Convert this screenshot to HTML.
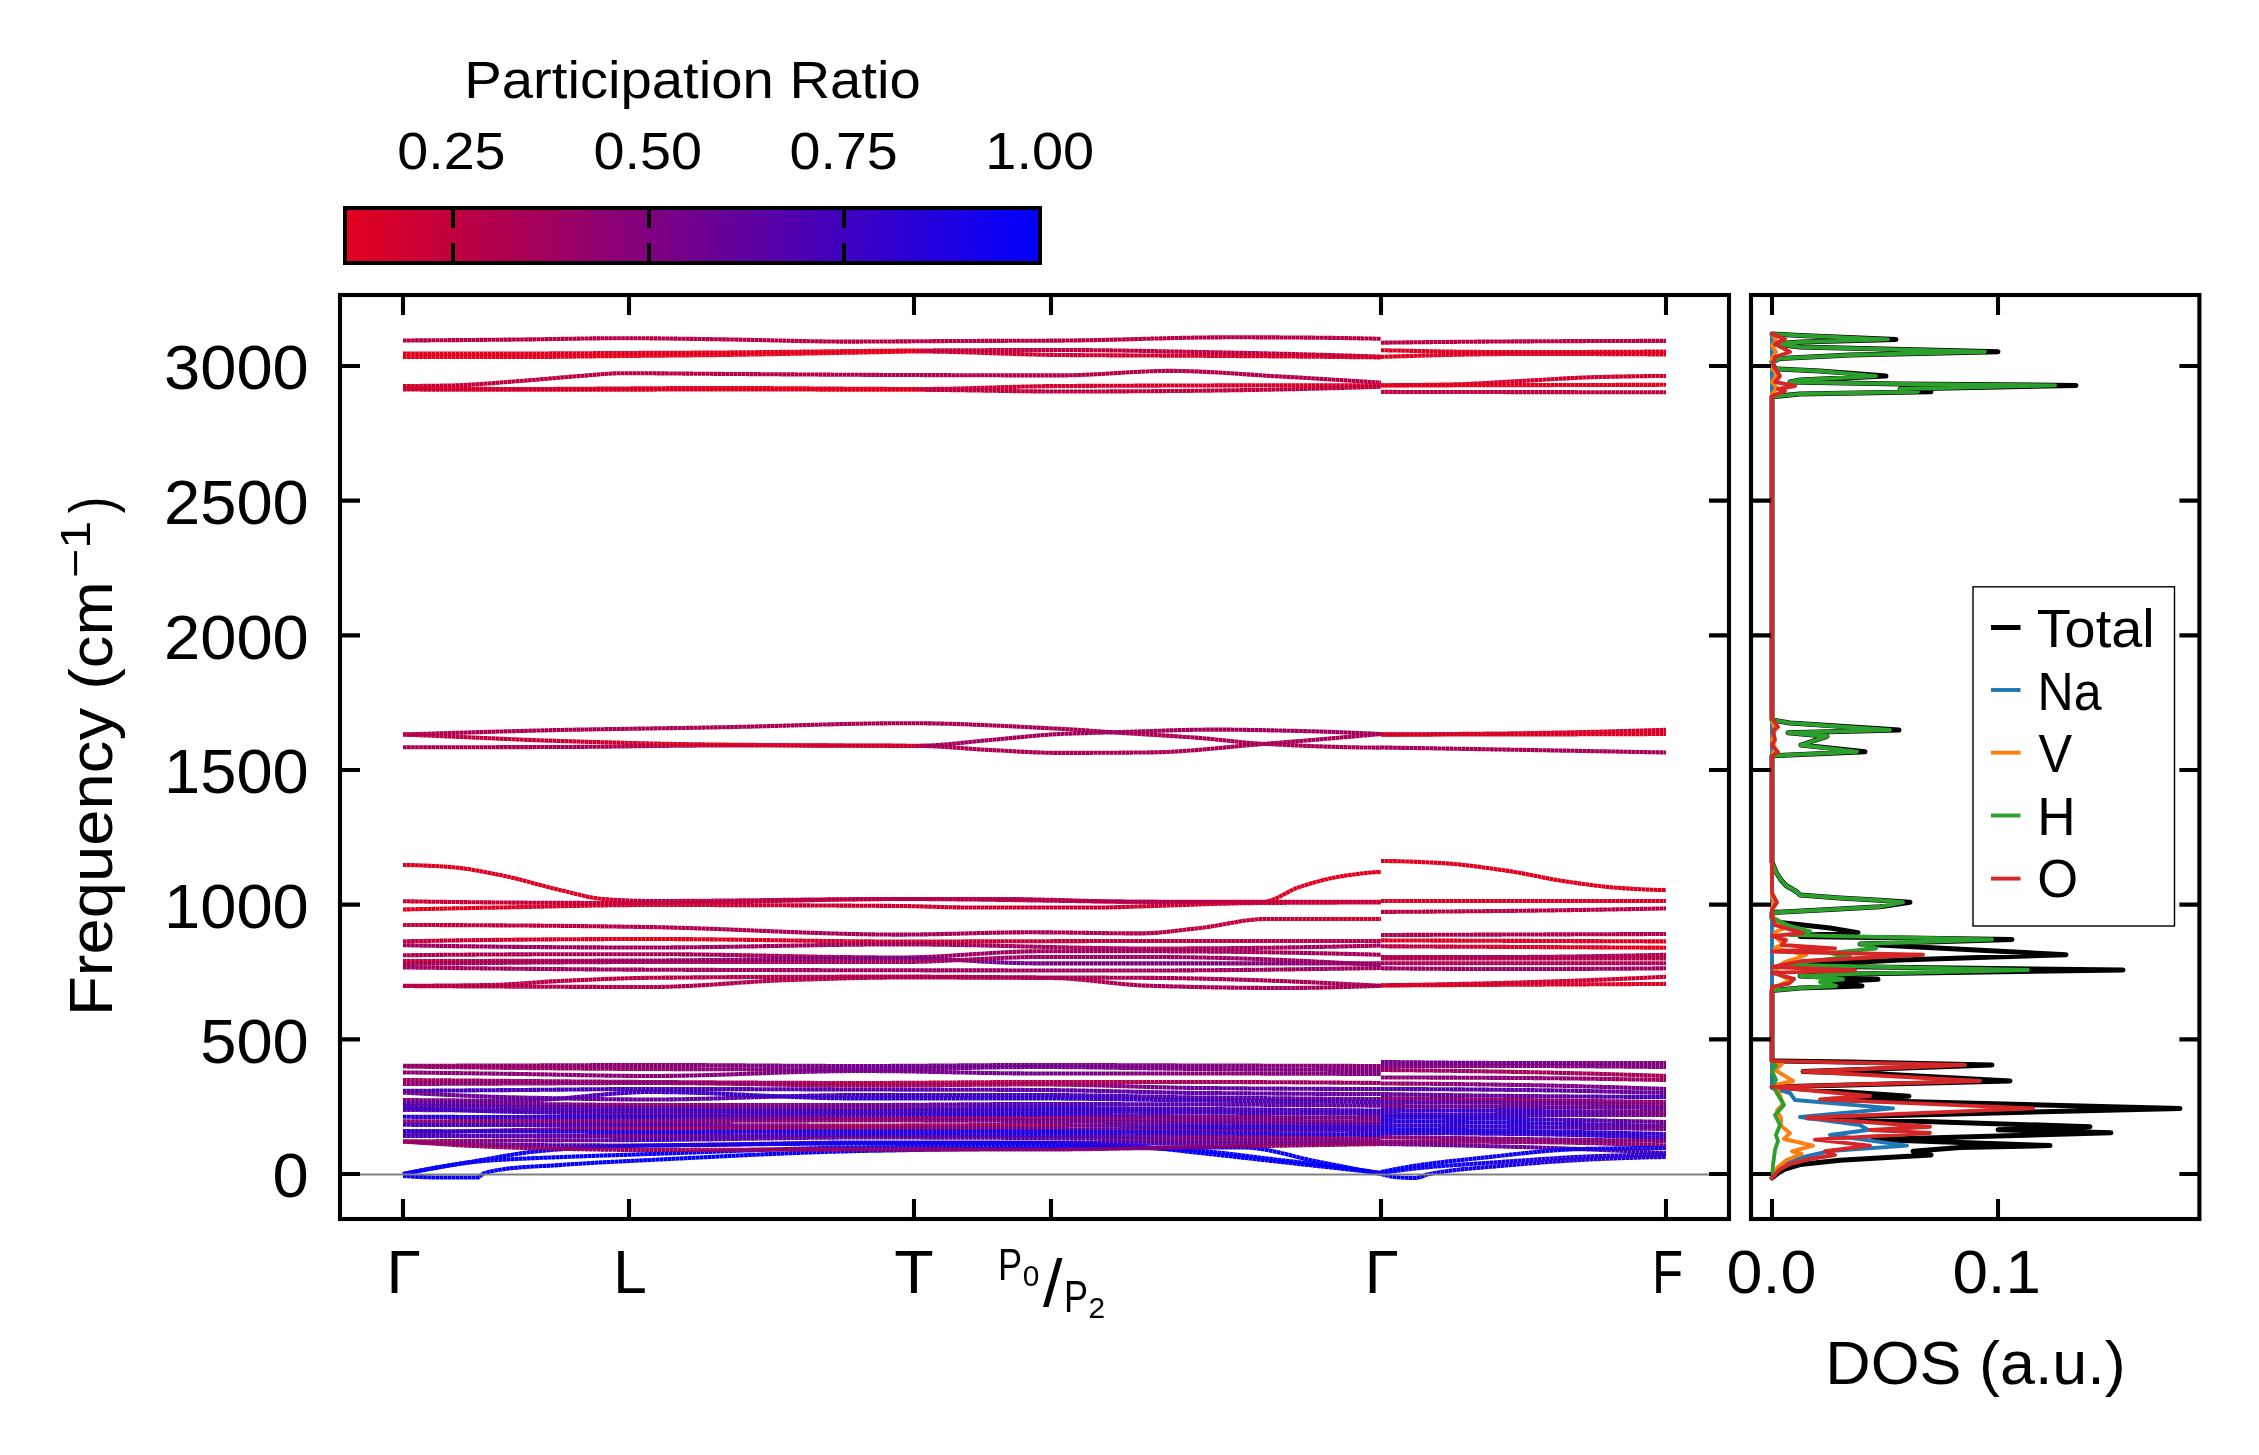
<!DOCTYPE html>
<html><head><meta charset="utf-8"><style>
html,body{margin:0;padding:0;background:#fff;width:2259px;height:1455px;overflow:hidden}
svg{display:block;will-change:transform}
text{font-family:"Liberation Sans",sans-serif}
</style></head><body>
<svg width="2259" height="1455" viewBox="0 0 2259 1455">
<defs><linearGradient id="cbg" x1="0" y1="0" x2="1" y2="0"><stop offset="0" stop-color="#e3001c"/><stop offset="1" stop-color="#0000ff"/></linearGradient><linearGradient id="g1" gradientUnits="userSpaceOnUse" x1="403" y1="0" x2="1381" y2="0"><stop offset="0.0000" stop-color="#de0021"/><stop offset="0.5184" stop-color="#de0021"/><stop offset="0.5389" stop-color="#bd0042"/><stop offset="1.0000" stop-color="#bd0042"/></linearGradient><linearGradient id="g2" gradientUnits="userSpaceOnUse" x1="403" y1="0" x2="1381" y2="0"><stop offset="0.0000" stop-color="#e6001a"/><stop offset="0.5184" stop-color="#e6001a"/><stop offset="0.5389" stop-color="#cc0033"/><stop offset="1.0000" stop-color="#d90026"/></linearGradient><linearGradient id="g3" gradientUnits="userSpaceOnUse" x1="403" y1="0" x2="1381" y2="0"><stop offset="0.0000" stop-color="#cc0033"/><stop offset="0.2014" stop-color="#ba0045"/><stop offset="1.0000" stop-color="#b2004c"/></linearGradient><linearGradient id="g4" gradientUnits="userSpaceOnUse" x1="403" y1="0" x2="1381" y2="0"><stop offset="0.0000" stop-color="#d90026"/><stop offset="0.5184" stop-color="#e6001a"/><stop offset="0.5389" stop-color="#cc0033"/><stop offset="1.0000" stop-color="#de0021"/></linearGradient><linearGradient id="g5" gradientUnits="userSpaceOnUse" x1="403" y1="0" x2="1381" y2="0"><stop offset="0.0000" stop-color="#cc0033"/><stop offset="0.5184" stop-color="#e6001a"/><stop offset="0.5389" stop-color="#bf0040"/><stop offset="1.0000" stop-color="#bf0040"/></linearGradient><linearGradient id="g6" gradientUnits="userSpaceOnUse" x1="403" y1="0" x2="1381" y2="0"><stop offset="0.0000" stop-color="#ab0054"/><stop offset="0.5082" stop-color="#b2004c"/><stop offset="1.0000" stop-color="#a3005c"/></linearGradient><linearGradient id="g7" gradientUnits="userSpaceOnUse" x1="403" y1="0" x2="1381" y2="0"><stop offset="0.0000" stop-color="#b80047"/><stop offset="0.2014" stop-color="#cc0033"/><stop offset="0.3241" stop-color="#db0024"/><stop offset="0.5184" stop-color="#d60029"/><stop offset="0.5389" stop-color="#a3005c"/><stop offset="1.0000" stop-color="#a3005c"/></linearGradient><linearGradient id="g8" gradientUnits="userSpaceOnUse" x1="403" y1="0" x2="1381" y2="0"><stop offset="0.0000" stop-color="#de0021"/><stop offset="0.2014" stop-color="#d90026"/><stop offset="0.2526" stop-color="#b2004c"/><stop offset="0.8661" stop-color="#b2004c"/><stop offset="0.8865" stop-color="#de0021"/><stop offset="1.0000" stop-color="#de0021"/></linearGradient><linearGradient id="g9" gradientUnits="userSpaceOnUse" x1="403" y1="0" x2="1381" y2="0"><stop offset="0.0000" stop-color="#cc0033"/><stop offset="0.2526" stop-color="#bf0040"/><stop offset="1.0000" stop-color="#ab0054"/></linearGradient><linearGradient id="g10" gradientUnits="userSpaceOnUse" x1="403" y1="0" x2="1381" y2="0"><stop offset="0.0000" stop-color="#e6001a"/><stop offset="0.2526" stop-color="#cc0033"/><stop offset="1.0000" stop-color="#cc0033"/></linearGradient><linearGradient id="g11" gradientUnits="userSpaceOnUse" x1="403" y1="0" x2="1381" y2="0"><stop offset="0.0000" stop-color="#c70038"/><stop offset="0.5082" stop-color="#a60059"/><stop offset="0.7536" stop-color="#b2004c"/><stop offset="1.0000" stop-color="#d90026"/></linearGradient><linearGradient id="g12" gradientUnits="userSpaceOnUse" x1="403" y1="0" x2="1381" y2="0"><stop offset="0.0000" stop-color="#bf0040"/><stop offset="0.2526" stop-color="#e6001a"/><stop offset="0.5082" stop-color="#cc0033"/><stop offset="1.0000" stop-color="#b2004c"/></linearGradient><linearGradient id="g13" gradientUnits="userSpaceOnUse" x1="403" y1="0" x2="1381" y2="0"><stop offset="0.0000" stop-color="#9e0061"/><stop offset="1.0000" stop-color="#a60059"/></linearGradient><linearGradient id="g14" gradientUnits="userSpaceOnUse" x1="403" y1="0" x2="1381" y2="0"><stop offset="0.0000" stop-color="#b2004c"/><stop offset="0.5082" stop-color="#9e0061"/><stop offset="1.0000" stop-color="#a60059"/></linearGradient><linearGradient id="g15" gradientUnits="userSpaceOnUse" x1="403" y1="0" x2="1381" y2="0"><stop offset="0.0000" stop-color="#cc0033"/><stop offset="0.2526" stop-color="#990066"/><stop offset="0.6104" stop-color="#73008c"/><stop offset="1.0000" stop-color="#8c0073"/></linearGradient><linearGradient id="g16" gradientUnits="userSpaceOnUse" x1="403" y1="0" x2="1381" y2="0"><stop offset="0.0000" stop-color="#a60059"/><stop offset="1.0000" stop-color="#990066"/></linearGradient><linearGradient id="g17" gradientUnits="userSpaceOnUse" x1="403" y1="0" x2="1381" y2="0"><stop offset="0.0000" stop-color="#bf0040"/><stop offset="1.0000" stop-color="#a60059"/></linearGradient><linearGradient id="g18" gradientUnits="userSpaceOnUse" x1="403" y1="0" x2="1381" y2="0"><stop offset="0.0000" stop-color="#b80047"/><stop offset="1.0000" stop-color="#a60059"/></linearGradient><linearGradient id="g19" gradientUnits="userSpaceOnUse" x1="1381" y1="0" x2="1666" y2="0"><stop offset="0.0000" stop-color="#b2004c"/><stop offset="0.4175" stop-color="#d90026"/><stop offset="1.0000" stop-color="#e6001a"/></linearGradient><linearGradient id="g20" gradientUnits="userSpaceOnUse" x1="1381" y1="0" x2="1666" y2="0"><stop offset="0.0000" stop-color="#b2004c"/><stop offset="0.4175" stop-color="#8c0073"/><stop offset="1.0000" stop-color="#b2004c"/></linearGradient><linearGradient id="g21" gradientUnits="userSpaceOnUse" x1="403" y1="0" x2="1381" y2="0"><stop offset="0.0000" stop-color="#0500fa"/><stop offset="1.0000" stop-color="#0500fa"/></linearGradient><linearGradient id="g22" gradientUnits="userSpaceOnUse" x1="403" y1="0" x2="1381" y2="0"><stop offset="0.0000" stop-color="#0500fa"/><stop offset="1.0000" stop-color="#0500fa"/></linearGradient><linearGradient id="g23" gradientUnits="userSpaceOnUse" x1="403" y1="0" x2="1381" y2="0"><stop offset="0.0000" stop-color="#0500fa"/><stop offset="1.0000" stop-color="#0500fa"/></linearGradient><linearGradient id="g24" gradientUnits="userSpaceOnUse" x1="403" y1="0" x2="1381" y2="0"><stop offset="0.0000" stop-color="#94006b"/><stop offset="0.1196" stop-color="#8f0070"/><stop offset="0.2526" stop-color="#8c0073"/><stop offset="0.4673" stop-color="#73008c"/><stop offset="0.6513" stop-color="#73008c"/><stop offset="0.8149" stop-color="#800080"/><stop offset="1.0000" stop-color="#8c0073"/></linearGradient><linearGradient id="g25" gradientUnits="userSpaceOnUse" x1="403" y1="0" x2="1381" y2="0"><stop offset="0.0000" stop-color="#990066"/><stop offset="0.1196" stop-color="#990066"/><stop offset="0.2526" stop-color="#94006b"/><stop offset="0.4673" stop-color="#73008c"/><stop offset="0.6513" stop-color="#73008c"/><stop offset="0.8149" stop-color="#800080"/><stop offset="1.0000" stop-color="#800080"/></linearGradient><linearGradient id="g26" gradientUnits="userSpaceOnUse" x1="403" y1="0" x2="1381" y2="0"><stop offset="0.0000" stop-color="#8c0073"/><stop offset="0.1196" stop-color="#8c0073"/><stop offset="0.2526" stop-color="#8c0073"/><stop offset="0.4673" stop-color="#73008c"/><stop offset="0.6513" stop-color="#73008c"/><stop offset="0.8149" stop-color="#8c0073"/><stop offset="1.0000" stop-color="#800080"/></linearGradient><linearGradient id="g27" gradientUnits="userSpaceOnUse" x1="403" y1="0" x2="1381" y2="0"><stop offset="0.0000" stop-color="#a60059"/><stop offset="0.1196" stop-color="#990066"/><stop offset="0.2526" stop-color="#94006b"/><stop offset="0.4673" stop-color="#b2004c"/><stop offset="0.6513" stop-color="#b80047"/><stop offset="0.8149" stop-color="#a60059"/><stop offset="1.0000" stop-color="#990066"/></linearGradient><linearGradient id="g28" gradientUnits="userSpaceOnUse" x1="403" y1="0" x2="1381" y2="0"><stop offset="0.0000" stop-color="#8c0073"/><stop offset="0.1196" stop-color="#8c0073"/><stop offset="0.2526" stop-color="#8c0073"/><stop offset="0.4673" stop-color="#a60059"/><stop offset="0.6513" stop-color="#a60059"/><stop offset="0.8149" stop-color="#660099"/><stop offset="1.0000" stop-color="#5900a6"/></linearGradient><linearGradient id="g29" gradientUnits="userSpaceOnUse" x1="403" y1="0" x2="1381" y2="0"><stop offset="0.0000" stop-color="#4700b8"/><stop offset="0.1196" stop-color="#4700b8"/><stop offset="0.2526" stop-color="#4700b8"/><stop offset="0.4673" stop-color="#5900a6"/><stop offset="0.6513" stop-color="#5900a6"/><stop offset="0.8149" stop-color="#5900a6"/><stop offset="1.0000" stop-color="#660099"/></linearGradient><linearGradient id="g30" gradientUnits="userSpaceOnUse" x1="403" y1="0" x2="1381" y2="0"><stop offset="0.0000" stop-color="#73008c"/><stop offset="0.1196" stop-color="#660099"/><stop offset="0.2526" stop-color="#660099"/><stop offset="0.4673" stop-color="#4000bf"/><stop offset="0.6513" stop-color="#4000bf"/><stop offset="0.8149" stop-color="#5900a6"/><stop offset="1.0000" stop-color="#660099"/></linearGradient><linearGradient id="g31" gradientUnits="userSpaceOnUse" x1="403" y1="0" x2="1381" y2="0"><stop offset="0.0000" stop-color="#800080"/><stop offset="0.1196" stop-color="#660099"/><stop offset="0.2526" stop-color="#4000bf"/><stop offset="0.4673" stop-color="#3800c7"/><stop offset="0.6513" stop-color="#3300cc"/><stop offset="0.8149" stop-color="#4700b8"/><stop offset="1.0000" stop-color="#4d00b2"/></linearGradient><linearGradient id="g32" gradientUnits="userSpaceOnUse" x1="403" y1="0" x2="1381" y2="0"><stop offset="0.0000" stop-color="#5900a6"/><stop offset="0.1196" stop-color="#73008c"/><stop offset="0.2526" stop-color="#8c0073"/><stop offset="0.4673" stop-color="#73008c"/><stop offset="0.6513" stop-color="#4d00b2"/><stop offset="0.8149" stop-color="#5900a6"/><stop offset="1.0000" stop-color="#660099"/></linearGradient><linearGradient id="g33" gradientUnits="userSpaceOnUse" x1="403" y1="0" x2="1381" y2="0"><stop offset="0.0000" stop-color="#4d00b2"/><stop offset="0.1196" stop-color="#5900a6"/><stop offset="0.2526" stop-color="#660099"/><stop offset="0.4673" stop-color="#73008c"/><stop offset="0.6513" stop-color="#3300cc"/><stop offset="0.8149" stop-color="#4d00b2"/><stop offset="1.0000" stop-color="#4000bf"/></linearGradient><linearGradient id="g34" gradientUnits="userSpaceOnUse" x1="403" y1="0" x2="1381" y2="0"><stop offset="0.0000" stop-color="#660099"/><stop offset="0.1196" stop-color="#4d00b2"/><stop offset="0.2526" stop-color="#4000bf"/><stop offset="0.4673" stop-color="#4000bf"/><stop offset="0.6513" stop-color="#3300cc"/><stop offset="0.8149" stop-color="#4000bf"/><stop offset="1.0000" stop-color="#4d00b2"/></linearGradient><linearGradient id="g35" gradientUnits="userSpaceOnUse" x1="403" y1="0" x2="1381" y2="0"><stop offset="0.0000" stop-color="#4000bf"/><stop offset="0.1196" stop-color="#4d00b2"/><stop offset="0.2526" stop-color="#5900a6"/><stop offset="0.4673" stop-color="#4000bf"/><stop offset="0.6513" stop-color="#2600d9"/><stop offset="0.8149" stop-color="#7a0085"/><stop offset="1.0000" stop-color="#73008c"/></linearGradient><linearGradient id="g36" gradientUnits="userSpaceOnUse" x1="403" y1="0" x2="1381" y2="0"><stop offset="0.0000" stop-color="#2600d9"/><stop offset="0.1196" stop-color="#2e00d1"/><stop offset="0.2526" stop-color="#3300cc"/><stop offset="0.4673" stop-color="#800080"/><stop offset="0.6513" stop-color="#8c0073"/><stop offset="0.8149" stop-color="#73008c"/><stop offset="1.0000" stop-color="#800080"/></linearGradient><linearGradient id="g37" gradientUnits="userSpaceOnUse" x1="403" y1="0" x2="1381" y2="0"><stop offset="0.0000" stop-color="#990066"/><stop offset="0.1196" stop-color="#8c0073"/><stop offset="0.2526" stop-color="#800080"/><stop offset="0.4673" stop-color="#8c0073"/><stop offset="0.6513" stop-color="#73008c"/><stop offset="0.8149" stop-color="#660099"/><stop offset="1.0000" stop-color="#4d00b2"/></linearGradient><linearGradient id="g38" gradientUnits="userSpaceOnUse" x1="403" y1="0" x2="1381" y2="0"><stop offset="0.0000" stop-color="#4000bf"/><stop offset="0.1196" stop-color="#4700b8"/><stop offset="0.2526" stop-color="#4d00b2"/><stop offset="0.4673" stop-color="#a60059"/><stop offset="0.6513" stop-color="#990066"/><stop offset="0.8149" stop-color="#2600d9"/><stop offset="1.0000" stop-color="#3300cc"/></linearGradient><linearGradient id="g39" gradientUnits="userSpaceOnUse" x1="403" y1="0" x2="1381" y2="0"><stop offset="0.0000" stop-color="#660099"/><stop offset="0.1196" stop-color="#800080"/><stop offset="0.2526" stop-color="#8c0073"/><stop offset="0.4673" stop-color="#990066"/><stop offset="0.6513" stop-color="#660099"/><stop offset="0.8149" stop-color="#5900a6"/><stop offset="1.0000" stop-color="#4000bf"/></linearGradient><linearGradient id="g40" gradientUnits="userSpaceOnUse" x1="403" y1="0" x2="1381" y2="0"><stop offset="0.0000" stop-color="#3300cc"/><stop offset="0.1196" stop-color="#2e00d1"/><stop offset="0.2526" stop-color="#2600d9"/><stop offset="0.4673" stop-color="#1f00e0"/><stop offset="0.6513" stop-color="#1900e6"/><stop offset="0.8149" stop-color="#2e00d1"/><stop offset="1.0000" stop-color="#2600d9"/></linearGradient><linearGradient id="g41" gradientUnits="userSpaceOnUse" x1="403" y1="0" x2="1381" y2="0"><stop offset="0.0000" stop-color="#4000bf"/><stop offset="0.1196" stop-color="#5900a6"/><stop offset="0.2526" stop-color="#73008c"/><stop offset="0.4673" stop-color="#2600d9"/><stop offset="0.6513" stop-color="#2600d9"/><stop offset="0.8149" stop-color="#800080"/><stop offset="1.0000" stop-color="#8c0073"/></linearGradient><linearGradient id="g42" gradientUnits="userSpaceOnUse" x1="403" y1="0" x2="1381" y2="0"><stop offset="0.0000" stop-color="#a60059"/><stop offset="0.1196" stop-color="#73008c"/><stop offset="0.2526" stop-color="#4d00b2"/><stop offset="0.4673" stop-color="#660099"/><stop offset="0.6513" stop-color="#5900a6"/><stop offset="0.8149" stop-color="#73008c"/><stop offset="1.0000" stop-color="#800080"/></linearGradient><linearGradient id="g43" gradientUnits="userSpaceOnUse" x1="403" y1="0" x2="1381" y2="0"><stop offset="0.0000" stop-color="#9e0061"/><stop offset="0.1196" stop-color="#660099"/><stop offset="0.2526" stop-color="#2600d9"/><stop offset="0.4673" stop-color="#1900e6"/><stop offset="0.6513" stop-color="#1f00e0"/><stop offset="0.8149" stop-color="#660099"/><stop offset="1.0000" stop-color="#8c0073"/></linearGradient><linearGradient id="g44" gradientUnits="userSpaceOnUse" x1="403" y1="0" x2="1381" y2="0"><stop offset="0.0000" stop-color="#990066"/><stop offset="0.1196" stop-color="#94006b"/><stop offset="0.2526" stop-color="#9e0061"/><stop offset="0.4673" stop-color="#a60059"/><stop offset="0.6513" stop-color="#8c0073"/><stop offset="0.8149" stop-color="#8c0073"/><stop offset="1.0000" stop-color="#990066"/></linearGradient><linearGradient id="g45" gradientUnits="userSpaceOnUse" x1="1381" y1="0" x2="1666" y2="0"><stop offset="0.0000" stop-color="#73008c"/><stop offset="0.4877" stop-color="#73008c"/><stop offset="1.0000" stop-color="#800080"/></linearGradient><linearGradient id="g46" gradientUnits="userSpaceOnUse" x1="1381" y1="0" x2="1666" y2="0"><stop offset="0.0000" stop-color="#800080"/><stop offset="0.4877" stop-color="#800080"/><stop offset="1.0000" stop-color="#800080"/></linearGradient><linearGradient id="g47" gradientUnits="userSpaceOnUse" x1="1381" y1="0" x2="1666" y2="0"><stop offset="0.0000" stop-color="#990066"/><stop offset="0.4877" stop-color="#a60059"/><stop offset="1.0000" stop-color="#a60059"/></linearGradient><linearGradient id="g48" gradientUnits="userSpaceOnUse" x1="1381" y1="0" x2="1666" y2="0"><stop offset="0.0000" stop-color="#8c0073"/><stop offset="0.4877" stop-color="#8c0073"/><stop offset="1.0000" stop-color="#a60059"/></linearGradient><linearGradient id="g49" gradientUnits="userSpaceOnUse" x1="1381" y1="0" x2="1666" y2="0"><stop offset="0.0000" stop-color="#990066"/><stop offset="0.4877" stop-color="#800080"/><stop offset="1.0000" stop-color="#73008c"/></linearGradient><linearGradient id="g50" gradientUnits="userSpaceOnUse" x1="1381" y1="0" x2="1666" y2="0"><stop offset="0.0000" stop-color="#4d00b2"/><stop offset="0.4877" stop-color="#5900a6"/><stop offset="1.0000" stop-color="#660099"/></linearGradient><linearGradient id="g51" gradientUnits="userSpaceOnUse" x1="1381" y1="0" x2="1666" y2="0"><stop offset="0.0000" stop-color="#660099"/><stop offset="0.4877" stop-color="#660099"/><stop offset="1.0000" stop-color="#4000bf"/></linearGradient><linearGradient id="g52" gradientUnits="userSpaceOnUse" x1="1381" y1="0" x2="1666" y2="0"><stop offset="0.0000" stop-color="#800080"/><stop offset="0.4877" stop-color="#8c0073"/><stop offset="1.0000" stop-color="#8c0073"/></linearGradient><linearGradient id="g53" gradientUnits="userSpaceOnUse" x1="1381" y1="0" x2="1666" y2="0"><stop offset="0.0000" stop-color="#5900a6"/><stop offset="0.4877" stop-color="#660099"/><stop offset="1.0000" stop-color="#8c0073"/></linearGradient><linearGradient id="g54" gradientUnits="userSpaceOnUse" x1="1381" y1="0" x2="1666" y2="0"><stop offset="0.0000" stop-color="#73008c"/><stop offset="0.4877" stop-color="#660099"/><stop offset="1.0000" stop-color="#660099"/></linearGradient><linearGradient id="g55" gradientUnits="userSpaceOnUse" x1="1381" y1="0" x2="1666" y2="0"><stop offset="0.0000" stop-color="#4000bf"/><stop offset="0.4877" stop-color="#3300cc"/><stop offset="1.0000" stop-color="#8c0073"/></linearGradient><linearGradient id="g56" gradientUnits="userSpaceOnUse" x1="1381" y1="0" x2="1666" y2="0"><stop offset="0.0000" stop-color="#4000bf"/><stop offset="0.4877" stop-color="#4000bf"/><stop offset="1.0000" stop-color="#800080"/></linearGradient><linearGradient id="g57" gradientUnits="userSpaceOnUse" x1="1381" y1="0" x2="1666" y2="0"><stop offset="0.0000" stop-color="#2600d9"/><stop offset="0.4877" stop-color="#3300cc"/><stop offset="1.0000" stop-color="#73008c"/></linearGradient><linearGradient id="g58" gradientUnits="userSpaceOnUse" x1="1381" y1="0" x2="1666" y2="0"><stop offset="0.0000" stop-color="#2600d9"/><stop offset="0.4877" stop-color="#2600d9"/><stop offset="1.0000" stop-color="#660099"/></linearGradient><linearGradient id="g59" gradientUnits="userSpaceOnUse" x1="1381" y1="0" x2="1666" y2="0"><stop offset="0.0000" stop-color="#3300cc"/><stop offset="0.4877" stop-color="#3300cc"/><stop offset="1.0000" stop-color="#800080"/></linearGradient><linearGradient id="g60" gradientUnits="userSpaceOnUse" x1="1381" y1="0" x2="1666" y2="0"><stop offset="0.0000" stop-color="#1900e6"/><stop offset="0.4877" stop-color="#2600d9"/><stop offset="1.0000" stop-color="#3300cc"/></linearGradient><linearGradient id="g61" gradientUnits="userSpaceOnUse" x1="1381" y1="0" x2="1666" y2="0"><stop offset="0.0000" stop-color="#2600d9"/><stop offset="0.4877" stop-color="#3300cc"/><stop offset="1.0000" stop-color="#3300cc"/></linearGradient><linearGradient id="g62" gradientUnits="userSpaceOnUse" x1="1381" y1="0" x2="1666" y2="0"><stop offset="0.0000" stop-color="#8c0073"/><stop offset="0.4877" stop-color="#800080"/><stop offset="1.0000" stop-color="#800080"/></linearGradient><linearGradient id="g63" gradientUnits="userSpaceOnUse" x1="1381" y1="0" x2="1666" y2="0"><stop offset="0.0000" stop-color="#8c0073"/><stop offset="0.4877" stop-color="#8c0073"/><stop offset="1.0000" stop-color="#8c0073"/></linearGradient><linearGradient id="g64" gradientUnits="userSpaceOnUse" x1="1381" y1="0" x2="1666" y2="0"><stop offset="0.0000" stop-color="#800080"/><stop offset="0.4877" stop-color="#660099"/><stop offset="1.0000" stop-color="#4d00b2"/></linearGradient><linearGradient id="g65" gradientUnits="userSpaceOnUse" x1="1381" y1="0" x2="1666" y2="0"><stop offset="0.0000" stop-color="#0500fa"/><stop offset="1.0000" stop-color="#1900e6"/></linearGradient><linearGradient id="g66" gradientUnits="userSpaceOnUse" x1="1381" y1="0" x2="1666" y2="0"><stop offset="0.0000" stop-color="#0500fa"/><stop offset="1.0000" stop-color="#3300cc"/></linearGradient><linearGradient id="g67" gradientUnits="userSpaceOnUse" x1="1381" y1="0" x2="1666" y2="0"><stop offset="0.0000" stop-color="#0500fa"/><stop offset="1.0000" stop-color="#3300cc"/></linearGradient></defs>
<rect width="2259" height="1455" fill="#fff"/>
<path d="M403 340.5 408.02 340.47 413.03 340.43 418.05 340.4 423.06 340.36 428.08 340.33 433.09 340.29 438.11 340.25 443.12 340.21 448.14 340.17 453.15 340.13 458.17 340.09 463.18 340.04 468.2 340 473.22 339.95 478.23 339.91 483.25 339.86 488.26 339.81 493.28 339.77 498.29 339.72 503.31 339.67 508.32 339.62 513.34 339.57 518.35 339.52 523.37 339.46 528.38 339.4 533.4 339.34 538.42 339.26 543.43 339.19 548.45 339.1 553.46 339.02 558.48 338.94 563.49 338.85 568.51 338.77 573.52 338.69 578.54 338.61 583.55 338.53 588.57 338.46 593.58 338.4 598.6 338.34 603.62 338.29 608.63 338.25 613.65 338.22 618.66 338.2 623.68 338.2 628.69 338.21 633.71 338.22 638.72 338.25 643.74 338.28 648.75 338.32 653.77 338.37 658.78 338.42 663.8 338.48 668.82 338.55 673.83 338.62 678.85 338.69 683.86 338.76 688.88 338.84 693.89 338.91 698.91 338.99 703.92 339.07 708.94 339.14 713.95 339.21 718.97 339.29 723.98 339.36 729 339.44 734.02 339.53 739.03 339.63 744.05 339.73 749.06 339.84 754.08 339.95 759.09 340.07 764.11 340.19 769.12 340.31 774.14 340.43 779.15 340.56 784.17 340.67 789.18 340.79 794.2 340.9 799.22 341.01 804.23 341.11 809.25 341.21 814.26 341.29 819.28 341.37 824.29 341.44 829.31 341.5 834.32 341.54 839.34 341.58 844.35 341.6 849.37 341.6 854.38 341.6 859.4 341.59 864.42 341.57 869.43 341.56 874.45 341.54 879.46 341.51 884.48 341.49 889.49 341.46 894.51 341.43 899.52 341.39 904.54 341.36 909.55 341.33 914.57 341.29 919.58 341.25 924.6 341.22 929.62 341.18 934.63 341.15 939.65 341.11 944.66 341.08 949.68 341.05 954.69 341.03 959.71 341 964.72 340.98 969.74 340.96 974.75 340.94 979.77 340.92 984.78 340.9 989.8 340.89 994.82 340.87 999.83 340.85 1004.85 340.84 1009.86 340.82 1014.88 340.81 1019.89 340.79 1024.91 340.77 1029.92 340.75 1034.94 340.73 1039.95 340.71 1044.97 340.68 1049.98 340.66 1055 340.63 1060.02 340.6 1065.03 340.56 1070.05 340.51 1075.06 340.45 1080.08 340.37 1085.09 340.29 1090.11 340.2 1095.12 340.1 1100.14 339.99 1105.15 339.87 1110.17 339.75 1115.18 339.62 1120.2 339.49 1125.22 339.36 1130.23 339.22 1135.25 339.09 1140.26 338.95 1145.28 338.81 1150.29 338.67 1155.31 338.54 1160.32 338.4 1165.34 338.27 1170.35 338.15 1175.37 338.03 1180.38 337.91 1185.4 337.81 1190.42 337.71 1195.43 337.62 1200.45 337.54 1205.46 337.47 1210.48 337.41 1215.49 337.36 1220.51 337.33 1225.52 337.31 1230.54 337.3 1235.55 337.3 1240.57 337.3 1245.58 337.31 1250.6 337.32 1255.62 337.33 1260.63 337.34 1265.65 337.36 1270.66 337.38 1275.68 337.4 1280.69 337.43 1285.71 337.45 1290.72 337.49 1295.74 337.52 1300.75 337.56 1305.77 337.6 1310.78 337.65 1315.8 337.7 1320.82 337.76 1325.83 337.82 1330.85 337.88 1335.86 337.95 1340.88 338.03 1345.89 338.1 1350.91 338.19 1355.92 338.28 1360.94 338.37 1365.95 338.47 1370.97 338.57 1375.98 338.68 1381 338.8" stroke="#b80047" stroke-width="4.1" fill="none" stroke-dasharray="3.74 0.3"/>
<path d="M403 353.5 408.02 353.5 413.03 353.5 418.05 353.5 423.06 353.5 428.08 353.5 433.09 353.5 438.11 353.5 443.12 353.5 448.14 353.5 453.15 353.5 458.17 353.5 463.18 353.5 468.2 353.5 473.22 353.5 478.23 353.5 483.25 353.5 488.26 353.5 493.28 353.5 498.29 353.5 503.31 353.5 508.32 353.5 513.34 353.5 518.35 353.5 523.37 353.5 528.38 353.49 533.4 353.48 538.42 353.47 543.43 353.45 548.45 353.44 553.46 353.41 558.48 353.39 563.49 353.36 568.51 353.33 573.52 353.3 578.54 353.27 583.55 353.24 588.57 353.21 593.58 353.17 598.6 353.14 603.62 353.11 608.63 353.08 613.65 353.05 618.66 353.02 623.68 353 628.69 352.97 633.71 352.95 638.72 352.92 643.74 352.9 648.75 352.88 653.77 352.85 658.78 352.83 663.8 352.81 668.82 352.78 673.83 352.76 678.85 352.74 683.86 352.71 688.88 352.69 693.89 352.66 698.91 352.63 703.92 352.6 708.94 352.57 713.95 352.54 718.97 352.51 723.98 352.47 729 352.43 734.02 352.39 739.03 352.35 744.05 352.3 749.06 352.25 754.08 352.2 759.09 352.15 764.11 352.09 769.12 352.04 774.14 351.98 779.15 351.92 784.17 351.86 789.18 351.8 794.2 351.74 799.22 351.68 804.23 351.62 809.25 351.56 814.26 351.5 819.28 351.44 824.29 351.38 829.31 351.32 834.32 351.26 839.34 351.21 844.35 351.16 849.37 351.1 854.38 351.05 859.4 351.01 864.42 350.96 869.43 350.91 874.45 350.86 879.46 350.82 884.48 350.77 889.49 350.72 894.51 350.68 899.52 350.64 904.54 350.6 909.55 350.56 914.57 350.53 919.58 350.5 924.6 350.48 929.62 350.45 934.63 350.42 939.65 350.4 944.66 350.37 949.68 350.34 954.69 350.32 959.71 350.29 964.72 350.27 969.74 350.25 974.75 350.22 979.77 350.2 984.78 350.18 989.8 350.16 994.82 350.14 999.83 350.12 1004.85 350.1 1009.86 350.09 1014.88 350.07 1019.89 350.06 1024.91 350.04 1029.92 350.03 1034.94 350.02 1039.95 350.01 1044.97 350.01 1049.98 350 1055 350 1060.02 350 1065.03 350 1070.05 350.02 1075.06 350.04 1080.08 350.07 1085.09 350.1 1090.11 350.15 1095.12 350.2 1100.14 350.25 1105.15 350.31 1110.17 350.38 1115.18 350.45 1120.2 350.52 1125.22 350.6 1130.23 350.69 1135.25 350.77 1140.26 350.86 1145.28 350.96 1150.29 351.05 1155.31 351.14 1160.32 351.24 1165.34 351.34 1170.35 351.44 1175.37 351.53 1180.38 351.63 1185.4 351.73 1190.42 351.82 1195.43 351.92 1200.45 352.01 1205.46 352.1 1210.48 352.19 1215.49 352.29 1220.51 352.39 1225.52 352.49 1230.54 352.59 1235.55 352.7 1240.57 352.81 1245.58 352.92 1250.6 353.03 1255.62 353.14 1260.63 353.26 1265.65 353.38 1270.66 353.5 1275.68 353.62 1280.69 353.74 1285.71 353.87 1290.72 354 1295.74 354.13 1300.75 354.26 1305.77 354.39 1310.78 354.53 1315.8 354.67 1320.82 354.8 1325.83 354.94 1330.85 355.09 1335.86 355.23 1340.88 355.38 1345.89 355.52 1350.91 355.67 1355.92 355.82 1360.94 355.98 1365.95 356.13 1370.97 356.29 1375.98 356.44 1381 356.6" stroke="url(#g1)" stroke-width="4.1" fill="none" stroke-dasharray="3.74 0.3"/>
<path d="M403 357 408.02 357 413.03 357 418.05 357 423.06 357 428.08 357 433.09 357 438.11 357 443.12 357 448.14 357 453.15 357 458.17 357 463.18 357 468.2 357 473.22 357 478.23 357 483.25 357 488.26 357 493.28 357 498.29 357 503.31 357 508.32 357 513.34 357 518.35 357 523.37 357 528.38 356.99 533.4 356.97 538.42 356.94 543.43 356.91 548.45 356.87 553.46 356.83 558.48 356.78 563.49 356.72 568.51 356.66 573.52 356.6 578.54 356.54 583.55 356.48 588.57 356.41 593.58 356.35 598.6 356.28 603.62 356.22 608.63 356.16 613.65 356.1 618.66 356.04 623.68 355.99 628.69 355.94 633.71 355.89 638.72 355.85 643.74 355.8 648.75 355.75 653.77 355.7 658.78 355.66 663.8 355.61 668.82 355.56 673.83 355.51 678.85 355.46 683.86 355.41 688.88 355.36 693.89 355.31 698.91 355.25 703.92 355.2 708.94 355.14 713.95 355.08 718.97 355.01 723.98 354.95 729 354.88 734.02 354.81 739.03 354.73 744.05 354.65 749.06 354.57 754.08 354.48 759.09 354.4 764.11 354.31 769.12 354.22 774.14 354.13 779.15 354.03 784.17 353.94 789.18 353.84 794.2 353.74 799.22 353.65 804.23 353.55 809.25 353.45 814.26 353.35 819.28 353.25 824.29 353.16 829.31 353.06 834.32 352.97 839.34 352.87 844.35 352.78 849.37 352.69 854.38 352.6 859.4 352.51 864.42 352.42 869.43 352.32 874.45 352.21 879.46 352.1 884.48 351.99 889.49 351.88 894.51 351.78 899.52 351.69 904.54 351.61 909.55 351.55 914.57 351.52 919.58 351.5 924.6 351.51 929.62 351.54 934.63 351.59 939.65 351.67 944.66 351.75 949.68 351.86 954.69 351.98 959.71 352.11 964.72 352.25 969.74 352.41 974.75 352.57 979.77 352.73 984.78 352.9 989.8 353.08 994.82 353.26 999.83 353.43 1004.85 353.61 1009.86 353.78 1014.88 353.95 1019.89 354.11 1024.91 354.27 1029.92 354.41 1034.94 354.55 1039.95 354.67 1044.97 354.78 1049.98 354.87 1055 354.94 1060.02 355 1065.03 355.05 1070.05 355.09 1075.06 355.13 1080.08 355.16 1085.09 355.2 1090.11 355.23 1095.12 355.26 1100.14 355.29 1105.15 355.32 1110.17 355.35 1115.18 355.37 1120.2 355.4 1125.22 355.42 1130.23 355.44 1135.25 355.47 1140.26 355.49 1145.28 355.51 1150.29 355.53 1155.31 355.56 1160.32 355.58 1165.34 355.6 1170.35 355.63 1175.37 355.65 1180.38 355.68 1185.4 355.71 1190.42 355.74 1195.43 355.77 1200.45 355.8 1205.46 355.84 1210.48 355.87 1215.49 355.91 1220.51 355.95 1225.52 355.98 1230.54 356.02 1235.55 356.06 1240.57 356.1 1245.58 356.14 1250.6 356.18 1255.62 356.22 1260.63 356.26 1265.65 356.3 1270.66 356.34 1275.68 356.39 1280.69 356.43 1285.71 356.47 1290.72 356.52 1295.74 356.56 1300.75 356.61 1305.77 356.65 1310.78 356.7 1315.8 356.75 1320.82 356.79 1325.83 356.84 1330.85 356.89 1335.86 356.94 1340.88 356.99 1345.89 357.04 1350.91 357.09 1355.92 357.14 1360.94 357.19 1365.95 357.24 1370.97 357.29 1375.98 357.35 1381 357.4" stroke="url(#g2)" stroke-width="4.1" fill="none" stroke-dasharray="3.74 0.3"/>
<path d="M403 386 408.02 385.99 413.03 385.97 418.05 385.94 423.06 385.89 428.08 385.83 433.09 385.77 438.11 385.7 443.12 385.62 448.14 385.53 453.15 385.43 458.17 385.28 463.18 385.08 468.2 384.83 473.22 384.54 478.23 384.21 483.25 383.86 488.26 383.49 493.28 383.1 498.29 382.7 503.31 382.3 508.32 381.9 513.34 381.5 518.35 381.12 523.37 380.75 528.38 380.36 533.4 379.94 538.42 379.52 543.43 379.08 548.45 378.64 553.46 378.19 558.48 377.75 563.49 377.32 568.51 376.9 573.52 376.49 578.54 376.11 583.55 375.73 588.57 375.31 593.58 374.88 598.6 374.45 603.62 374.05 608.63 373.7 613.65 373.42 618.66 373.25 623.68 373.2 628.69 373.2 633.71 373.22 638.72 373.23 643.74 373.26 648.75 373.29 653.77 373.32 658.78 373.36 663.8 373.4 668.82 373.44 673.83 373.49 678.85 373.54 683.86 373.59 688.88 373.63 693.89 373.68 698.91 373.73 703.92 373.77 708.94 373.82 713.95 373.86 718.97 373.89 723.98 373.93 729 373.96 734.02 373.99 739.03 374.03 744.05 374.06 749.06 374.1 754.08 374.13 759.09 374.17 764.11 374.2 769.12 374.24 774.14 374.28 779.15 374.31 784.17 374.35 789.18 374.38 794.2 374.41 799.22 374.45 804.23 374.48 809.25 374.52 814.26 374.55 819.28 374.58 824.29 374.61 829.31 374.65 834.32 374.68 839.34 374.71 844.35 374.74 849.37 374.76 854.38 374.79 859.4 374.82 864.42 374.85 869.43 374.87 874.45 374.89 879.46 374.92 884.48 374.94 889.49 374.96 894.51 374.98 899.52 375 904.54 375.02 909.55 375.03 914.57 375.05 919.58 375.07 924.6 375.09 929.62 375.11 934.63 375.12 939.65 375.14 944.66 375.16 949.68 375.17 954.69 375.19 959.71 375.21 964.72 375.22 969.74 375.24 974.75 375.26 979.77 375.27 984.78 375.28 989.8 375.3 994.82 375.31 999.83 375.32 1004.85 375.33 1009.86 375.34 1014.88 375.35 1019.89 375.36 1024.91 375.37 1029.92 375.38 1034.94 375.39 1039.95 375.39 1044.97 375.39 1049.98 375.4 1055 375.4 1060.02 375.4 1065.03 375.37 1070.05 375.29 1075.06 375.17 1080.08 375.01 1085.09 374.8 1090.11 374.57 1095.12 374.32 1100.14 374.04 1105.15 373.75 1110.17 373.45 1115.18 373.14 1120.2 372.83 1125.22 372.53 1130.23 372.24 1135.25 371.96 1140.26 371.71 1145.28 371.48 1150.29 371.28 1155.31 371.12 1160.32 371 1165.34 370.92 1170.35 370.9 1175.37 370.92 1180.38 370.99 1185.4 371.1 1190.42 371.24 1195.43 371.41 1200.45 371.61 1205.46 371.84 1210.48 372.1 1215.49 372.37 1220.51 372.66 1225.52 372.97 1230.54 373.29 1235.55 373.62 1240.57 373.96 1245.58 374.3 1250.6 374.64 1255.62 374.98 1260.63 375.31 1265.65 375.64 1270.66 375.95 1275.68 376.25 1280.69 376.54 1285.71 376.82 1290.72 377.1 1295.74 377.38 1300.75 377.67 1305.77 377.96 1310.78 378.25 1315.8 378.55 1320.82 378.85 1325.83 379.15 1330.85 379.45 1335.86 379.75 1340.88 380.06 1345.89 380.37 1350.91 380.68 1355.92 381 1360.94 381.31 1365.95 381.63 1370.97 381.95 1375.98 382.28 1381 382.6" stroke="url(#g3)" stroke-width="4.1" fill="none" stroke-dasharray="3.74 0.3"/>
<path d="M403 388 408.02 388.07 413.03 388.13 418.05 388.2 423.06 388.26 428.08 388.33 433.09 388.39 438.11 388.45 443.12 388.51 448.14 388.56 453.15 388.62 458.17 388.67 463.18 388.71 468.2 388.76 473.22 388.8 478.23 388.84 483.25 388.87 488.26 388.9 493.28 388.93 498.29 388.95 503.31 388.97 508.32 388.99 513.34 389 518.35 389 523.37 389 528.38 388.99 533.4 388.99 538.42 388.98 543.43 388.96 548.45 388.95 553.46 388.93 558.48 388.9 563.49 388.88 568.51 388.85 573.52 388.82 578.54 388.79 583.55 388.76 588.57 388.73 593.58 388.69 598.6 388.66 603.62 388.62 608.63 388.58 613.65 388.55 618.66 388.51 623.68 388.47 628.69 388.43 633.71 388.4 638.72 388.36 643.74 388.33 648.75 388.29 653.77 388.26 658.78 388.22 663.8 388.19 668.82 388.16 673.83 388.14 678.85 388.11 683.86 388.09 688.88 388.07 693.89 388.05 698.91 388.03 703.92 388.02 708.94 388.01 713.95 388 718.97 388 723.98 388 729 388.01 734.02 388.01 739.03 388.03 744.05 388.04 749.06 388.06 754.08 388.08 759.09 388.1 764.11 388.12 769.12 388.15 774.14 388.18 779.15 388.21 784.17 388.24 789.18 388.28 794.2 388.31 799.22 388.35 804.23 388.38 809.25 388.42 814.26 388.46 819.28 388.49 824.29 388.53 829.31 388.57 834.32 388.61 839.34 388.64 844.35 388.68 849.37 388.71 854.38 388.75 859.4 388.78 864.42 388.81 869.43 388.84 874.45 388.87 879.46 388.89 884.48 388.92 889.49 388.94 894.51 388.96 899.52 388.97 904.54 388.98 909.55 388.99 914.57 389 919.58 389 924.6 388.99 929.62 388.96 934.63 388.92 939.65 388.85 944.66 388.77 949.68 388.68 954.69 388.57 959.71 388.45 964.72 388.33 969.74 388.19 974.75 388.05 979.77 387.9 984.78 387.75 989.8 387.59 994.82 387.44 999.83 387.28 1004.85 387.13 1009.86 386.98 1014.88 386.84 1019.89 386.7 1024.91 386.57 1029.92 386.45 1034.94 386.34 1039.95 386.24 1044.97 386.16 1049.98 386.09 1055 386.03 1060.02 386 1065.03 385.98 1070.05 385.95 1075.06 385.93 1080.08 385.9 1085.09 385.88 1090.11 385.86 1095.12 385.83 1100.14 385.81 1105.15 385.79 1110.17 385.77 1115.18 385.75 1120.2 385.73 1125.22 385.71 1130.23 385.69 1135.25 385.67 1140.26 385.65 1145.28 385.63 1150.29 385.61 1155.31 385.6 1160.32 385.58 1165.34 385.56 1170.35 385.54 1175.37 385.53 1180.38 385.51 1185.4 385.5 1190.42 385.48 1195.43 385.47 1200.45 385.45 1205.46 385.44 1210.48 385.43 1215.49 385.41 1220.51 385.4 1225.52 385.39 1230.54 385.38 1235.55 385.36 1240.57 385.35 1245.58 385.34 1250.6 385.33 1255.62 385.32 1260.63 385.31 1265.65 385.3 1270.66 385.29 1275.68 385.29 1280.69 385.28 1285.71 385.27 1290.72 385.26 1295.74 385.26 1300.75 385.25 1305.77 385.24 1310.78 385.24 1315.8 385.23 1320.82 385.23 1325.83 385.22 1330.85 385.22 1335.86 385.22 1340.88 385.21 1345.89 385.21 1350.91 385.21 1355.92 385.2 1360.94 385.2 1365.95 385.2 1370.97 385.2 1375.98 385.2 1381 385.2" stroke="url(#g4)" stroke-width="4.1" fill="none" stroke-dasharray="3.74 0.3"/>
<path d="M403 389.5 408.02 389.52 413.03 389.54 418.05 389.56 423.06 389.58 428.08 389.6 433.09 389.62 438.11 389.63 443.12 389.65 448.14 389.67 453.15 389.68 458.17 389.7 463.18 389.71 468.2 389.73 473.22 389.74 478.23 389.75 483.25 389.76 488.26 389.77 493.28 389.78 498.29 389.79 503.31 389.79 508.32 389.8 513.34 389.8 518.35 389.8 523.37 389.8 528.38 389.8 533.4 389.8 538.42 389.79 543.43 389.79 548.45 389.78 553.46 389.78 558.48 389.77 563.49 389.76 568.51 389.76 573.52 389.75 578.54 389.74 583.55 389.73 588.57 389.72 593.58 389.71 598.6 389.7 603.62 389.69 608.63 389.68 613.65 389.66 618.66 389.65 623.68 389.64 628.69 389.63 633.71 389.62 638.72 389.61 643.74 389.6 648.75 389.59 653.77 389.58 658.78 389.57 663.8 389.56 668.82 389.55 673.83 389.54 678.85 389.53 683.86 389.53 688.88 389.52 693.89 389.51 698.91 389.51 703.92 389.51 708.94 389.5 713.95 389.5 718.97 389.5 723.98 389.5 729 389.5 734.02 389.5 739.03 389.5 744.05 389.5 749.06 389.51 754.08 389.51 759.09 389.51 764.11 389.52 769.12 389.52 774.14 389.52 779.15 389.53 784.17 389.53 789.18 389.54 794.2 389.54 799.22 389.55 804.23 389.56 809.25 389.56 814.26 389.57 819.28 389.58 824.29 389.59 829.31 389.6 834.32 389.6 839.34 389.61 844.35 389.62 849.37 389.63 854.38 389.64 859.4 389.65 864.42 389.66 869.43 389.67 874.45 389.68 879.46 389.7 884.48 389.71 889.49 389.72 894.51 389.73 899.52 389.75 904.54 389.76 909.55 389.77 914.57 389.78 919.58 389.8 924.6 389.82 929.62 389.85 934.63 389.88 939.65 389.93 944.66 389.99 949.68 390.05 954.69 390.12 959.71 390.19 964.72 390.27 969.74 390.35 974.75 390.43 979.77 390.52 984.78 390.61 989.8 390.7 994.82 390.78 999.83 390.87 1004.85 390.95 1009.86 391.03 1014.88 391.11 1019.89 391.18 1024.91 391.25 1029.92 391.31 1034.94 391.37 1039.95 391.41 1044.97 391.45 1049.98 391.48 1055 391.49 1060.02 391.5 1065.03 391.5 1070.05 391.5 1075.06 391.49 1080.08 391.49 1085.09 391.48 1090.11 391.47 1095.12 391.46 1100.14 391.44 1105.15 391.43 1110.17 391.41 1115.18 391.39 1120.2 391.37 1125.22 391.34 1130.23 391.32 1135.25 391.29 1140.26 391.26 1145.28 391.23 1150.29 391.19 1155.31 391.15 1160.32 391.12 1165.34 391.07 1170.35 391.03 1175.37 390.98 1180.38 390.94 1185.4 390.88 1190.42 390.83 1195.43 390.77 1200.45 390.72 1205.46 390.66 1210.48 390.59 1215.49 390.53 1220.51 390.46 1225.52 390.39 1230.54 390.31 1235.55 390.23 1240.57 390.16 1245.58 390.07 1250.6 389.99 1255.62 389.9 1260.63 389.81 1265.65 389.72 1270.66 389.62 1275.68 389.52 1280.69 389.42 1285.71 389.31 1290.72 389.2 1295.74 389.09 1300.75 388.98 1305.77 388.86 1310.78 388.74 1315.8 388.61 1320.82 388.49 1325.83 388.36 1330.85 388.22 1335.86 388.09 1340.88 387.95 1345.89 387.8 1350.91 387.65 1355.92 387.5 1360.94 387.35 1365.95 387.19 1370.97 387.03 1375.98 386.87 1381 386.7" stroke="url(#g5)" stroke-width="4.1" fill="none" stroke-dasharray="3.74 0.3"/>
<path d="M1381 342.7 1386 342.64 1391 342.57 1396 342.51 1401 342.45 1406 342.39 1411 342.33 1416 342.27 1421 342.21 1426 342.15 1431 342.09 1436 342.04 1441 341.99 1446 341.93 1451 341.88 1456 341.84 1461 341.79 1466 341.74 1471 341.7 1476 341.66 1481 341.62 1486 341.59 1491 341.55 1496 341.52 1501 341.49 1506 341.47 1511 341.44 1516 341.41 1521 341.39 1526 341.36 1531 341.33 1536 341.31 1541 341.28 1546 341.26 1551 341.23 1556 341.21 1561 341.18 1566 341.16 1571 341.14 1576 341.12 1581 341.09 1586 341.07 1591 341.06 1596 341.04 1601 341.02 1606 341 1611 340.99 1616 340.97 1621 340.96 1626 340.95 1631 340.94 1636 340.93 1641 340.92 1646 340.91 1651 340.91 1656 340.9 1661 340.9 1666 340.9" stroke="#ba0045" stroke-width="4.1" fill="none" stroke-dasharray="3.74 0.3"/>
<path d="M1381 350.2 1386 350.31 1391 350.43 1396 350.54 1401 350.65 1406 350.76 1411 350.87 1416 350.97 1421 351.07 1426 351.17 1431 351.27 1436 351.36 1441 351.45 1446 351.53 1451 351.61 1456 351.68 1461 351.74 1466 351.8 1471 351.85 1476 351.9 1481 351.93 1486 351.96 1491 351.98 1496 352 1501 352 1506 352 1511 352 1516 352 1521 352 1526 352 1531 352 1536 351.99 1541 351.99 1546 351.99 1551 351.99 1556 351.98 1561 351.98 1566 351.97 1571 351.96 1576 351.95 1581 351.94 1586 351.93 1591 351.92 1596 351.9 1601 351.89 1606 351.87 1611 351.85 1616 351.83 1621 351.81 1626 351.78 1631 351.75 1636 351.73 1641 351.69 1646 351.66 1651 351.62 1656 351.59 1661 351.54 1666 351.5" stroke="#de0021" stroke-width="4.1" fill="none" stroke-dasharray="3.74 0.3"/>
<path d="M1381 356.9 1386 356.74 1391 356.58 1396 356.42 1401 356.26 1406 356.1 1411 355.95 1416 355.8 1421 355.65 1426 355.51 1431 355.37 1436 355.24 1441 355.11 1446 354.99 1451 354.87 1456 354.76 1461 354.65 1466 354.55 1471 354.46 1476 354.38 1481 354.3 1486 354.23 1491 354.17 1496 354.12 1501 354.07 1506 354.04 1511 354.02 1516 354 1521 354 1526 354 1531 354 1536 354 1541 354 1546 354 1551 354 1556 354.01 1561 354.01 1566 354.02 1571 354.02 1576 354.03 1581 354.04 1586 354.05 1591 354.06 1596 354.07 1601 354.09 1606 354.1 1611 354.12 1616 354.14 1621 354.17 1626 354.19 1631 354.22 1636 354.25 1641 354.28 1646 354.32 1651 354.36 1656 354.4 1661 354.45 1666 354.5" stroke="#de0021" stroke-width="4.1" fill="none" stroke-dasharray="3.74 0.3"/>
<path d="M1381 385.2 1386 385.2 1391 385.18 1396 385.16 1401 385.13 1406 385.09 1411 385.04 1416 384.99 1421 384.93 1426 384.87 1431 384.8 1436 384.72 1441 384.65 1446 384.57 1451 384.48 1456 384.37 1461 384.21 1466 384.02 1471 383.79 1476 383.54 1481 383.27 1486 382.98 1491 382.68 1496 382.38 1501 382.07 1506 381.77 1511 381.48 1516 381.21 1521 380.95 1526 380.69 1531 380.41 1536 380.13 1541 379.84 1546 379.55 1551 379.25 1556 378.96 1561 378.67 1566 378.39 1571 378.13 1576 377.88 1581 377.65 1586 377.44 1591 377.26 1596 377.1 1601 376.98 1606 376.86 1611 376.75 1616 376.64 1621 376.54 1626 376.44 1631 376.35 1636 376.26 1641 376.19 1646 376.12 1651 376.07 1656 376.03 1661 376.01 1666 376" stroke="#d1002e" stroke-width="4.1" fill="none" stroke-dasharray="3.74 0.3"/>
<path d="M1381 385.5L1666 384.8" stroke="#e6001a" stroke-width="4.1" fill="none" stroke-dasharray="3.74 0.3"/>
<path d="M1381 391.9L1666 392.3" stroke="#bf0040" stroke-width="4.1" fill="none" stroke-dasharray="3.74 0.3"/>
<path d="M403 734.5 408.02 734.33 413.03 734.17 418.05 734 423.06 733.84 428.08 733.68 433.09 733.52 438.11 733.36 443.12 733.21 448.14 733.06 453.15 732.91 458.17 732.76 463.18 732.61 468.2 732.46 473.22 732.31 478.23 732.16 483.25 732.01 488.26 731.86 493.28 731.72 498.29 731.57 503.31 731.43 508.32 731.29 513.34 731.15 518.35 731.01 523.37 730.88 528.38 730.75 533.4 730.62 538.42 730.5 543.43 730.37 548.45 730.26 553.46 730.14 558.48 730.03 563.49 729.93 568.51 729.82 573.52 729.73 578.54 729.63 583.55 729.54 588.57 729.44 593.58 729.36 598.6 729.27 603.62 729.18 608.63 729.1 613.65 729.02 618.66 728.94 623.68 728.86 628.69 728.78 633.71 728.7 638.72 728.63 643.74 728.55 648.75 728.47 653.77 728.4 658.78 728.32 663.8 728.24 668.82 728.17 673.83 728.09 678.85 728.01 683.86 727.93 688.88 727.85 693.89 727.76 698.91 727.68 703.92 727.59 708.94 727.5 713.95 727.41 718.97 727.32 723.98 727.22 729 727.12 734.02 727.01 739.03 726.89 744.05 726.77 749.06 726.64 754.08 726.51 759.09 726.38 764.11 726.24 769.12 726.1 774.14 725.96 779.15 725.81 784.17 725.67 789.18 725.52 794.2 725.37 799.22 725.23 804.23 725.08 809.25 724.94 814.26 724.8 819.28 724.66 824.29 724.52 829.31 724.39 834.32 724.26 839.34 724.14 844.35 724.02 849.37 723.91 854.38 723.8 859.4 723.7 864.42 723.61 869.43 723.53 874.45 723.45 879.46 723.39 884.48 723.33 889.49 723.28 894.51 723.24 899.52 723.22 904.54 723.2 909.55 723.2 914.57 723.22 919.58 723.25 924.6 723.31 929.62 723.38 934.63 723.46 939.65 723.57 944.66 723.69 949.68 723.82 954.69 723.97 959.71 724.13 964.72 724.3 969.74 724.48 974.75 724.68 979.77 724.88 984.78 725.09 989.8 725.31 994.82 725.54 999.83 725.77 1004.85 726.01 1009.86 726.26 1014.88 726.51 1019.89 726.76 1024.91 727.01 1029.92 727.27 1034.94 727.53 1039.95 727.78 1044.97 728.04 1049.98 728.3 1055 728.55 1060.02 728.8 1065.03 729.06 1070.05 729.36 1075.06 729.67 1080.08 730 1085.09 730.34 1090.11 730.7 1095.12 731.06 1100.14 731.41 1105.15 731.77 1110.17 732.11 1115.18 732.44 1120.2 732.77 1125.22 733.09 1130.23 733.4 1135.25 733.71 1140.26 734.02 1145.28 734.33 1150.29 734.64 1155.31 734.95 1160.32 735.27 1165.34 735.58 1170.35 735.91 1175.37 736.24 1180.38 736.58 1185.4 736.93 1190.42 737.28 1195.43 737.65 1200.45 738.03 1205.46 738.45 1210.48 738.92 1215.49 739.42 1220.51 739.94 1225.52 740.48 1230.54 741.02 1235.55 741.55 1240.57 742.06 1245.58 742.55 1250.6 742.99 1255.62 743.38 1260.63 743.72 1265.65 743.98 1270.66 744.23 1275.68 744.47 1280.69 744.71 1285.71 744.95 1290.72 745.18 1295.74 745.4 1300.75 745.62 1305.77 745.83 1310.78 746.03 1315.8 746.23 1320.82 746.41 1325.83 746.59 1330.85 746.75 1335.86 746.9 1340.88 747.04 1345.89 747.17 1350.91 747.28 1355.92 747.37 1360.94 747.45 1365.95 747.52 1370.97 747.56 1375.98 747.59 1381 747.6" stroke="#ab0054" stroke-width="4.1" fill="none" stroke-dasharray="3.74 0.3"/>
<path d="M403 747.3 408.02 747.3 413.03 747.3 418.05 747.3 423.06 747.29 428.08 747.29 433.09 747.29 438.11 747.28 443.12 747.28 448.14 747.27 453.15 747.26 458.17 747.25 463.18 747.25 468.2 747.24 473.22 747.23 478.23 747.22 483.25 747.21 488.26 747.2 493.28 747.19 498.29 747.17 503.31 747.16 508.32 747.15 513.34 747.14 518.35 747.12 523.37 747.11 528.38 747.1 533.4 747.08 538.42 747.07 543.43 747.05 548.45 747.04 553.46 747.02 558.48 747 563.49 746.99 568.51 746.96 573.52 746.93 578.54 746.9 583.55 746.86 588.57 746.81 593.58 746.76 598.6 746.71 603.62 746.65 608.63 746.59 613.65 746.53 618.66 746.47 623.68 746.4 628.69 746.34 633.71 746.27 638.72 746.2 643.74 746.14 648.75 746.07 653.77 746.01 658.78 745.94 663.8 745.88 668.82 745.83 673.83 745.77 678.85 745.72 683.86 745.67 688.88 745.63 693.89 745.6 698.91 745.56 703.92 745.54 708.94 745.52 713.95 745.51 718.97 745.5 723.98 745.5 729 745.5 734.02 745.5 739.03 745.5 744.05 745.51 749.06 745.51 754.08 745.51 759.09 745.52 764.11 745.52 769.12 745.52 774.14 745.53 779.15 745.54 784.17 745.54 789.18 745.55 794.2 745.56 799.22 745.57 804.23 745.58 809.25 745.59 814.26 745.6 819.28 745.61 824.29 745.62 829.31 745.63 834.32 745.65 839.34 745.66 844.35 745.68 849.37 745.69 854.38 745.71 859.4 745.72 864.42 745.74 869.43 745.76 874.45 745.78 879.46 745.8 884.48 745.82 889.49 745.85 894.51 745.87 899.52 745.89 904.54 745.92 909.55 745.94 914.57 745.97 919.58 746 924.6 746.06 929.62 746.19 934.63 746.39 939.65 746.63 944.66 746.93 949.68 747.25 954.69 747.61 959.71 747.97 964.72 748.35 969.74 748.72 974.75 749.08 979.77 749.42 984.78 749.72 989.8 749.99 994.82 750.24 999.83 750.5 1004.85 750.78 1009.86 751.06 1014.88 751.33 1019.89 751.61 1024.91 751.87 1029.92 752.11 1034.94 752.33 1039.95 752.52 1044.97 752.68 1049.98 752.8 1055 752.87 1060.02 752.9 1065.03 752.9 1070.05 752.89 1075.06 752.88 1080.08 752.87 1085.09 752.86 1090.11 752.84 1095.12 752.81 1100.14 752.79 1105.15 752.76 1110.17 752.73 1115.18 752.7 1120.2 752.66 1125.22 752.62 1130.23 752.58 1135.25 752.54 1140.26 752.49 1145.28 752.45 1150.29 752.4 1155.31 752.32 1160.32 752.19 1165.34 752.01 1170.35 751.78 1175.37 751.52 1180.38 751.22 1185.4 750.88 1190.42 750.52 1195.43 750.12 1200.45 749.71 1205.46 749.27 1210.48 748.82 1215.49 748.36 1220.51 747.88 1225.52 747.4 1230.54 746.92 1235.55 746.44 1240.57 745.96 1245.58 745.49 1250.6 745.04 1255.62 744.6 1260.63 744.17 1265.65 743.77 1270.66 743.37 1275.68 742.97 1280.69 742.56 1285.71 742.16 1290.72 741.75 1295.74 741.34 1300.75 740.92 1305.77 740.51 1310.78 740.09 1315.8 739.67 1320.82 739.25 1325.83 738.82 1330.85 738.39 1335.86 737.96 1340.88 737.53 1345.89 737.1 1350.91 736.66 1355.92 736.22 1360.94 735.78 1365.95 735.34 1370.97 734.9 1375.98 734.45 1381 734" stroke="url(#g6)" stroke-width="4.1" fill="none" stroke-dasharray="3.74 0.3"/>
<path d="M403 734.5 408.02 734.72 413.03 734.93 418.05 735.15 423.06 735.36 428.08 735.57 433.09 735.79 438.11 736 443.12 736.21 448.14 736.42 453.15 736.63 458.17 736.85 463.18 737.06 468.2 737.28 473.22 737.51 478.23 737.73 483.25 737.95 488.26 738.18 493.28 738.4 498.29 738.62 503.31 738.84 508.32 739.06 513.34 739.28 518.35 739.49 523.37 739.69 528.38 739.89 533.4 740.09 538.42 740.28 543.43 740.46 548.45 740.63 553.46 740.8 558.48 740.95 563.49 741.1 568.51 741.25 573.52 741.4 578.54 741.55 583.55 741.69 588.57 741.84 593.58 741.98 598.6 742.12 603.62 742.26 608.63 742.4 613.65 742.54 618.66 742.67 623.68 742.8 628.69 742.93 633.71 743.06 638.72 743.18 643.74 743.3 648.75 743.42 653.77 743.53 658.78 743.64 663.8 743.74 668.82 743.85 673.83 743.94 678.85 744.04 683.86 744.12 688.88 744.21 693.89 744.28 698.91 744.36 703.92 744.42 708.94 744.49 713.95 744.54 718.97 744.59 723.98 744.64 729 744.68 734.02 744.73 739.03 744.77 744.05 744.81 749.06 744.85 754.08 744.9 759.09 744.94 764.11 744.98 769.12 745.02 774.14 745.06 779.15 745.1 784.17 745.13 789.18 745.17 794.2 745.21 799.22 745.24 804.23 745.28 809.25 745.31 814.26 745.34 819.28 745.37 824.29 745.4 829.31 745.43 834.32 745.46 839.34 745.48 844.35 745.51 849.37 745.53 854.38 745.55 859.4 745.57 864.42 745.59 869.43 745.61 874.45 745.63 879.46 745.64 884.48 745.66 889.49 745.67 894.51 745.68 899.52 745.68 904.54 745.69 909.55 745.7 914.57 745.7 919.58 745.7 924.6 745.65 929.62 745.5 934.63 745.26 939.65 744.94 944.66 744.55 949.68 744.1 954.69 743.61 959.71 743.09 964.72 742.55 969.74 742.01 974.75 741.47 979.77 740.95 984.78 740.46 989.8 740.02 994.82 739.58 999.83 739.13 1004.85 738.65 1009.86 738.16 1014.88 737.66 1019.89 737.17 1024.91 736.68 1029.92 736.2 1034.94 735.75 1039.95 735.32 1044.97 734.92 1049.98 734.57 1055 734.26 1060.02 734 1065.03 733.78 1070.05 733.58 1075.06 733.4 1080.08 733.24 1085.09 733.08 1090.11 732.94 1095.12 732.8 1100.14 732.66 1105.15 732.52 1110.17 732.38 1115.18 732.24 1120.2 732.08 1125.22 731.92 1130.23 731.75 1135.25 731.57 1140.26 731.4 1145.28 731.22 1150.29 731.04 1155.31 730.87 1160.32 730.7 1165.34 730.53 1170.35 730.38 1175.37 730.23 1180.38 730.09 1185.4 729.97 1190.42 729.86 1195.43 729.77 1200.45 729.7 1205.46 729.64 1210.48 729.61 1215.49 729.6 1220.51 729.61 1225.52 729.63 1230.54 729.67 1235.55 729.72 1240.57 729.78 1245.58 729.85 1250.6 729.93 1255.62 730.02 1260.63 730.12 1265.65 730.22 1270.66 730.33 1275.68 730.44 1280.69 730.55 1285.71 730.67 1290.72 730.79 1295.74 730.9 1300.75 731.02 1305.77 731.14 1310.78 731.27 1315.8 731.42 1320.82 731.57 1325.83 731.73 1330.85 731.9 1335.86 732.08 1340.88 732.27 1345.89 732.46 1350.91 732.67 1355.92 732.88 1360.94 733.09 1365.95 733.31 1370.97 733.54 1375.98 733.77 1381 734" stroke="url(#g7)" stroke-width="4.1" fill="none" stroke-dasharray="3.74 0.3"/>
<path d="M1381 734.4 1386 734.39 1391 734.38 1396 734.36 1401 734.34 1406 734.32 1411 734.3 1416 734.27 1421 734.24 1426 734.2 1431 734.17 1436 734.13 1441 734.09 1446 734.05 1451 734 1456 733.96 1461 733.91 1466 733.86 1471 733.81 1476 733.76 1481 733.71 1486 733.65 1491 733.6 1496 733.54 1501 733.49 1506 733.43 1511 733.37 1516 733.3 1521 733.23 1526 733.16 1531 733.08 1536 733 1541 732.91 1546 732.83 1551 732.73 1556 732.64 1561 732.54 1566 732.43 1571 732.33 1576 732.22 1581 732.11 1586 731.99 1591 731.87 1596 731.75 1601 731.63 1606 731.5 1611 731.37 1616 731.24 1621 731.11 1626 730.97 1631 730.83 1636 730.69 1641 730.55 1646 730.4 1651 730.25 1656 730.11 1661 729.95 1666 729.8" stroke="#d4002b" stroke-width="4.1" fill="none" stroke-dasharray="3.74 0.3"/>
<path d="M1381 734.6 1386 734.6 1391 734.6 1396 734.6 1401 734.6 1406 734.59 1411 734.59 1416 734.59 1421 734.59 1426 734.58 1431 734.58 1436 734.57 1441 734.57 1446 734.56 1451 734.56 1456 734.55 1461 734.55 1466 734.54 1471 734.54 1476 734.53 1481 734.52 1486 734.52 1491 734.51 1496 734.51 1501 734.5 1506 734.49 1511 734.48 1516 734.48 1521 734.47 1526 734.46 1531 734.45 1536 734.44 1541 734.43 1546 734.41 1551 734.4 1556 734.39 1561 734.38 1566 734.36 1571 734.35 1576 734.33 1581 734.32 1586 734.3 1591 734.29 1596 734.27 1601 734.25 1606 734.24 1611 734.22 1616 734.2 1621 734.18 1626 734.16 1631 734.14 1636 734.12 1641 734.1 1646 734.08 1651 734.06 1656 734.04 1661 734.02 1666 734" stroke="#d90026" stroke-width="4.1" fill="none" stroke-dasharray="3.74 0.3"/>
<path d="M1381 747.5 1386 747.58 1391 747.66 1396 747.75 1401 747.83 1406 747.91 1411 747.99 1416 748.07 1421 748.16 1426 748.24 1431 748.32 1436 748.41 1441 748.49 1446 748.58 1451 748.66 1456 748.75 1461 748.83 1466 748.91 1471 749 1476 749.09 1481 749.17 1486 749.26 1491 749.34 1496 749.43 1501 749.52 1506 749.6 1511 749.69 1516 749.78 1521 749.87 1526 749.95 1531 750.04 1536 750.13 1541 750.22 1546 750.31 1551 750.4 1556 750.49 1561 750.58 1566 750.66 1571 750.75 1576 750.84 1581 750.93 1586 751.02 1591 751.12 1596 751.21 1601 751.3 1606 751.39 1611 751.48 1616 751.57 1621 751.66 1626 751.76 1631 751.85 1636 751.94 1641 752.03 1646 752.13 1651 752.22 1656 752.31 1661 752.41 1666 752.5" stroke="#a80057" stroke-width="4.1" fill="none" stroke-dasharray="3.74 0.3"/>
<path d="M403 865 408.02 865.03 413.03 865.12 418.05 865.26 423.06 865.45 428.08 865.68 433.09 865.95 438.11 866.24 443.12 866.55 448.14 866.88 453.15 867.24 458.17 867.74 463.18 868.36 468.2 869.08 473.22 869.9 478.23 870.78 483.25 871.72 488.26 872.69 493.28 873.68 498.29 874.67 503.31 875.67 508.32 876.76 513.34 877.94 518.35 879.18 523.37 880.48 528.38 881.82 533.4 883.17 538.42 884.53 543.43 885.87 548.45 887.19 553.46 888.45 558.48 889.65 563.49 890.82 568.51 892.06 573.52 893.34 578.54 894.61 583.55 895.82 588.57 896.91 593.58 897.85 598.6 898.57 603.62 899.04 608.63 899.39 613.65 899.72 618.66 900.02 623.68 900.28 628.69 900.52 633.71 900.71 638.72 900.86 643.74 900.95 648.75 901 653.77 901 658.78 900.99 663.8 900.98 668.82 900.97 673.83 900.95 678.85 900.93 683.86 900.9 688.88 900.87 693.89 900.84 698.91 900.8 703.92 900.76 708.94 900.72 713.95 900.67 718.97 900.63 723.98 900.58 729 900.53 734.02 900.47 739.03 900.42 744.05 900.36 749.06 900.31 754.08 900.25 759.09 900.19 764.11 900.13 769.12 900.07 774.14 900.01 779.15 899.95 784.17 899.89 789.18 899.83 794.2 899.77 799.22 899.71 804.23 899.66 809.25 899.6 814.26 899.54 819.28 899.49 824.29 899.44 829.31 899.39 834.32 899.34 839.34 899.3 844.35 899.25 849.37 899.21 854.38 899.18 859.4 899.14 864.42 899.11 869.43 899.08 874.45 899.06 879.46 899.04 884.48 899.02 889.49 899.01 894.51 899 899.52 899 904.54 899 909.55 899.01 914.57 899.02 919.58 899.04 924.6 899.07 929.62 899.1 934.63 899.13 939.65 899.17 944.66 899.21 949.68 899.26 954.69 899.31 959.71 899.36 964.72 899.42 969.74 899.48 974.75 899.54 979.77 899.6 984.78 899.67 989.8 899.74 994.82 899.81 999.83 899.89 1004.85 899.96 1009.86 900.04 1014.88 900.12 1019.89 900.2 1024.91 900.28 1029.92 900.36 1034.94 900.44 1039.95 900.52 1044.97 900.6 1049.98 900.68 1055 900.76 1060.02 900.84 1065.03 900.91 1070.05 900.99 1075.06 901.07 1080.08 901.14 1085.09 901.21 1090.11 901.28 1095.12 901.35 1100.14 901.41 1105.15 901.47 1110.17 901.53 1115.18 901.58 1120.2 901.63 1125.22 901.68 1130.23 901.73 1135.25 901.77 1140.26 901.8 1145.28 901.84 1150.29 901.87 1155.31 901.9 1160.32 901.94 1165.34 901.97 1170.35 902.01 1175.37 902.04 1180.38 902.08 1185.4 902.11 1190.42 902.14 1195.43 902.17 1200.45 902.2 1205.46 902.23 1210.48 902.26 1215.49 902.28 1220.51 902.3 1225.52 902.32 1230.54 902.34 1235.55 902.36 1240.57 902.37 1245.58 902.38 1250.6 902.39 1255.62 902.4 1260.63 902.4 1265.65 901.94 1270.66 900.57 1275.68 898.52 1280.69 896.03 1285.71 893.35 1290.72 890.72 1295.74 888.38 1300.75 886.56 1305.77 885.01 1310.78 883.49 1315.8 882.03 1320.82 880.65 1325.83 879.37 1330.85 878.22 1335.86 877.21 1340.88 876.36 1345.89 875.59 1350.91 874.86 1355.92 874.17 1360.94 873.54 1365.95 872.99 1370.97 872.52 1375.98 872.15 1381 871.9" stroke="url(#g8)" stroke-width="4.1" fill="none" stroke-dasharray="3.74 0.3"/>
<path d="M403 901.2 408.02 901.29 413.03 901.38 418.05 901.47 423.06 901.55 428.08 901.63 433.09 901.71 438.11 901.79 443.12 901.86 448.14 901.93 453.15 901.99 458.17 902.06 463.18 902.12 468.2 902.18 473.22 902.23 478.23 902.29 483.25 902.34 488.26 902.38 493.28 902.43 498.29 902.48 503.31 902.52 508.32 902.56 513.34 902.59 518.35 902.63 523.37 902.66 528.38 902.69 533.4 902.72 538.42 902.75 543.43 902.78 548.45 902.8 553.46 902.82 558.48 902.84 563.49 902.86 568.51 902.88 573.52 902.9 578.54 902.91 583.55 902.93 588.57 902.94 593.58 902.95 598.6 902.96 603.62 902.97 608.63 902.97 613.65 902.98 618.66 902.99 623.68 902.99 628.69 902.99 633.71 903 638.72 903 643.74 903 648.75 903 653.77 903 658.78 902.99 663.8 902.96 668.82 902.94 673.83 902.9 678.85 902.85 683.86 902.8 688.88 902.74 693.89 902.67 698.91 902.6 703.92 902.52 708.94 902.44 713.95 902.35 718.97 902.25 723.98 902.16 729 902.05 734.02 901.95 739.03 901.84 744.05 901.73 749.06 901.61 754.08 901.5 759.09 901.38 764.11 901.26 769.12 901.14 774.14 901.02 779.15 900.9 784.17 900.78 789.18 900.66 794.2 900.54 799.22 900.43 804.23 900.31 809.25 900.2 814.26 900.09 819.28 899.98 824.29 899.88 829.31 899.78 834.32 899.68 839.34 899.59 844.35 899.51 849.37 899.43 854.38 899.35 859.4 899.28 864.42 899.22 869.43 899.16 874.45 899.12 879.46 899.08 884.48 899.04 889.49 899.02 894.51 899.01 899.52 899 904.54 899 909.55 899 914.57 899 919.58 899 924.6 899 929.62 899 934.63 899 939.65 899 944.66 899 949.68 899 954.69 899 959.71 899 964.72 899 969.74 899 974.75 899 979.77 899 984.78 899 989.8 899 994.82 899 999.83 899 1004.85 899.01 1009.86 899.04 1014.88 899.09 1019.89 899.15 1024.91 899.23 1029.92 899.33 1034.94 899.44 1039.95 899.55 1044.97 899.68 1049.98 899.82 1055 899.96 1060.02 900.1 1065.03 900.25 1070.05 900.4 1075.06 900.55 1080.08 900.7 1085.09 900.85 1090.11 900.99 1095.12 901.12 1100.14 901.25 1105.15 901.37 1110.17 901.47 1115.18 901.57 1120.2 901.65 1125.22 901.71 1130.23 901.76 1135.25 901.79 1140.26 901.8 1145.28 901.8 1150.29 901.8 1155.31 901.8 1160.32 901.8 1165.34 901.8 1170.35 901.8 1175.37 901.8 1180.38 901.8 1185.4 901.8 1190.42 901.8 1195.43 901.8 1200.45 901.8 1205.46 901.8 1210.48 901.8 1215.49 901.8 1220.51 901.8 1225.52 901.8 1230.54 901.8 1235.55 901.8 1240.57 901.8 1245.58 901.8 1250.6 901.8 1255.62 901.8 1260.63 901.8 1265.65 901.8 1270.66 901.8 1275.68 901.8 1280.69 901.8 1285.71 901.8 1290.72 901.8 1295.74 901.8 1300.75 901.8 1305.77 901.8 1310.78 901.8 1315.8 901.8 1320.82 901.8 1325.83 901.8 1330.85 901.8 1335.86 901.8 1340.88 901.8 1345.89 901.8 1350.91 901.8 1355.92 901.8 1360.94 901.8 1365.95 901.8 1370.97 901.8 1375.98 901.8 1381 901.8" stroke="url(#g9)" stroke-width="4.1" fill="none" stroke-dasharray="3.74 0.3"/>
<path d="M403 909.5 408.02 909.39 413.03 909.28 418.05 909.17 423.06 909.06 428.08 908.95 433.09 908.84 438.11 908.74 443.12 908.63 448.14 908.53 453.15 908.42 458.17 908.32 463.18 908.22 468.2 908.12 473.22 908.02 478.23 907.92 483.25 907.82 488.26 907.72 493.28 907.63 498.29 907.53 503.31 907.44 508.32 907.34 513.34 907.24 518.35 907.13 523.37 907.03 528.38 906.92 533.4 906.81 538.42 906.7 543.43 906.59 548.45 906.47 553.46 906.36 558.48 906.25 563.49 906.14 568.51 906.04 573.52 905.93 578.54 905.83 583.55 905.73 588.57 905.64 593.58 905.55 598.6 905.46 603.62 905.39 608.63 905.31 613.65 905.25 618.66 905.19 623.68 905.13 628.69 905.09 633.71 905.05 638.72 905.03 643.74 905.01 648.75 905 653.77 905 658.78 905 663.8 905 668.82 905.01 673.83 905.01 678.85 905.01 683.86 905.02 688.88 905.03 693.89 905.03 698.91 905.04 703.92 905.05 708.94 905.06 713.95 905.07 718.97 905.08 723.98 905.09 729 905.1 734.02 905.12 739.03 905.13 744.05 905.15 749.06 905.16 754.08 905.18 759.09 905.2 764.11 905.22 769.12 905.23 774.14 905.25 779.15 905.28 784.17 905.3 789.18 905.32 794.2 905.34 799.22 905.37 804.23 905.39 809.25 905.42 814.26 905.44 819.28 905.47 824.29 905.5 829.31 905.52 834.32 905.55 839.34 905.58 844.35 905.61 849.37 905.64 854.38 905.68 859.4 905.71 864.42 905.74 869.43 905.78 874.45 905.81 879.46 905.85 884.48 905.88 889.49 905.92 894.51 905.96 899.52 906 904.54 906.05 909.55 906.13 914.57 906.24 919.58 906.37 924.6 906.51 929.62 906.65 934.63 906.81 939.65 906.96 944.66 907.1 949.68 907.23 954.69 907.34 959.71 907.42 964.72 907.48 969.74 907.5 974.75 907.5 979.77 907.5 984.78 907.5 989.8 907.5 994.82 907.5 999.83 907.5 1004.85 907.5 1009.86 907.5 1014.88 907.5 1019.89 907.5 1024.91 907.5 1029.92 907.5 1034.94 907.5 1039.95 907.5 1044.97 907.5 1049.98 907.5 1055 907.5 1060.02 907.5 1065.03 907.5 1070.05 907.5 1075.06 907.5 1080.08 907.5 1085.09 907.5 1090.11 907.5 1095.12 907.5 1100.14 907.5 1105.15 907.47 1110.17 907.38 1115.18 907.24 1120.2 907.08 1125.22 906.9 1130.23 906.72 1135.25 906.55 1140.26 906.39 1145.28 906.25 1150.29 906.1 1155.31 905.94 1160.32 905.77 1165.34 905.61 1170.35 905.43 1175.37 905.26 1180.38 905.08 1185.4 904.91 1190.42 904.73 1195.43 904.56 1200.45 904.39 1205.46 904.23 1210.48 904.07 1215.49 903.91 1220.51 903.77 1225.52 903.63 1230.54 903.5 1235.55 903.39 1240.57 903.28 1245.58 903.19 1250.6 903.11 1255.62 903.05 1260.63 903 1265.65 902.97 1270.66 902.93 1275.68 902.9 1280.69 902.86 1285.71 902.83 1290.72 902.8 1295.74 902.77 1300.75 902.74 1305.77 902.72 1310.78 902.69 1315.8 902.67 1320.82 902.64 1325.83 902.62 1330.85 902.6 1335.86 902.58 1340.88 902.57 1345.89 902.55 1350.91 902.54 1355.92 902.53 1360.94 902.52 1365.95 902.51 1370.97 902.5 1375.98 902.5 1381 902.5" stroke="url(#g10)" stroke-width="4.1" fill="none" stroke-dasharray="3.74 0.3"/>
<path d="M403 925 408.02 925 413.03 925.01 418.05 925.02 423.06 925.03 428.08 925.04 433.09 925.05 438.11 925.07 443.12 925.09 448.14 925.11 453.15 925.13 458.17 925.15 463.18 925.17 468.2 925.2 473.22 925.22 478.23 925.25 483.25 925.28 488.26 925.31 493.28 925.34 498.29 925.37 503.31 925.4 508.32 925.43 513.34 925.46 518.35 925.49 523.37 925.52 528.38 925.56 533.4 925.59 538.42 925.64 543.43 925.68 548.45 925.72 553.46 925.77 558.48 925.82 563.49 925.88 568.51 925.93 573.52 925.99 578.54 926.05 583.55 926.11 588.57 926.18 593.58 926.24 598.6 926.31 603.62 926.38 608.63 926.45 613.65 926.53 618.66 926.6 623.68 926.68 628.69 926.75 633.71 926.83 638.72 926.91 643.74 927 648.75 927.08 653.77 927.17 658.78 927.26 663.8 927.37 668.82 927.49 673.83 927.62 678.85 927.75 683.86 927.9 688.88 928.05 693.89 928.21 698.91 928.38 703.92 928.55 708.94 928.73 713.95 928.91 718.97 929.1 723.98 929.29 729 929.49 734.02 929.69 739.03 929.89 744.05 930.1 749.06 930.3 754.08 930.51 759.09 930.72 764.11 930.92 769.12 931.13 774.14 931.34 779.15 931.54 784.17 931.74 789.18 931.94 794.2 932.14 799.22 932.33 804.23 932.52 809.25 932.7 814.26 932.88 819.28 933.05 824.29 933.22 829.31 933.38 834.32 933.53 839.34 933.68 844.35 933.81 849.37 933.94 854.38 934.06 859.4 934.16 864.42 934.26 869.43 934.35 874.45 934.42 879.46 934.48 884.48 934.53 889.49 934.57 894.51 934.59 899.52 934.6 904.54 934.59 909.55 934.56 914.57 934.52 919.58 934.46 924.6 934.38 929.62 934.3 934.63 934.2 939.65 934.09 944.66 933.97 949.68 933.85 954.69 933.72 959.71 933.59 964.72 933.46 969.74 933.32 974.75 933.19 979.77 933.06 984.78 932.94 989.8 932.82 994.82 932.71 999.83 932.61 1004.85 932.53 1009.86 932.45 1014.88 932.39 1019.89 932.34 1024.91 932.31 1029.92 932.3 1034.94 932.31 1039.95 932.33 1044.97 932.36 1049.98 932.4 1055 932.44 1060.02 932.5 1065.03 932.56 1070.05 932.63 1075.06 932.7 1080.08 932.78 1085.09 932.85 1090.11 932.93 1095.12 933 1100.14 933.07 1105.15 933.14 1110.17 933.2 1115.18 933.26 1120.2 933.31 1125.22 933.35 1130.23 933.38 1135.25 933.39 1140.26 933.4 1145.28 933.33 1150.29 933.14 1155.31 932.84 1160.32 932.45 1165.34 931.99 1170.35 931.47 1175.37 930.91 1180.38 930.31 1185.4 929.71 1190.42 929.1 1195.43 928.51 1200.45 927.95 1205.46 927.33 1210.48 926.59 1215.49 925.76 1220.51 924.88 1225.52 923.97 1230.54 923.05 1235.55 922.16 1240.57 921.33 1245.58 920.58 1250.6 919.94 1255.62 919.45 1260.63 919.13 1265.65 919 1270.66 919 1275.68 919 1280.69 919 1285.71 919 1290.72 919 1295.74 919 1300.75 919 1305.77 919 1310.78 919 1315.8 919 1320.82 919 1325.83 919 1330.85 919 1335.86 919 1340.88 919 1345.89 919 1350.91 919 1355.92 919 1360.94 919 1365.95 919 1370.97 919 1375.98 919 1381 919" stroke="url(#g11)" stroke-width="4.1" fill="none" stroke-dasharray="3.74 0.3"/>
<path d="M403 941.3 408.02 941.21 413.03 941.11 418.05 941.02 423.06 940.94 428.08 940.85 433.09 940.77 438.11 940.69 443.12 940.61 448.14 940.53 453.15 940.45 458.17 940.38 463.18 940.31 468.2 940.24 473.22 940.17 478.23 940.1 483.25 940.04 488.26 939.98 493.28 939.92 498.29 939.86 503.31 939.8 508.32 939.75 513.34 939.69 518.35 939.64 523.37 939.6 528.38 939.55 533.4 939.5 538.42 939.46 543.43 939.42 548.45 939.38 553.46 939.34 558.48 939.31 563.49 939.28 568.51 939.25 573.52 939.22 578.54 939.19 583.55 939.16 588.57 939.14 593.58 939.12 598.6 939.1 603.62 939.08 608.63 939.06 613.65 939.05 618.66 939.04 623.68 939.03 628.69 939.02 633.71 939.01 638.72 939 643.74 939 648.75 939 653.77 939 658.78 939.01 663.8 939.02 668.82 939.04 673.83 939.06 678.85 939.09 683.86 939.13 688.88 939.16 693.89 939.2 698.91 939.25 703.92 939.3 708.94 939.35 713.95 939.41 718.97 939.47 723.98 939.53 729 939.59 734.02 939.66 739.03 939.73 744.05 939.8 749.06 939.87 754.08 939.94 759.09 940.01 764.11 940.09 769.12 940.16 774.14 940.24 779.15 940.31 784.17 940.39 789.18 940.46 794.2 940.54 799.22 940.61 804.23 940.68 809.25 940.75 814.26 940.82 819.28 940.89 824.29 940.95 829.31 941.01 834.32 941.07 839.34 941.13 844.35 941.18 849.37 941.23 854.38 941.28 859.4 941.32 864.42 941.36 869.43 941.4 874.45 941.43 879.46 941.45 884.48 941.47 889.49 941.49 894.51 941.5 899.52 941.5 904.54 941.5 909.55 941.5 914.57 941.5 919.58 941.49 924.6 941.49 929.62 941.48 934.63 941.47 939.65 941.47 944.66 941.46 949.68 941.45 954.69 941.44 959.71 941.43 964.72 941.42 969.74 941.4 974.75 941.39 979.77 941.38 984.78 941.37 989.8 941.35 994.82 941.34 999.83 941.32 1004.85 941.31 1009.86 941.3 1014.88 941.28 1019.89 941.27 1024.91 941.25 1029.92 941.24 1034.94 941.22 1039.95 941.21 1044.97 941.19 1049.98 941.18 1055 941.16 1060.02 941.15 1065.03 941.13 1070.05 941.12 1075.06 941.11 1080.08 941.1 1085.09 941.08 1090.11 941.07 1095.12 941.06 1100.14 941.05 1105.15 941.04 1110.17 941.03 1115.18 941.03 1120.2 941.02 1125.22 941.01 1130.23 941.01 1135.25 941.01 1140.26 941 1145.28 941 1150.29 941 1155.31 941 1160.32 941 1165.34 941 1170.35 941 1175.37 941 1180.38 941 1185.4 941 1190.42 941 1195.43 941 1200.45 941 1205.46 941 1210.48 941 1215.49 941 1220.51 941 1225.52 941 1230.54 941 1235.55 941 1240.57 941 1245.58 941 1250.6 941 1255.62 941 1260.63 941 1265.65 941 1270.66 941 1275.68 941 1280.69 941 1285.71 941 1290.72 941 1295.74 941 1300.75 941 1305.77 941 1310.78 941 1315.8 941 1320.82 941 1325.83 941 1330.85 941 1335.86 941 1340.88 941 1345.89 941 1350.91 941 1355.92 941 1360.94 941 1365.95 941 1370.97 941 1375.98 941 1381 941" stroke="url(#g12)" stroke-width="4.1" fill="none" stroke-dasharray="3.74 0.3"/>
<path d="M403 945.2 408.02 945.3 413.03 945.4 418.05 945.49 423.06 945.58 428.08 945.67 433.09 945.76 438.11 945.85 443.12 945.93 448.14 946.01 453.15 946.09 458.17 946.16 463.18 946.24 468.2 946.31 473.22 946.37 478.23 946.44 483.25 946.51 488.26 946.57 493.28 946.63 498.29 946.69 503.31 946.74 508.32 946.79 513.34 946.85 518.35 946.9 523.37 946.94 528.38 946.99 533.4 947.03 538.42 947.07 543.43 947.11 548.45 947.15 553.46 947.18 558.48 947.22 563.49 947.25 568.51 947.28 573.52 947.3 578.54 947.33 583.55 947.35 588.57 947.37 593.58 947.39 598.6 947.41 603.62 947.43 608.63 947.44 613.65 947.46 618.66 947.47 623.68 947.48 628.69 947.49 633.71 947.49 638.72 947.5 643.74 947.5 648.75 947.5 653.77 947.5 658.78 947.49 663.8 947.47 668.82 947.45 673.83 947.42 678.85 947.39 683.86 947.34 688.88 947.3 693.89 947.25 698.91 947.19 703.92 947.13 708.94 947.06 713.95 947 718.97 946.92 723.98 946.85 729 946.77 734.02 946.68 739.03 946.6 744.05 946.51 749.06 946.43 754.08 946.34 759.09 946.24 764.11 946.15 769.12 946.06 774.14 945.97 779.15 945.87 784.17 945.78 789.18 945.69 794.2 945.6 799.22 945.51 804.23 945.42 809.25 945.33 814.26 945.24 819.28 945.16 824.29 945.08 829.31 945 834.32 944.93 839.34 944.86 844.35 944.79 849.37 944.73 854.38 944.67 859.4 944.62 864.42 944.57 869.43 944.53 874.45 944.49 879.46 944.46 884.48 944.43 889.49 944.42 894.51 944.4 899.52 944.4 904.54 944.4 909.55 944.42 914.57 944.44 919.58 944.47 924.6 944.51 929.62 944.56 934.63 944.61 939.65 944.68 944.66 944.75 949.68 944.82 954.69 944.9 959.71 944.99 964.72 945.08 969.74 945.18 974.75 945.28 979.77 945.39 984.78 945.49 989.8 945.61 994.82 945.72 999.83 945.84 1004.85 945.96 1009.86 946.08 1014.88 946.2 1019.89 946.32 1024.91 946.45 1029.92 946.57 1034.94 946.69 1039.95 946.82 1044.97 946.94 1049.98 947.06 1055 947.17 1060.02 947.29 1065.03 947.4 1070.05 947.51 1075.06 947.62 1080.08 947.72 1085.09 947.81 1090.11 947.91 1095.12 947.99 1100.14 948.08 1105.15 948.15 1110.17 948.22 1115.18 948.28 1120.2 948.34 1125.22 948.39 1130.23 948.43 1135.25 948.46 1140.26 948.48 1145.28 948.5 1150.29 948.5 1155.31 948.5 1160.32 948.49 1165.34 948.49 1170.35 948.48 1175.37 948.47 1180.38 948.45 1185.4 948.43 1190.42 948.41 1195.43 948.39 1200.45 948.37 1205.46 948.34 1210.48 948.31 1215.49 948.27 1220.51 948.24 1225.52 948.2 1230.54 948.16 1235.55 948.11 1240.57 948.06 1245.58 948.01 1250.6 947.96 1255.62 947.9 1260.63 947.84 1265.65 947.78 1270.66 947.72 1275.68 947.65 1280.69 947.58 1285.71 947.5 1290.72 947.42 1295.74 947.34 1300.75 947.26 1305.77 947.17 1310.78 947.08 1315.8 946.99 1320.82 946.9 1325.83 946.8 1330.85 946.7 1335.86 946.59 1340.88 946.48 1345.89 946.37 1350.91 946.26 1355.92 946.14 1360.94 946.02 1365.95 945.89 1370.97 945.77 1375.98 945.63 1381 945.5" stroke="url(#g13)" stroke-width="4.1" fill="none" stroke-dasharray="3.74 0.3"/>
<path d="M403 955.3 408.02 955.23 413.03 955.17 418.05 955.11 423.06 955.06 428.08 955 433.09 954.95 438.11 954.9 443.12 954.85 448.14 954.8 453.15 954.76 458.17 954.72 463.18 954.68 468.2 954.64 473.22 954.61 478.23 954.57 483.25 954.54 488.26 954.51 493.28 954.49 498.29 954.46 503.31 954.44 508.32 954.41 513.34 954.39 518.35 954.37 523.37 954.35 528.38 954.34 533.4 954.32 538.42 954.31 543.43 954.29 548.45 954.28 553.46 954.27 558.48 954.26 563.49 954.25 568.51 954.24 573.52 954.23 578.54 954.23 583.55 954.22 588.57 954.22 593.58 954.21 598.6 954.21 603.62 954.21 608.63 954.21 613.65 954.2 618.66 954.2 623.68 954.2 628.69 954.2 633.71 954.2 638.72 954.2 643.74 954.2 648.75 954.2 653.77 954.2 658.78 954.21 663.8 954.23 668.82 954.25 673.83 954.28 678.85 954.32 683.86 954.37 688.88 954.41 693.89 954.47 698.91 954.53 703.92 954.59 708.94 954.66 713.95 954.74 718.97 954.81 723.98 954.9 729 954.98 734.02 955.07 739.03 955.16 744.05 955.25 749.06 955.34 754.08 955.44 759.09 955.54 764.11 955.63 769.12 955.73 774.14 955.83 779.15 955.93 784.17 956.03 789.18 956.13 794.2 956.23 799.22 956.32 804.23 956.42 809.25 956.51 814.26 956.6 819.28 956.69 824.29 956.78 829.31 956.86 834.32 956.94 839.34 957.01 844.35 957.08 849.37 957.15 854.38 957.21 859.4 957.27 864.42 957.32 869.43 957.36 874.45 957.4 879.46 957.44 884.48 957.46 889.49 957.48 894.51 957.5 899.52 957.5 904.54 957.48 909.55 957.42 914.57 957.31 919.58 957.17 924.6 956.99 929.62 956.79 934.63 956.55 939.65 956.29 944.66 956.01 949.68 955.71 954.69 955.4 959.71 955.08 964.72 954.75 969.74 954.42 974.75 954.08 979.77 953.76 984.78 953.43 989.8 953.12 994.82 952.82 999.83 952.54 1004.85 952.28 1009.86 952.04 1014.88 951.83 1019.89 951.65 1024.91 951.5 1029.92 951.39 1034.94 951.32 1039.95 951.3 1044.97 951.3 1049.98 951.3 1055 951.3 1060.02 951.3 1065.03 951.3 1070.05 951.3 1075.06 951.3 1080.08 951.3 1085.09 951.3 1090.11 951.3 1095.12 951.3 1100.14 951.3 1105.15 951.3 1110.17 951.3 1115.18 951.3 1120.2 951.3 1125.22 951.3 1130.23 951.3 1135.25 951.3 1140.26 951.3 1145.28 951.3 1150.29 951.3 1155.31 951.3 1160.32 951.31 1165.34 951.32 1170.35 951.33 1175.37 951.35 1180.38 951.38 1185.4 951.4 1190.42 951.43 1195.43 951.47 1200.45 951.5 1205.46 951.54 1210.48 951.59 1215.49 951.64 1220.51 951.69 1225.52 951.74 1230.54 951.8 1235.55 951.86 1240.57 951.93 1245.58 951.99 1250.6 952.06 1255.62 952.14 1260.63 952.21 1265.65 952.29 1270.66 952.37 1275.68 952.45 1280.69 952.54 1285.71 952.63 1290.72 952.72 1295.74 952.81 1300.75 952.91 1305.77 953.01 1310.78 953.11 1315.8 953.21 1320.82 953.32 1325.83 953.42 1330.85 953.53 1335.86 953.64 1340.88 953.75 1345.89 953.86 1350.91 953.98 1355.92 954.1 1360.94 954.21 1365.95 954.33 1370.97 954.45 1375.98 954.58 1381 954.7" stroke="url(#g14)" stroke-width="4.1" fill="none" stroke-dasharray="3.74 0.3"/>
<path d="M403 961 408.02 961 413.03 961 418.05 961 423.06 961 428.08 960.99 433.09 960.99 438.11 960.99 443.12 960.98 448.14 960.98 453.15 960.97 458.17 960.97 463.18 960.96 468.2 960.96 473.22 960.95 478.23 960.94 483.25 960.93 488.26 960.93 493.28 960.92 498.29 960.91 503.31 960.9 508.32 960.89 513.34 960.88 518.35 960.87 523.37 960.86 528.38 960.85 533.4 960.84 538.42 960.83 543.43 960.81 548.45 960.8 553.46 960.79 558.48 960.78 563.49 960.76 568.51 960.75 573.52 960.73 578.54 960.72 583.55 960.71 588.57 960.69 593.58 960.68 598.6 960.66 603.62 960.65 608.63 960.63 613.65 960.62 618.66 960.6 623.68 960.59 628.69 960.57 633.71 960.55 638.72 960.54 643.74 960.52 648.75 960.5 653.77 960.49 658.78 960.46 663.8 960.44 668.82 960.41 673.83 960.38 678.85 960.34 683.86 960.3 688.88 960.26 693.89 960.21 698.91 960.17 703.92 960.12 708.94 960.06 713.95 960.01 718.97 959.95 723.98 959.89 729 959.83 734.02 959.77 739.03 959.71 744.05 959.65 749.06 959.58 754.08 959.52 759.09 959.45 764.11 959.39 769.12 959.32 774.14 959.26 779.15 959.19 784.17 959.13 789.18 959.06 794.2 959 799.22 958.94 804.23 958.88 809.25 958.82 814.26 958.76 819.28 958.71 824.29 958.65 829.31 958.6 834.32 958.55 839.34 958.5 844.35 958.46 849.37 958.42 854.38 958.38 859.4 958.34 864.42 958.31 869.43 958.28 874.45 958.26 879.46 958.24 884.48 958.22 889.49 958.21 894.51 958.2 899.52 958.2 904.54 958.22 909.55 958.27 914.57 958.36 919.58 958.48 924.6 958.63 929.62 958.8 934.63 959 939.65 959.21 944.66 959.45 949.68 959.7 954.69 959.96 959.71 960.23 964.72 960.51 969.74 960.79 974.75 961.06 979.77 961.34 984.78 961.61 989.8 961.87 994.82 962.12 999.83 962.36 1004.85 962.58 1009.86 962.78 1014.88 962.96 1019.89 963.11 1024.91 963.23 1029.92 963.32 1034.94 963.38 1039.95 963.4 1044.97 963.4 1049.98 963.4 1055 963.4 1060.02 963.4 1065.03 963.4 1070.05 963.4 1075.06 963.4 1080.08 963.4 1085.09 963.4 1090.11 963.4 1095.12 963.4 1100.14 963.4 1105.15 963.4 1110.17 963.4 1115.18 963.4 1120.2 963.4 1125.22 963.4 1130.23 963.4 1135.25 963.4 1140.26 963.4 1145.28 963.4 1150.29 963.4 1155.31 963.4 1160.32 963.4 1165.34 963.4 1170.35 963.4 1175.37 963.4 1180.38 963.4 1185.4 963.4 1190.42 963.4 1195.43 963.4 1200.45 963.4 1205.46 963.4 1210.48 963.4 1215.49 963.4 1220.51 963.4 1225.52 963.4 1230.54 963.4 1235.55 963.4 1240.57 963.4 1245.58 963.4 1250.6 963.4 1255.62 963.4 1260.63 963.4 1265.65 963.4 1270.66 963.4 1275.68 963.4 1280.69 963.4 1285.71 963.4 1290.72 963.4 1295.74 963.4 1300.75 963.4 1305.77 963.4 1310.78 963.4 1315.8 963.4 1320.82 963.4 1325.83 963.4 1330.85 963.4 1335.86 963.4 1340.88 963.4 1345.89 963.4 1350.91 963.4 1355.92 963.4 1360.94 963.4 1365.95 963.4 1370.97 963.4 1375.98 963.4 1381 963.4" stroke="url(#g15)" stroke-width="4.1" fill="none" stroke-dasharray="3.74 0.3"/>
<path d="M403 964 408.02 963.94 413.03 963.88 418.05 963.82 423.06 963.76 428.08 963.7 433.09 963.64 438.11 963.58 443.12 963.52 448.14 963.46 453.15 963.4 458.17 963.34 463.18 963.28 468.2 963.23 473.22 963.17 478.23 963.12 483.25 963.06 488.26 963.01 493.28 962.95 498.29 962.9 503.31 962.85 508.32 962.8 513.34 962.75 518.35 962.7 523.37 962.65 528.38 962.61 533.4 962.56 538.42 962.52 543.43 962.48 548.45 962.44 553.46 962.4 558.48 962.36 563.49 962.33 568.51 962.29 573.52 962.26 578.54 962.23 583.55 962.2 588.57 962.17 593.58 962.14 598.6 962.12 603.62 962.1 608.63 962.08 613.65 962.06 618.66 962.05 623.68 962.03 628.69 962.02 633.71 962.01 638.72 962.01 643.74 962 648.75 962 653.77 962 658.78 962 663.8 962 668.82 962 673.83 962 678.85 962 683.86 962 688.88 962 693.89 962 698.91 962 703.92 962 708.94 962 713.95 962 718.97 962 723.98 962 729 962 734.02 962 739.03 962 744.05 962 749.06 962 754.08 962 759.09 962 764.11 962 769.12 962 774.14 962 779.15 962 784.17 962 789.18 962 794.2 962 799.22 962 804.23 962 809.25 962 814.26 962 819.28 962 824.29 962 829.31 962 834.32 962 839.34 962 844.35 962 849.37 962 854.38 962 859.4 962 864.42 962 869.43 962 874.45 962 879.46 962 884.48 962 889.49 962 894.51 962 899.52 962 904.54 961.98 909.55 961.93 914.57 961.85 919.58 961.73 924.6 961.59 929.62 961.42 934.63 961.23 939.65 961.02 944.66 960.8 949.68 960.56 954.69 960.31 959.71 960.05 964.72 959.78 969.74 959.51 974.75 959.25 979.77 958.98 984.78 958.72 989.8 958.47 994.82 958.23 999.83 958 1004.85 957.79 1009.86 957.6 1014.88 957.43 1019.89 957.28 1024.91 957.16 1029.92 957.07 1034.94 957.02 1039.95 957 1044.97 957 1049.98 957 1055 957 1060.02 957 1065.03 957 1070.05 957 1075.06 957 1080.08 957 1085.09 957 1090.11 957 1095.12 957 1100.14 957 1105.15 957 1110.17 957 1115.18 957 1120.2 957 1125.22 957 1130.23 957 1135.25 957 1140.26 957 1145.28 957 1150.29 957 1155.31 957.01 1160.32 957.02 1165.34 957.05 1170.35 957.08 1175.37 957.12 1180.38 957.18 1185.4 957.24 1190.42 957.31 1195.43 957.39 1200.45 957.48 1205.46 957.57 1210.48 957.68 1215.49 957.79 1220.51 957.91 1225.52 958.04 1230.54 958.18 1235.55 958.32 1240.57 958.47 1245.58 958.63 1250.6 958.79 1255.62 958.97 1260.63 959.14 1265.65 959.33 1270.66 959.52 1275.68 959.72 1280.69 959.92 1285.71 960.13 1290.72 960.34 1295.74 960.56 1300.75 960.79 1305.77 961.02 1310.78 961.26 1315.8 961.5 1320.82 961.74 1325.83 961.99 1330.85 962.25 1335.86 962.51 1340.88 962.77 1345.89 963.04 1350.91 963.31 1355.92 963.58 1360.94 963.86 1365.95 964.14 1370.97 964.42 1375.98 964.71 1381 965" stroke="url(#g16)" stroke-width="4.1" fill="none" stroke-dasharray="3.74 0.3"/>
<path d="M403 967.4 408.02 967.46 413.03 967.53 418.05 967.59 423.06 967.65 428.08 967.72 433.09 967.78 438.11 967.84 443.12 967.9 448.14 967.96 453.15 968.02 458.17 968.08 463.18 968.14 468.2 968.2 473.22 968.26 478.23 968.31 483.25 968.37 488.26 968.43 493.28 968.48 498.29 968.53 503.31 968.59 508.32 968.64 513.34 968.69 518.35 968.74 523.37 968.79 528.38 968.84 533.4 968.89 538.42 968.94 543.43 968.99 548.45 969.03 553.46 969.08 558.48 969.12 563.49 969.16 568.51 969.2 573.52 969.24 578.54 969.28 583.55 969.32 588.57 969.36 593.58 969.39 598.6 969.43 603.62 969.46 608.63 969.49 613.65 969.52 618.66 969.55 623.68 969.58 628.69 969.61 633.71 969.63 638.72 969.65 643.74 969.67 648.75 969.7 653.77 969.71 658.78 969.73 663.8 969.75 668.82 969.77 673.83 969.79 678.85 969.8 683.86 969.82 688.88 969.84 693.89 969.86 698.91 969.87 703.92 969.89 708.94 969.9 713.95 969.92 718.97 969.93 723.98 969.95 729 969.96 734.02 969.98 739.03 969.99 744.05 970 749.06 970.02 754.08 970.03 759.09 970.04 764.11 970.05 769.12 970.07 774.14 970.08 779.15 970.09 784.17 970.1 789.18 970.11 794.2 970.12 799.22 970.13 804.23 970.14 809.25 970.15 814.26 970.16 819.28 970.17 824.29 970.18 829.31 970.19 834.32 970.2 839.34 970.21 844.35 970.22 849.37 970.23 854.38 970.24 859.4 970.24 864.42 970.25 869.43 970.26 874.45 970.27 879.46 970.27 884.48 970.28 889.49 970.29 894.51 970.29 899.52 970.3 904.54 970.31 909.55 970.31 914.57 970.32 919.58 970.32 924.6 970.33 929.62 970.34 934.63 970.34 939.65 970.35 944.66 970.35 949.68 970.36 954.69 970.37 959.71 970.37 964.72 970.38 969.74 970.38 974.75 970.39 979.77 970.4 984.78 970.4 989.8 970.41 994.82 970.41 999.83 970.42 1004.85 970.42 1009.86 970.43 1014.88 970.43 1019.89 970.44 1024.91 970.44 1029.92 970.45 1034.94 970.45 1039.95 970.45 1044.97 970.46 1049.98 970.46 1055 970.47 1060.02 970.47 1065.03 970.47 1070.05 970.48 1075.06 970.48 1080.08 970.48 1085.09 970.49 1090.11 970.49 1095.12 970.49 1100.14 970.49 1105.15 970.49 1110.17 970.5 1115.18 970.5 1120.2 970.5 1125.22 970.5 1130.23 970.5 1135.25 970.5 1140.26 970.5 1145.28 970.5 1150.29 970.49 1155.31 970.49 1160.32 970.47 1165.34 970.46 1170.35 970.44 1175.37 970.43 1180.38 970.4 1185.4 970.38 1190.42 970.35 1195.43 970.32 1200.45 970.29 1205.46 970.25 1210.48 970.22 1215.49 970.18 1220.51 970.14 1225.52 970.09 1230.54 970.05 1235.55 970 1240.57 969.95 1245.58 969.9 1250.6 969.84 1255.62 969.79 1260.63 969.73 1265.65 969.67 1270.66 969.61 1275.68 969.55 1280.69 969.49 1285.71 969.42 1290.72 969.35 1295.74 969.29 1300.75 969.22 1305.77 969.15 1310.78 969.08 1315.8 969 1320.82 968.93 1325.83 968.86 1330.85 968.78 1335.86 968.71 1340.88 968.63 1345.89 968.55 1350.91 968.48 1355.92 968.4 1360.94 968.32 1365.95 968.24 1370.97 968.16 1375.98 968.08 1381 968" stroke="#a1005e" stroke-width="4.1" fill="none" stroke-dasharray="3.74 0.3"/>
<path d="M403 985.8 408.02 985.8 413.03 985.79 418.05 985.77 423.06 985.75 428.08 985.72 433.09 985.69 438.11 985.65 443.12 985.61 448.14 985.56 453.15 985.51 458.17 985.45 463.18 985.39 468.2 985.32 473.22 985.26 478.23 985.18 483.25 985.11 488.26 985.03 493.28 984.93 498.29 984.78 503.31 984.57 508.32 984.32 513.34 984.02 518.35 983.7 523.37 983.36 528.38 983 533.4 982.64 538.42 982.29 543.43 981.94 548.45 981.62 553.46 981.33 558.48 981.07 563.49 980.84 568.51 980.62 573.52 980.39 578.54 980.16 583.55 979.93 588.57 979.71 593.58 979.49 598.6 979.27 603.62 979.07 608.63 978.87 613.65 978.68 618.66 978.51 623.68 978.35 628.69 978.2 633.71 978.07 638.72 977.97 643.74 977.88 648.75 977.81 653.77 977.76 658.78 977.72 663.8 977.67 668.82 977.63 673.83 977.58 678.85 977.54 683.86 977.5 688.88 977.46 693.89 977.42 698.91 977.38 703.92 977.34 708.94 977.3 713.95 977.26 718.97 977.23 723.98 977.19 729 977.16 734.02 977.13 739.03 977.1 744.05 977.07 749.06 977.04 754.08 977.01 759.09 976.98 764.11 976.95 769.12 976.93 774.14 976.9 779.15 976.88 784.17 976.86 789.18 976.84 794.2 976.81 799.22 976.79 804.23 976.78 809.25 976.76 814.26 976.74 819.28 976.72 824.29 976.71 829.31 976.7 834.32 976.68 839.34 976.67 844.35 976.66 849.37 976.65 854.38 976.64 859.4 976.63 864.42 976.62 869.43 976.62 874.45 976.61 879.46 976.61 884.48 976.6 889.49 976.6 894.51 976.6 899.52 976.6 904.54 976.6 909.55 976.61 914.57 976.62 919.58 976.63 924.6 976.65 929.62 976.67 934.63 976.7 939.65 976.72 944.66 976.75 949.68 976.78 954.69 976.82 959.71 976.85 964.72 976.89 969.74 976.93 974.75 976.97 979.77 977.01 984.78 977.05 989.8 977.09 994.82 977.13 999.83 977.17 1004.85 977.21 1009.86 977.25 1014.88 977.29 1019.89 977.33 1024.91 977.36 1029.92 977.39 1034.94 977.42 1039.95 977.45 1044.97 977.48 1049.98 977.5 1055 977.52 1060.02 977.54 1065.03 977.55 1070.05 977.57 1075.06 977.58 1080.08 977.6 1085.09 977.61 1090.11 977.62 1095.12 977.64 1100.14 977.65 1105.15 977.66 1110.17 977.68 1115.18 977.69 1120.2 977.71 1125.22 977.73 1130.23 977.75 1135.25 977.78 1140.26 977.8 1145.28 977.83 1150.29 977.87 1155.31 977.92 1160.32 977.97 1165.34 978.03 1170.35 978.09 1175.37 978.16 1180.38 978.24 1185.4 978.32 1190.42 978.42 1195.43 978.51 1200.45 978.62 1205.46 978.73 1210.48 978.84 1215.49 978.96 1220.51 979.09 1225.52 979.22 1230.54 979.36 1235.55 979.51 1240.57 979.66 1245.58 979.81 1250.6 979.97 1255.62 980.14 1260.63 980.31 1265.65 980.49 1270.66 980.67 1275.68 980.86 1280.69 981.05 1285.71 981.25 1290.72 981.45 1295.74 981.65 1300.75 981.86 1305.77 982.08 1310.78 982.3 1315.8 982.52 1320.82 982.75 1325.83 982.98 1330.85 983.22 1335.86 983.46 1340.88 983.71 1345.89 983.96 1350.91 984.21 1355.92 984.46 1360.94 984.72 1365.95 984.99 1370.97 985.26 1375.98 985.53 1381 985.8" stroke="url(#g17)" stroke-width="4.1" fill="none" stroke-dasharray="3.74 0.3"/>
<path d="M403 986 408.02 986.03 413.03 986.07 418.05 986.1 423.06 986.13 428.08 986.16 433.09 986.2 438.11 986.23 443.12 986.26 448.14 986.29 453.15 986.32 458.17 986.34 463.18 986.37 468.2 986.4 473.22 986.42 478.23 986.45 483.25 986.47 488.26 986.49 493.28 986.51 498.29 986.53 503.31 986.56 508.32 986.58 513.34 986.6 518.35 986.62 523.37 986.64 528.38 986.66 533.4 986.69 538.42 986.71 543.43 986.73 548.45 986.75 553.46 986.77 558.48 986.79 563.49 986.81 568.51 986.83 573.52 986.85 578.54 986.86 583.55 986.88 588.57 986.9 593.58 986.91 598.6 986.93 603.62 986.94 608.63 986.95 613.65 986.96 618.66 986.97 623.68 986.98 628.69 986.99 633.71 986.99 638.72 987 643.74 987 648.75 987 653.77 986.99 658.78 986.94 663.8 986.85 668.82 986.72 673.83 986.56 678.85 986.38 683.86 986.16 688.88 985.92 693.89 985.66 698.91 985.38 703.92 985.08 708.94 984.77 713.95 984.44 718.97 984.11 723.98 983.77 729 983.43 734.02 983.08 739.03 982.74 744.05 982.41 749.06 982.08 754.08 981.76 759.09 981.45 764.11 981.16 769.12 980.89 774.14 980.63 779.15 980.4 784.17 980.2 789.18 980.03 794.2 979.87 799.22 979.71 804.23 979.55 809.25 979.39 814.26 979.23 819.28 979.08 824.29 978.92 829.31 978.77 834.32 978.62 839.34 978.48 844.35 978.34 849.37 978.21 854.38 978.09 859.4 977.98 864.42 977.88 869.43 977.78 874.45 977.7 879.46 977.63 884.48 977.58 889.49 977.54 894.51 977.51 899.52 977.5 904.54 977.5 909.55 977.5 914.57 977.5 919.58 977.51 924.6 977.51 929.62 977.52 934.63 977.53 939.65 977.53 944.66 977.54 949.68 977.55 954.69 977.56 959.71 977.58 964.72 977.59 969.74 977.61 974.75 977.62 979.77 977.64 984.78 977.66 989.8 977.68 994.82 977.7 999.83 977.72 1004.85 977.74 1009.86 977.77 1014.88 977.79 1019.89 977.82 1024.91 977.84 1029.92 977.87 1034.94 977.9 1039.95 977.93 1044.97 977.97 1049.98 978 1055 978.08 1060.02 978.25 1065.03 978.49 1070.05 978.81 1075.06 979.19 1080.08 979.61 1085.09 980.08 1090.11 980.58 1095.12 981.1 1100.14 981.64 1105.15 982.19 1110.17 982.73 1115.18 983.25 1120.2 983.76 1125.22 984.23 1130.23 984.66 1135.25 985.05 1140.26 985.37 1145.28 985.63 1150.29 985.81 1155.31 985.95 1160.32 986.09 1165.34 986.23 1170.35 986.36 1175.37 986.49 1180.38 986.61 1185.4 986.74 1190.42 986.85 1195.43 986.97 1200.45 987.08 1205.46 987.18 1210.48 987.28 1215.49 987.37 1220.51 987.46 1225.52 987.54 1230.54 987.62 1235.55 987.69 1240.57 987.75 1245.58 987.81 1250.6 987.86 1255.62 987.9 1260.63 987.94 1265.65 987.97 1270.66 987.99 1275.68 988 1280.69 988 1285.71 987.99 1290.72 987.97 1295.74 987.94 1300.75 987.89 1305.77 987.83 1310.78 987.76 1315.8 987.68 1320.82 987.59 1325.83 987.49 1330.85 987.38 1335.86 987.26 1340.88 987.13 1345.89 986.99 1350.91 986.84 1355.92 986.69 1360.94 986.52 1365.95 986.35 1370.97 986.18 1375.98 985.99 1381 985.8" stroke="url(#g18)" stroke-width="4.1" fill="none" stroke-dasharray="3.74 0.3"/>
<path d="M1381 861 1386 861.02 1391 861.08 1396 861.17 1401 861.3 1406 861.46 1411 861.64 1416 861.84 1421 862.06 1426 862.29 1431 862.54 1436 862.79 1441 863.05 1446 863.36 1451 863.74 1456 864.17 1461 864.66 1466 865.2 1471 865.78 1476 866.41 1481 867.06 1486 867.74 1491 868.44 1496 869.16 1501 869.89 1506 870.62 1511 871.35 1516 872.15 1521 873.04 1526 874 1531 875 1536 876.02 1541 877.05 1546 878.04 1551 878.99 1556 879.86 1561 880.65 1566 881.41 1571 882.16 1576 882.9 1581 883.63 1586 884.34 1591 885.02 1596 885.66 1601 886.26 1606 886.8 1611 887.29 1616 887.71 1621 888.07 1626 888.39 1631 888.7 1636 888.99 1641 889.26 1646 889.5 1651 889.72 1656 889.89 1661 890.02 1666 890.1" stroke="#de0021" stroke-width="4.1" fill="none" stroke-dasharray="3.74 0.3"/>
<path d="M1381 901L1666 901" stroke="#d90026" stroke-width="4.1" fill="none" stroke-dasharray="3.74 0.3"/>
<path d="M1381 911.9 1386 911.88 1391 911.85 1396 911.83 1401 911.8 1406 911.77 1411 911.74 1416 911.71 1421 911.68 1426 911.64 1431 911.61 1436 911.57 1441 911.53 1446 911.49 1451 911.45 1456 911.41 1461 911.37 1466 911.32 1471 911.28 1476 911.23 1481 911.19 1486 911.14 1491 911.09 1496 911.04 1501 910.99 1506 910.94 1511 910.89 1516 910.83 1521 910.77 1526 910.71 1531 910.65 1536 910.59 1541 910.53 1546 910.46 1551 910.39 1556 910.32 1561 910.25 1566 910.18 1571 910.1 1576 910.02 1581 909.95 1586 909.87 1591 909.79 1596 909.7 1601 909.62 1606 909.53 1611 909.45 1616 909.36 1621 909.27 1626 909.18 1631 909.08 1636 908.99 1641 908.89 1646 908.8 1651 908.7 1656 908.6 1661 908.5 1666 908.4" stroke="#ba0045" stroke-width="4.1" fill="none" stroke-dasharray="3.74 0.3"/>
<path d="M1381 935L1666 934" stroke="#b2004c" stroke-width="4.1" fill="none" stroke-dasharray="3.74 0.3"/>
<path d="M1381 940.4L1666 941.4" stroke="#de0021" stroke-width="4.1" fill="none" stroke-dasharray="3.74 0.3"/>
<path d="M1381 946.3L1666 947.7" stroke="url(#g19)" stroke-width="4.1" fill="none" stroke-dasharray="3.74 0.3"/>
<path d="M1381 957 1386 957 1391 957 1396 957 1401 957 1406 957 1411 957 1416 957 1421 957 1426 957 1431 957 1436 957 1441 957 1446 957 1451 957 1456 957 1461 957 1466 957 1471 957 1476 957 1481 957 1486 957 1491 957 1496 957 1501 957 1506 957 1511 956.99 1516 956.97 1521 956.95 1526 956.93 1531 956.9 1536 956.86 1541 956.82 1546 956.78 1551 956.73 1556 956.68 1561 956.62 1566 956.56 1571 956.5 1576 956.43 1581 956.36 1586 956.29 1591 956.21 1596 956.13 1601 956.05 1606 955.97 1611 955.88 1616 955.79 1621 955.7 1626 955.6 1631 955.51 1636 955.41 1641 955.31 1646 955.21 1651 955.11 1656 955.01 1661 954.9 1666 954.8" stroke="url(#g20)" stroke-width="4.1" fill="none" stroke-dasharray="3.74 0.3"/>
<path d="M1381 958.4L1666 958.4" stroke="#b2004c" stroke-width="4.1" fill="none" stroke-dasharray="3.74 0.3"/>
<path d="M1381 963.3L1666 963.3" stroke="#ad0052" stroke-width="4.1" fill="none" stroke-dasharray="3.74 0.3"/>
<path d="M1381 968.3 1386 968.35 1391 968.4 1396 968.45 1401 968.49 1406 968.54 1411 968.58 1416 968.62 1421 968.66 1426 968.7 1431 968.74 1436 968.77 1441 968.8 1446 968.83 1451 968.86 1456 968.89 1461 968.91 1466 968.93 1471 968.95 1476 968.97 1481 968.98 1486 968.99 1491 968.99 1496 969 1501 969 1506 969 1511 969 1516 969 1521 968.99 1526 968.99 1531 968.98 1536 968.98 1541 968.97 1546 968.96 1551 968.95 1556 968.94 1561 968.93 1566 968.92 1571 968.9 1576 968.88 1581 968.87 1586 968.85 1591 968.83 1596 968.8 1601 968.78 1606 968.76 1611 968.73 1616 968.7 1621 968.67 1626 968.64 1631 968.6 1636 968.56 1641 968.53 1646 968.48 1651 968.44 1656 968.4 1661 968.35 1666 968.3" stroke="#9e0061" stroke-width="4.1" fill="none" stroke-dasharray="3.74 0.3"/>
<path d="M1381 985.3 1386 985.24 1391 985.17 1396 985.11 1401 985.03 1406 984.96 1411 984.88 1416 984.8 1421 984.71 1426 984.62 1431 984.53 1436 984.43 1441 984.34 1446 984.24 1451 984.13 1456 984.03 1461 983.92 1466 983.81 1471 983.7 1476 983.58 1481 983.46 1486 983.34 1491 983.22 1496 983.1 1501 982.97 1506 982.85 1511 982.71 1516 982.58 1521 982.44 1526 982.29 1531 982.14 1536 981.99 1541 981.83 1546 981.67 1551 981.51 1556 981.34 1561 981.17 1566 981 1571 980.82 1576 980.63 1581 980.45 1586 980.26 1591 980.07 1596 979.87 1601 979.67 1606 979.47 1611 979.26 1616 979.05 1621 978.84 1626 978.63 1631 978.41 1636 978.19 1641 977.96 1646 977.74 1651 977.51 1656 977.27 1661 977.04 1666 976.8" stroke="#cc0033" stroke-width="4.1" fill="none" stroke-dasharray="3.74 0.3"/>
<path d="M1381 985.5L1666 983.9" stroke="#d90026" stroke-width="4.1" fill="none" stroke-dasharray="3.74 0.3"/>
<path d="M403 1174 408.02 1173.05 413.03 1172.11 418.05 1171.18 423.06 1170.25 428.08 1169.33 433.09 1168.43 438.11 1167.52 443.12 1166.63 448.14 1165.75 453.15 1164.87 458.17 1164.01 463.18 1163.15 468.2 1162.3 473.22 1161.46 478.23 1160.59 483.25 1159.7 488.26 1158.8 493.28 1157.9 498.29 1157.01 503.31 1156.14 508.32 1155.28 513.34 1154.47 518.35 1153.69 523.37 1152.96 528.38 1152.29 533.4 1151.68 538.42 1151.15 543.43 1150.69 548.45 1150.25 553.46 1149.83 558.48 1149.44 563.49 1149.06 568.51 1148.71 573.52 1148.38 578.54 1148.07 583.55 1147.79 588.57 1147.52 593.58 1147.28 598.6 1147.06 603.62 1146.85 608.63 1146.66 613.65 1146.47 618.66 1146.3 623.68 1146.14 628.69 1145.99 633.71 1145.85 638.72 1145.72 643.74 1145.61 648.75 1145.52 653.77 1145.44 658.78 1145.36 663.8 1145.28 668.82 1145.21 673.83 1145.14 678.85 1145.06 683.86 1144.99 688.88 1144.93 693.89 1144.86 698.91 1144.8 703.92 1144.73 708.94 1144.67 713.95 1144.61 718.97 1144.56 723.98 1144.5 729 1144.45 734.02 1144.39 739.03 1144.34 744.05 1144.29 749.06 1144.24 754.08 1144.2 759.09 1144.15 764.11 1144.11 769.12 1144.06 774.14 1144.02 779.15 1143.98 784.17 1143.94 789.18 1143.9 794.2 1143.87 799.22 1143.83 804.23 1143.8 809.25 1143.77 814.26 1143.74 819.28 1143.71 824.29 1143.68 829.31 1143.65 834.32 1143.62 839.34 1143.6 844.35 1143.57 849.37 1143.55 854.38 1143.52 859.4 1143.5 864.42 1143.48 869.43 1143.46 874.45 1143.44 879.46 1143.42 884.48 1143.4 889.49 1143.38 894.51 1143.36 899.52 1143.34 904.54 1143.32 909.55 1143.3 914.57 1143.28 919.58 1143.26 924.6 1143.24 929.62 1143.22 934.63 1143.2 939.65 1143.19 944.66 1143.17 949.68 1143.16 954.69 1143.14 959.71 1143.13 964.72 1143.11 969.74 1143.1 974.75 1143.09 979.77 1143.07 984.78 1143.06 989.8 1143.05 994.82 1143.04 999.83 1143.03 1004.85 1143.03 1009.86 1143.02 1014.88 1143.01 1019.89 1143.01 1024.91 1143.01 1029.92 1143 1034.94 1143 1039.95 1143 1044.97 1143.01 1049.98 1143.05 1055 1143.12 1060.02 1143.2 1065.03 1143.31 1070.05 1143.44 1075.06 1143.59 1080.08 1143.75 1085.09 1143.93 1090.11 1144.12 1095.12 1144.33 1100.14 1144.55 1105.15 1144.78 1110.17 1145.01 1115.18 1145.25 1120.2 1145.5 1125.22 1145.76 1130.23 1146.01 1135.25 1146.3 1140.26 1146.65 1145.28 1147.06 1150.29 1147.51 1155.31 1148 1160.32 1148.52 1165.34 1149.07 1170.35 1149.63 1175.37 1150.21 1180.38 1150.79 1185.4 1151.38 1190.42 1151.95 1195.43 1152.51 1200.45 1153.05 1205.46 1153.58 1210.48 1154.12 1215.49 1154.66 1220.51 1155.21 1225.52 1155.76 1230.54 1156.32 1235.55 1156.88 1240.57 1157.44 1245.58 1158 1250.6 1158.57 1255.62 1159.14 1260.63 1159.71 1265.65 1160.27 1270.66 1160.84 1275.68 1161.4 1280.69 1161.97 1285.71 1162.52 1290.72 1163.08 1295.74 1163.63 1300.75 1164.19 1305.77 1164.74 1310.78 1165.29 1315.8 1165.85 1320.82 1166.4 1325.83 1166.95 1330.85 1167.5 1335.86 1168.05 1340.88 1168.6 1345.89 1169.16 1350.91 1169.71 1355.92 1170.26 1360.94 1170.81 1365.95 1171.35 1370.97 1171.9 1375.98 1172.45 1381 1173" stroke="url(#g21)" stroke-width="4.1" fill="none" stroke-dasharray="3.74 0.3"/>
<path d="M403 1174 408.02 1172.94 413.03 1171.9 418.05 1170.89 423.06 1169.9 428.08 1168.94 433.09 1168.01 438.11 1167.12 443.12 1166.27 448.14 1165.45 453.15 1164.68 458.17 1163.95 463.18 1163.26 468.2 1162.63 473.22 1162.04 478.23 1161.52 483.25 1161.04 488.26 1160.63 493.28 1160.27 498.29 1159.94 503.31 1159.63 508.32 1159.35 513.34 1159.08 518.35 1158.83 523.37 1158.6 528.38 1158.38 533.4 1158.17 538.42 1157.96 543.43 1157.77 548.45 1157.57 553.46 1157.38 558.48 1157.18 563.49 1156.98 568.51 1156.78 573.52 1156.59 578.54 1156.4 583.55 1156.22 588.57 1156.04 593.58 1155.86 598.6 1155.69 603.62 1155.52 608.63 1155.35 613.65 1155.18 618.66 1155.02 623.68 1154.85 628.69 1154.69 633.71 1154.53 638.72 1154.37 643.74 1154.2 648.75 1154.04 653.77 1153.87 658.78 1153.71 663.8 1153.53 668.82 1153.35 673.83 1153.17 678.85 1152.99 683.86 1152.81 688.88 1152.62 693.89 1152.43 698.91 1152.24 703.92 1152.05 708.94 1151.86 713.95 1151.67 718.97 1151.48 723.98 1151.28 729 1151.09 734.02 1150.9 739.03 1150.72 744.05 1150.53 749.06 1150.35 754.08 1150.16 759.09 1149.98 764.11 1149.81 769.12 1149.64 774.14 1149.47 779.15 1149.3 784.17 1149.14 789.18 1148.99 794.2 1148.84 799.22 1148.69 804.23 1148.55 809.25 1148.42 814.26 1148.29 819.28 1148.17 824.29 1148.06 829.31 1147.96 834.32 1147.86 839.34 1147.77 844.35 1147.69 849.37 1147.62 854.38 1147.56 859.4 1147.51 864.42 1147.46 869.43 1147.41 874.45 1147.37 879.46 1147.32 884.48 1147.28 889.49 1147.24 894.51 1147.2 899.52 1147.15 904.54 1147.11 909.55 1147.07 914.57 1147.03 919.58 1147 924.6 1146.96 929.62 1146.92 934.63 1146.89 939.65 1146.86 944.66 1146.82 949.68 1146.79 954.69 1146.76 959.71 1146.74 964.72 1146.71 969.74 1146.68 974.75 1146.66 979.77 1146.64 984.78 1146.62 989.8 1146.6 994.82 1146.58 999.83 1146.56 1004.85 1146.55 1009.86 1146.54 1014.88 1146.53 1019.89 1146.52 1024.91 1146.51 1029.92 1146.5 1034.94 1146.5 1039.95 1146.5 1044.97 1146.5 1049.98 1146.52 1055 1146.54 1060.02 1146.57 1065.03 1146.61 1070.05 1146.66 1075.06 1146.71 1080.08 1146.77 1085.09 1146.84 1090.11 1146.92 1095.12 1147.01 1100.14 1147.1 1105.15 1147.19 1110.17 1147.3 1115.18 1147.41 1120.2 1147.52 1125.22 1147.64 1130.23 1147.77 1135.25 1147.9 1140.26 1148.04 1145.28 1148.18 1150.29 1148.32 1155.31 1148.47 1160.32 1148.63 1165.34 1148.79 1170.35 1148.95 1175.37 1149.12 1180.38 1149.35 1185.4 1149.64 1190.42 1149.97 1195.43 1150.34 1200.45 1150.76 1205.46 1151.22 1210.48 1151.71 1215.49 1152.23 1220.51 1152.78 1225.52 1153.35 1230.54 1153.94 1235.55 1154.54 1240.57 1155.16 1245.58 1155.79 1250.6 1156.42 1255.62 1157.05 1260.63 1157.67 1265.65 1158.29 1270.66 1158.9 1275.68 1159.5 1280.69 1160.08 1285.71 1160.66 1290.72 1161.24 1295.74 1161.83 1300.75 1162.43 1305.77 1163.04 1310.78 1163.66 1315.8 1164.28 1320.82 1164.91 1325.83 1165.55 1330.85 1166.19 1335.86 1166.85 1340.88 1167.5 1345.89 1168.17 1350.91 1168.84 1355.92 1169.52 1360.94 1170.2 1365.95 1170.89 1370.97 1171.59 1375.98 1172.29 1381 1173" stroke="url(#g22)" stroke-width="4.1" fill="none" stroke-dasharray="3.74 0.3"/>
<path d="M403 1176 408.02 1176.3 413.03 1176.59 418.05 1176.86 423.06 1177.1 428.08 1177.29 433.09 1177.43 438.11 1177.49 443.12 1177.5 448.14 1177.5 453.15 1177.5 458.17 1177.5 463.18 1177.5 468.2 1177.5 473.22 1177.5 478.23 1177.5 483.25 1173.55 488.26 1171.97 493.28 1170.91 498.29 1170 503.31 1169.23 508.32 1168.57 513.34 1168.02 518.35 1167.56 523.37 1167.16 528.38 1166.82 533.4 1166.53 538.42 1166.26 543.43 1165.99 548.45 1165.73 553.46 1165.44 558.48 1165.11 563.49 1164.75 568.51 1164.4 573.52 1164.06 578.54 1163.74 583.55 1163.43 588.57 1163.14 593.58 1162.85 598.6 1162.57 603.62 1162.3 608.63 1162.04 613.65 1161.78 618.66 1161.53 623.68 1161.28 628.69 1161.04 633.71 1160.79 638.72 1160.55 643.74 1160.31 648.75 1160.06 653.77 1159.81 658.78 1159.56 663.8 1159.31 668.82 1159.06 673.83 1158.81 678.85 1158.55 683.86 1158.3 688.88 1158.04 693.89 1157.78 698.91 1157.53 703.92 1157.27 708.94 1157.02 713.95 1156.76 718.97 1156.51 723.98 1156.26 729 1156.01 734.02 1155.76 739.03 1155.51 744.05 1155.27 749.06 1155.03 754.08 1154.79 759.09 1154.56 764.11 1154.33 769.12 1154.1 774.14 1153.88 779.15 1153.67 784.17 1153.45 789.18 1153.24 794.2 1153.04 799.22 1152.85 804.23 1152.65 809.25 1152.47 814.26 1152.29 819.28 1152.12 824.29 1151.95 829.31 1151.8 834.32 1151.64 839.34 1151.5 844.35 1151.37 849.37 1151.24 854.38 1151.12 859.4 1151.01 864.42 1150.91 869.43 1150.81 874.45 1150.71 879.46 1150.61 884.48 1150.52 889.49 1150.42 894.51 1150.33 899.52 1150.24 904.54 1150.16 909.55 1150.07 914.57 1149.99 919.58 1149.9 924.6 1149.82 929.62 1149.75 934.63 1149.67 939.65 1149.6 944.66 1149.52 949.68 1149.45 954.69 1149.39 959.71 1149.32 964.72 1149.25 969.74 1149.19 974.75 1149.13 979.77 1149.07 984.78 1149.01 989.8 1148.96 994.82 1148.9 999.83 1148.85 1004.85 1148.8 1009.86 1148.75 1014.88 1148.71 1019.89 1148.66 1024.91 1148.62 1029.92 1148.58 1034.94 1148.54 1039.95 1148.5 1044.97 1148.46 1049.98 1148.43 1055 1148.39 1060.02 1148.35 1065.03 1148.32 1070.05 1148.28 1075.06 1148.24 1080.08 1148.21 1085.09 1148.17 1090.11 1148.14 1095.12 1148.1 1100.14 1148.07 1105.15 1148.04 1110.17 1148 1115.18 1147.97 1120.2 1147.94 1125.22 1147.91 1130.23 1147.88 1135.25 1147.85 1140.26 1147.82 1145.28 1147.79 1150.29 1147.77 1155.31 1147.74 1160.32 1147.72 1165.34 1147.69 1170.35 1147.67 1175.37 1147.65 1180.38 1147.63 1185.4 1147.61 1190.42 1147.59 1195.43 1147.58 1200.45 1147.56 1205.46 1147.55 1210.48 1147.54 1215.49 1147.53 1220.51 1147.52 1225.52 1147.51 1230.54 1147.51 1235.55 1147.5 1240.57 1147.5 1245.58 1147.53 1250.6 1147.78 1255.62 1148.24 1260.63 1148.89 1265.65 1149.71 1270.66 1150.66 1275.68 1151.73 1280.69 1152.89 1285.71 1154.1 1290.72 1155.36 1295.74 1156.62 1300.75 1157.87 1305.77 1159.08 1310.78 1160.22 1315.8 1161.27 1320.82 1162.23 1325.83 1163.2 1330.85 1164.17 1335.86 1165.14 1340.88 1166.12 1345.89 1167.1 1350.91 1168.08 1355.92 1169.06 1360.94 1170.04 1365.95 1171.03 1370.97 1172.02 1375.98 1173.01 1381 1174" stroke="url(#g23)" stroke-width="4.1" fill="none" stroke-dasharray="3.74 0.3"/>
<path d="M403 1065.8 408.02 1065.79 413.03 1065.78 418.05 1065.77 423.06 1065.76 428.08 1065.75 433.09 1065.74 438.11 1065.72 443.12 1065.71 448.14 1065.7 453.15 1065.69 458.17 1065.67 463.18 1065.66 468.2 1065.65 473.22 1065.64 478.23 1065.62 483.25 1065.61 488.26 1065.59 493.28 1065.58 498.29 1065.56 503.31 1065.55 508.32 1065.54 513.34 1065.52 518.35 1065.51 523.37 1065.49 528.38 1065.47 533.4 1065.45 538.42 1065.43 543.43 1065.41 548.45 1065.39 553.46 1065.36 558.48 1065.34 563.49 1065.31 568.51 1065.28 573.52 1065.26 578.54 1065.23 583.55 1065.21 588.57 1065.18 593.58 1065.16 598.6 1065.14 603.62 1065.11 608.63 1065.09 613.65 1065.07 618.66 1065.06 623.68 1065.04 628.69 1065.03 633.71 1065.02 638.72 1065.01 643.74 1065 648.75 1065 653.77 1065 658.78 1065.01 663.8 1065.01 668.82 1065.02 673.83 1065.04 678.85 1065.05 683.86 1065.07 688.88 1065.09 693.89 1065.11 698.91 1065.14 703.92 1065.16 708.94 1065.19 713.95 1065.22 718.97 1065.25 723.98 1065.28 729 1065.32 734.02 1065.35 739.03 1065.39 744.05 1065.42 749.06 1065.46 754.08 1065.49 759.09 1065.53 764.11 1065.56 769.12 1065.6 774.14 1065.64 779.15 1065.67 784.17 1065.7 789.18 1065.74 794.2 1065.77 799.22 1065.8 804.23 1065.83 809.25 1065.85 814.26 1065.88 819.28 1065.9 824.29 1065.92 829.31 1065.94 834.32 1065.96 839.34 1065.97 844.35 1065.98 849.37 1065.99 854.38 1066 859.4 1066 864.42 1066 869.43 1065.99 874.45 1065.98 879.46 1065.97 884.48 1065.95 889.49 1065.93 894.51 1065.9 899.52 1065.88 904.54 1065.85 909.55 1065.81 914.57 1065.78 919.58 1065.74 924.6 1065.71 929.62 1065.67 934.63 1065.63 939.65 1065.59 944.66 1065.54 949.68 1065.5 954.69 1065.46 959.71 1065.42 964.72 1065.38 969.74 1065.34 974.75 1065.3 979.77 1065.26 984.78 1065.22 989.8 1065.19 994.82 1065.16 999.83 1065.13 1004.85 1065.1 1009.86 1065.07 1014.88 1065.05 1019.89 1065.03 1024.91 1065.02 1029.92 1065.01 1034.94 1065 1039.95 1065 1044.97 1065 1049.98 1065 1055 1065.01 1060.02 1065.02 1065.03 1065.02 1070.05 1065.03 1075.06 1065.04 1080.08 1065.06 1085.09 1065.07 1090.11 1065.08 1095.12 1065.1 1100.14 1065.12 1105.15 1065.14 1110.17 1065.15 1115.18 1065.17 1120.2 1065.19 1125.22 1065.21 1130.23 1065.23 1135.25 1065.25 1140.26 1065.27 1145.28 1065.29 1150.29 1065.32 1155.31 1065.34 1160.32 1065.36 1165.34 1065.38 1170.35 1065.4 1175.37 1065.42 1180.38 1065.43 1185.4 1065.45 1190.42 1065.47 1195.43 1065.49 1200.45 1065.5 1205.46 1065.52 1210.48 1065.53 1215.49 1065.55 1220.51 1065.56 1225.52 1065.57 1230.54 1065.59 1235.55 1065.6 1240.57 1065.62 1245.58 1065.63 1250.6 1065.65 1255.62 1065.66 1260.63 1065.67 1265.65 1065.69 1270.66 1065.7 1275.68 1065.72 1280.69 1065.73 1285.71 1065.75 1290.72 1065.76 1295.74 1065.77 1300.75 1065.79 1305.77 1065.8 1310.78 1065.81 1315.8 1065.83 1320.82 1065.84 1325.83 1065.85 1330.85 1065.87 1335.86 1065.88 1340.88 1065.9 1345.89 1065.91 1350.91 1065.92 1355.92 1065.93 1360.94 1065.95 1365.95 1065.96 1370.97 1065.97 1375.98 1065.99 1381 1066" stroke="url(#g24)" stroke-width="4.1" fill="none" stroke-dasharray="3.74 0.3"/>
<path d="M403 1066.5 408.02 1066.58 413.03 1066.65 418.05 1066.73 423.06 1066.8 428.08 1066.87 433.09 1066.94 438.11 1067.02 443.12 1067.09 448.14 1067.15 453.15 1067.22 458.17 1067.29 463.18 1067.35 468.2 1067.42 473.22 1067.48 478.23 1067.54 483.25 1067.6 488.26 1067.66 493.28 1067.72 498.29 1067.78 503.31 1067.83 508.32 1067.88 513.34 1067.93 518.35 1067.98 523.37 1068.03 528.38 1068.08 533.4 1068.13 538.42 1068.18 543.43 1068.22 548.45 1068.27 553.46 1068.32 558.48 1068.36 563.49 1068.41 568.51 1068.45 573.52 1068.5 578.54 1068.54 583.55 1068.58 588.57 1068.62 593.58 1068.66 598.6 1068.7 603.62 1068.74 608.63 1068.77 613.65 1068.81 618.66 1068.84 623.68 1068.87 628.69 1068.9 633.71 1068.93 638.72 1068.95 643.74 1068.97 648.75 1069 653.77 1069.01 658.78 1069.03 663.8 1069.05 668.82 1069.07 673.83 1069.09 678.85 1069.11 683.86 1069.13 688.88 1069.14 693.89 1069.16 698.91 1069.18 703.92 1069.19 708.94 1069.21 713.95 1069.23 718.97 1069.24 723.98 1069.26 729 1069.28 734.02 1069.29 739.03 1069.31 744.05 1069.32 749.06 1069.33 754.08 1069.35 759.09 1069.36 764.11 1069.37 769.12 1069.38 774.14 1069.4 779.15 1069.41 784.17 1069.42 789.18 1069.43 794.2 1069.44 799.22 1069.45 804.23 1069.45 809.25 1069.46 814.26 1069.47 819.28 1069.48 824.29 1069.48 829.31 1069.49 834.32 1069.49 839.34 1069.49 844.35 1069.5 849.37 1069.5 854.38 1069.5 859.4 1069.5 864.42 1069.5 869.43 1069.48 874.45 1069.45 879.46 1069.42 884.48 1069.37 889.49 1069.32 894.51 1069.26 899.52 1069.19 904.54 1069.12 909.55 1069.04 914.57 1068.95 919.58 1068.86 924.6 1068.77 929.62 1068.67 934.63 1068.57 939.65 1068.46 944.66 1068.36 949.68 1068.26 954.69 1068.15 959.71 1068.05 964.72 1067.95 969.74 1067.85 974.75 1067.75 979.77 1067.65 984.78 1067.56 989.8 1067.47 994.82 1067.39 999.83 1067.32 1004.85 1067.25 1009.86 1067.19 1014.88 1067.13 1019.89 1067.09 1024.91 1067.05 1029.92 1067.02 1034.94 1067.01 1039.95 1067 1044.97 1067 1049.98 1067.02 1055 1067.04 1060.02 1067.07 1065.03 1067.11 1070.05 1067.15 1075.06 1067.2 1080.08 1067.26 1085.09 1067.32 1090.11 1067.38 1095.12 1067.45 1100.14 1067.53 1105.15 1067.6 1110.17 1067.68 1115.18 1067.77 1120.2 1067.85 1125.22 1067.93 1130.23 1068.02 1135.25 1068.11 1140.26 1068.19 1145.28 1068.28 1150.29 1068.36 1155.31 1068.44 1160.32 1068.52 1165.34 1068.59 1170.35 1068.67 1175.37 1068.74 1180.38 1068.8 1185.4 1068.86 1190.42 1068.91 1195.43 1068.96 1200.45 1069 1205.46 1069.04 1210.48 1069.08 1215.49 1069.12 1220.51 1069.16 1225.52 1069.19 1230.54 1069.23 1235.55 1069.27 1240.57 1069.3 1245.58 1069.34 1250.6 1069.38 1255.62 1069.41 1260.63 1069.44 1265.65 1069.48 1270.66 1069.51 1275.68 1069.54 1280.69 1069.57 1285.71 1069.6 1290.72 1069.63 1295.74 1069.66 1300.75 1069.69 1305.77 1069.72 1310.78 1069.75 1315.8 1069.77 1320.82 1069.8 1325.83 1069.82 1330.85 1069.84 1335.86 1069.86 1340.88 1069.88 1345.89 1069.9 1350.91 1069.92 1355.92 1069.94 1360.94 1069.95 1365.95 1069.97 1370.97 1069.98 1375.98 1069.99 1381 1070" stroke="url(#g25)" stroke-width="4.1" fill="none" stroke-dasharray="3.74 0.3"/>
<path d="M403 1072.4 408.02 1072.46 413.03 1072.53 418.05 1072.6 423.06 1072.66 428.08 1072.73 433.09 1072.79 438.11 1072.86 443.12 1072.93 448.14 1073 453.15 1073.06 458.17 1073.13 463.18 1073.2 468.2 1073.27 473.22 1073.34 478.23 1073.41 483.25 1073.48 488.26 1073.55 493.28 1073.62 498.29 1073.69 503.31 1073.76 508.32 1073.83 513.34 1073.9 518.35 1073.98 523.37 1074.05 528.38 1074.13 533.4 1074.22 538.42 1074.31 543.43 1074.4 548.45 1074.5 553.46 1074.6 558.48 1074.7 563.49 1074.8 568.51 1074.9 573.52 1075.01 578.54 1075.11 583.55 1075.21 588.57 1075.3 593.58 1075.4 598.6 1075.49 603.62 1075.57 608.63 1075.65 613.65 1075.72 618.66 1075.79 623.68 1075.85 628.69 1075.9 633.71 1075.94 638.72 1075.97 643.74 1075.99 648.75 1076 653.77 1076 658.78 1075.97 663.8 1075.94 668.82 1075.89 673.83 1075.82 678.85 1075.74 683.86 1075.65 688.88 1075.55 693.89 1075.44 698.91 1075.31 703.92 1075.18 708.94 1075.04 713.95 1074.89 718.97 1074.74 723.98 1074.58 729 1074.41 734.02 1074.24 739.03 1074.07 744.05 1073.89 749.06 1073.71 754.08 1073.53 759.09 1073.35 764.11 1073.18 769.12 1073 774.14 1072.82 779.15 1072.65 784.17 1072.49 789.18 1072.32 794.2 1072.17 799.22 1072.01 804.23 1071.87 809.25 1071.74 814.26 1071.61 819.28 1071.49 824.29 1071.38 829.31 1071.29 834.32 1071.21 839.34 1071.14 844.35 1071.08 849.37 1071.04 854.38 1071.01 859.4 1071 864.42 1071 869.43 1071.02 874.45 1071.05 879.46 1071.08 884.48 1071.13 889.49 1071.18 894.51 1071.24 899.52 1071.31 904.54 1071.38 909.55 1071.46 914.57 1071.55 919.58 1071.64 924.6 1071.73 929.62 1071.83 934.63 1071.93 939.65 1072.04 944.66 1072.14 949.68 1072.24 954.69 1072.35 959.71 1072.45 964.72 1072.55 969.74 1072.65 974.75 1072.75 979.77 1072.85 984.78 1072.94 989.8 1073.03 994.82 1073.11 999.83 1073.18 1004.85 1073.25 1009.86 1073.31 1014.88 1073.37 1019.89 1073.41 1024.91 1073.45 1029.92 1073.48 1034.94 1073.49 1039.95 1073.5 1044.97 1073.5 1049.98 1073.5 1055 1073.5 1060.02 1073.5 1065.03 1073.5 1070.05 1073.5 1075.06 1073.5 1080.08 1073.5 1085.09 1073.5 1090.11 1073.5 1095.12 1073.5 1100.14 1073.5 1105.15 1073.5 1110.17 1073.5 1115.18 1073.5 1120.2 1073.5 1125.22 1073.5 1130.23 1073.5 1135.25 1073.5 1140.26 1073.5 1145.28 1073.5 1150.29 1073.5 1155.31 1073.5 1160.32 1073.5 1165.34 1073.5 1170.35 1073.5 1175.37 1073.5 1180.38 1073.5 1185.4 1073.5 1190.42 1073.5 1195.43 1073.5 1200.45 1073.5 1205.46 1073.5 1210.48 1073.5 1215.49 1073.51 1220.51 1073.51 1225.52 1073.51 1230.54 1073.52 1235.55 1073.53 1240.57 1073.53 1245.58 1073.54 1250.6 1073.55 1255.62 1073.56 1260.63 1073.57 1265.65 1073.59 1270.66 1073.6 1275.68 1073.61 1280.69 1073.63 1285.71 1073.64 1290.72 1073.66 1295.74 1073.67 1300.75 1073.69 1305.77 1073.7 1310.78 1073.72 1315.8 1073.74 1320.82 1073.76 1325.83 1073.78 1330.85 1073.8 1335.86 1073.81 1340.88 1073.83 1345.89 1073.85 1350.91 1073.87 1355.92 1073.9 1360.94 1073.92 1365.95 1073.94 1370.97 1073.96 1375.98 1073.98 1381 1074" stroke="url(#g26)" stroke-width="4.1" fill="none" stroke-dasharray="3.74 0.3"/>
<path d="M403 1080 408.02 1080.04 413.03 1080.09 418.05 1080.13 423.06 1080.18 428.08 1080.22 433.09 1080.27 438.11 1080.31 443.12 1080.35 448.14 1080.4 453.15 1080.44 458.17 1080.48 463.18 1080.53 468.2 1080.57 473.22 1080.61 478.23 1080.65 483.25 1080.7 488.26 1080.74 493.28 1080.78 498.29 1080.82 503.31 1080.86 508.32 1080.9 513.34 1080.95 518.35 1080.99 523.37 1081.03 528.38 1081.07 533.4 1081.11 538.42 1081.15 543.43 1081.19 548.45 1081.23 553.46 1081.28 558.48 1081.32 563.49 1081.36 568.51 1081.4 573.52 1081.44 578.54 1081.48 583.55 1081.52 588.57 1081.56 593.58 1081.6 598.6 1081.64 603.62 1081.68 608.63 1081.72 613.65 1081.76 618.66 1081.79 623.68 1081.83 628.69 1081.86 633.71 1081.9 638.72 1081.93 643.74 1081.96 648.75 1081.99 653.77 1082.02 658.78 1082.05 663.8 1082.08 668.82 1082.12 673.83 1082.15 678.85 1082.18 683.86 1082.21 688.88 1082.24 693.89 1082.28 698.91 1082.31 703.92 1082.34 708.94 1082.37 713.95 1082.41 718.97 1082.44 723.98 1082.47 729 1082.5 734.02 1082.53 739.03 1082.56 744.05 1082.59 749.06 1082.62 754.08 1082.65 759.09 1082.68 764.11 1082.71 769.12 1082.73 774.14 1082.76 779.15 1082.78 784.17 1082.81 789.18 1082.83 794.2 1082.85 799.22 1082.87 804.23 1082.89 809.25 1082.91 814.26 1082.93 819.28 1082.94 824.29 1082.95 829.31 1082.97 834.32 1082.98 839.34 1082.98 844.35 1082.99 849.37 1083 854.38 1083 859.4 1083 864.42 1083 869.43 1082.99 874.45 1082.98 879.46 1082.97 884.48 1082.95 889.49 1082.93 894.51 1082.9 899.52 1082.88 904.54 1082.85 909.55 1082.81 914.57 1082.78 919.58 1082.74 924.6 1082.71 929.62 1082.67 934.63 1082.63 939.65 1082.59 944.66 1082.54 949.68 1082.5 954.69 1082.46 959.71 1082.42 964.72 1082.38 969.74 1082.34 974.75 1082.3 979.77 1082.26 984.78 1082.22 989.8 1082.19 994.82 1082.16 999.83 1082.13 1004.85 1082.1 1009.86 1082.07 1014.88 1082.05 1019.89 1082.03 1024.91 1082.02 1029.92 1082.01 1034.94 1082 1039.95 1082 1044.97 1082 1049.98 1082 1055 1082 1060.02 1082 1065.03 1082 1070.05 1082 1075.06 1082 1080.08 1082 1085.09 1082 1090.11 1082 1095.12 1082 1100.14 1082 1105.15 1082 1110.17 1082 1115.18 1082 1120.2 1082 1125.22 1082 1130.23 1082 1135.25 1082 1140.26 1082 1145.28 1082 1150.29 1082 1155.31 1082 1160.32 1082 1165.34 1082 1170.35 1082 1175.37 1082 1180.38 1082 1185.4 1082 1190.42 1082 1195.43 1082 1200.45 1082 1205.46 1082 1210.48 1082 1215.49 1082.01 1220.51 1082.02 1225.52 1082.03 1230.54 1082.04 1235.55 1082.05 1240.57 1082.07 1245.58 1082.09 1250.6 1082.1 1255.62 1082.13 1260.63 1082.15 1265.65 1082.17 1270.66 1082.2 1275.68 1082.22 1280.69 1082.25 1285.71 1082.28 1290.72 1082.31 1295.74 1082.34 1300.75 1082.37 1305.77 1082.41 1310.78 1082.44 1315.8 1082.48 1320.82 1082.52 1325.83 1082.55 1330.85 1082.59 1335.86 1082.63 1340.88 1082.67 1345.89 1082.71 1350.91 1082.75 1355.92 1082.79 1360.94 1082.83 1365.95 1082.87 1370.97 1082.92 1375.98 1082.96 1381 1083" stroke="url(#g27)" stroke-width="4.1" fill="none" stroke-dasharray="3.74 0.3"/>
<path d="M403 1084 408.02 1083.98 413.03 1083.96 418.05 1083.93 423.06 1083.91 428.08 1083.89 433.09 1083.87 438.11 1083.84 443.12 1083.82 448.14 1083.8 453.15 1083.78 458.17 1083.76 463.18 1083.74 468.2 1083.72 473.22 1083.69 478.23 1083.67 483.25 1083.65 488.26 1083.63 493.28 1083.61 498.29 1083.59 503.31 1083.57 508.32 1083.55 513.34 1083.53 518.35 1083.51 523.37 1083.49 528.38 1083.46 533.4 1083.44 538.42 1083.42 543.43 1083.39 548.45 1083.37 553.46 1083.34 558.48 1083.32 563.49 1083.29 568.51 1083.27 573.52 1083.24 578.54 1083.22 583.55 1083.19 588.57 1083.17 593.58 1083.14 598.6 1083.12 603.62 1083.1 608.63 1083.08 613.65 1083.07 618.66 1083.05 623.68 1083.04 628.69 1083.02 633.71 1083.01 638.72 1083.01 643.74 1083 648.75 1083 653.77 1083 658.78 1083.01 663.8 1083.03 668.82 1083.06 673.83 1083.09 678.85 1083.13 683.86 1083.17 688.88 1083.23 693.89 1083.28 698.91 1083.34 703.92 1083.41 708.94 1083.48 713.95 1083.55 718.97 1083.63 723.98 1083.71 729 1083.8 734.02 1083.88 739.03 1083.97 744.05 1084.06 749.06 1084.14 754.08 1084.23 759.09 1084.32 764.11 1084.41 769.12 1084.5 774.14 1084.59 779.15 1084.67 784.17 1084.76 789.18 1084.84 794.2 1084.92 799.22 1084.99 804.23 1085.06 809.25 1085.13 814.26 1085.2 819.28 1085.25 824.29 1085.31 829.31 1085.36 834.32 1085.4 839.34 1085.43 844.35 1085.46 849.37 1085.48 854.38 1085.49 859.4 1085.5 864.42 1085.5 869.43 1085.49 874.45 1085.48 879.46 1085.47 884.48 1085.45 889.49 1085.43 894.51 1085.4 899.52 1085.38 904.54 1085.35 909.55 1085.31 914.57 1085.28 919.58 1085.24 924.6 1085.21 929.62 1085.17 934.63 1085.13 939.65 1085.09 944.66 1085.04 949.68 1085 954.69 1084.96 959.71 1084.92 964.72 1084.88 969.74 1084.84 974.75 1084.8 979.77 1084.76 984.78 1084.72 989.8 1084.69 994.82 1084.66 999.83 1084.63 1004.85 1084.6 1009.86 1084.57 1014.88 1084.55 1019.89 1084.53 1024.91 1084.52 1029.92 1084.51 1034.94 1084.5 1039.95 1084.5 1044.97 1084.51 1049.98 1084.53 1055 1084.58 1060.02 1084.63 1065.03 1084.7 1070.05 1084.78 1075.06 1084.88 1080.08 1084.98 1085.09 1085.1 1090.11 1085.22 1095.12 1085.35 1100.14 1085.49 1105.15 1085.63 1110.17 1085.77 1115.18 1085.92 1120.2 1086.08 1125.22 1086.23 1130.23 1086.39 1135.25 1086.54 1140.26 1086.69 1145.28 1086.84 1150.29 1086.99 1155.31 1087.13 1160.32 1087.26 1165.34 1087.39 1170.35 1087.51 1175.37 1087.62 1180.38 1087.72 1185.4 1087.81 1190.42 1087.89 1195.43 1087.95 1200.45 1088 1205.46 1088.05 1210.48 1088.09 1215.49 1088.14 1220.51 1088.18 1225.52 1088.22 1230.54 1088.26 1235.55 1088.31 1240.57 1088.35 1245.58 1088.39 1250.6 1088.43 1255.62 1088.46 1260.63 1088.5 1265.65 1088.54 1270.66 1088.57 1275.68 1088.61 1280.69 1088.64 1285.71 1088.67 1290.72 1088.7 1295.74 1088.73 1300.75 1088.76 1305.77 1088.79 1310.78 1088.81 1315.8 1088.84 1320.82 1088.86 1325.83 1088.88 1330.85 1088.9 1335.86 1088.92 1340.88 1088.94 1345.89 1088.95 1350.91 1088.96 1355.92 1088.97 1360.94 1088.98 1365.95 1088.99 1370.97 1089 1375.98 1089 1381 1089" stroke="url(#g28)" stroke-width="4.1" fill="none" stroke-dasharray="3.74 0.3"/>
<path d="M403 1090.9 408.02 1090.86 413.03 1090.82 418.05 1090.78 423.06 1090.75 428.08 1090.71 433.09 1090.67 438.11 1090.63 443.12 1090.59 448.14 1090.55 453.15 1090.51 458.17 1090.48 463.18 1090.44 468.2 1090.4 473.22 1090.36 478.23 1090.32 483.25 1090.28 488.26 1090.24 493.28 1090.21 498.29 1090.17 503.31 1090.13 508.32 1090.09 513.34 1090.05 518.35 1090.01 523.37 1089.97 528.38 1089.93 533.4 1089.89 538.42 1089.84 543.43 1089.79 548.45 1089.74 553.46 1089.69 558.48 1089.64 563.49 1089.59 568.51 1089.54 573.52 1089.49 578.54 1089.44 583.55 1089.39 588.57 1089.34 593.58 1089.29 598.6 1089.25 603.62 1089.21 608.63 1089.17 613.65 1089.13 618.66 1089.1 623.68 1089.07 628.69 1089.05 633.71 1089.03 638.72 1089.01 643.74 1089 648.75 1089 653.77 1089 658.78 1089 663.8 1089 668.82 1089.01 673.83 1089.01 678.85 1089.02 683.86 1089.02 688.88 1089.03 693.89 1089.04 698.91 1089.05 703.92 1089.06 708.94 1089.07 713.95 1089.08 718.97 1089.09 723.98 1089.1 729 1089.11 734.02 1089.12 739.03 1089.14 744.05 1089.15 749.06 1089.17 754.08 1089.18 759.09 1089.19 764.11 1089.21 769.12 1089.23 774.14 1089.24 779.15 1089.26 784.17 1089.27 789.18 1089.29 794.2 1089.3 799.22 1089.32 804.23 1089.34 809.25 1089.35 814.26 1089.37 819.28 1089.38 824.29 1089.4 829.31 1089.41 834.32 1089.43 839.34 1089.44 844.35 1089.46 849.37 1089.47 854.38 1089.49 859.4 1089.5 864.42 1089.51 869.43 1089.52 874.45 1089.54 879.46 1089.55 884.48 1089.56 889.49 1089.57 894.51 1089.58 899.52 1089.59 904.54 1089.6 909.55 1089.61 914.57 1089.62 919.58 1089.63 924.6 1089.64 929.62 1089.65 934.63 1089.66 939.65 1089.67 944.66 1089.69 949.68 1089.7 954.69 1089.71 959.71 1089.72 964.72 1089.73 969.74 1089.75 974.75 1089.76 979.77 1089.77 984.78 1089.79 989.8 1089.8 994.82 1089.82 999.83 1089.84 1004.85 1089.85 1009.86 1089.87 1014.88 1089.89 1019.89 1089.91 1024.91 1089.93 1029.92 1089.95 1034.94 1089.98 1039.95 1090 1044.97 1090.03 1049.98 1090.07 1055 1090.12 1060.02 1090.19 1065.03 1090.26 1070.05 1090.34 1075.06 1090.42 1080.08 1090.52 1085.09 1090.62 1090.11 1090.72 1095.12 1090.83 1100.14 1090.95 1105.15 1091.06 1110.17 1091.18 1115.18 1091.31 1120.2 1091.43 1125.22 1091.55 1130.23 1091.68 1135.25 1091.8 1140.26 1091.92 1145.28 1092.04 1150.29 1092.16 1155.31 1092.27 1160.32 1092.38 1165.34 1092.48 1170.35 1092.58 1175.37 1092.67 1180.38 1092.76 1185.4 1092.83 1190.42 1092.9 1195.43 1092.96 1200.45 1093 1205.46 1093.05 1210.48 1093.09 1215.49 1093.13 1220.51 1093.17 1225.52 1093.22 1230.54 1093.26 1235.55 1093.3 1240.57 1093.34 1245.58 1093.38 1250.6 1093.42 1255.62 1093.46 1260.63 1093.49 1265.65 1093.53 1270.66 1093.56 1275.68 1093.6 1280.69 1093.63 1285.71 1093.67 1290.72 1093.7 1295.74 1093.73 1300.75 1093.76 1305.77 1093.78 1310.78 1093.81 1315.8 1093.83 1320.82 1093.86 1325.83 1093.88 1330.85 1093.9 1335.86 1093.92 1340.88 1093.93 1345.89 1093.95 1350.91 1093.96 1355.92 1093.97 1360.94 1093.98 1365.95 1093.99 1370.97 1094 1375.98 1094 1381 1094" stroke="url(#g29)" stroke-width="4.1" fill="none" stroke-dasharray="3.74 0.3"/>
<path d="M403 1092.6 408.02 1092.87 413.03 1093.14 418.05 1093.41 423.06 1093.67 428.08 1093.93 433.09 1094.18 438.11 1094.43 443.12 1094.67 448.14 1094.91 453.15 1095.14 458.17 1095.37 463.18 1095.59 468.2 1095.8 473.22 1096 478.23 1096.2 483.25 1096.39 488.26 1096.57 493.28 1096.75 498.29 1096.91 503.31 1097.06 508.32 1097.21 513.34 1097.34 518.35 1097.46 523.37 1097.58 528.38 1097.69 533.4 1097.8 538.42 1097.92 543.43 1098.03 548.45 1098.14 553.46 1098.25 558.48 1098.35 563.49 1098.46 568.51 1098.56 573.52 1098.66 578.54 1098.75 583.55 1098.84 588.57 1098.93 593.58 1099.01 598.6 1099.09 603.62 1099.16 608.63 1099.22 613.65 1099.28 618.66 1099.34 623.68 1099.38 628.69 1099.42 633.71 1099.45 638.72 1099.48 643.74 1099.49 648.75 1099.5 653.77 1099.5 658.78 1099.48 663.8 1099.44 668.82 1099.4 673.83 1099.34 678.85 1099.27 683.86 1099.19 688.88 1099.09 693.89 1098.99 698.91 1098.88 703.92 1098.76 708.94 1098.64 713.95 1098.5 718.97 1098.36 723.98 1098.22 729 1098.07 734.02 1097.92 739.03 1097.76 744.05 1097.6 749.06 1097.44 754.08 1097.28 759.09 1097.12 764.11 1096.96 769.12 1096.8 774.14 1096.64 779.15 1096.49 784.17 1096.34 789.18 1096.19 794.2 1096.05 799.22 1095.91 804.23 1095.78 809.25 1095.66 814.26 1095.55 819.28 1095.44 824.29 1095.35 829.31 1095.26 834.32 1095.19 839.34 1095.12 844.35 1095.07 849.37 1095.03 854.38 1095.01 859.4 1095 864.42 1095 869.43 1095 874.45 1095 879.46 1095 884.48 1095 889.49 1095 894.51 1095 899.52 1095 904.54 1095 909.55 1095 914.57 1095 919.58 1095 924.6 1095 929.62 1095 934.63 1095 939.65 1095 944.66 1095 949.68 1095 954.69 1095 959.71 1095 964.72 1095 969.74 1095 974.75 1095 979.77 1095 984.78 1095 989.8 1095 994.82 1095 999.83 1095 1004.85 1095 1009.86 1095 1014.88 1095 1019.89 1095 1024.91 1095 1029.92 1095 1034.94 1095 1039.95 1095 1044.97 1095.01 1049.98 1095.02 1055 1095.05 1060.02 1095.08 1065.03 1095.13 1070.05 1095.18 1075.06 1095.24 1080.08 1095.31 1085.09 1095.38 1090.11 1095.46 1095.12 1095.55 1100.14 1095.64 1105.15 1095.73 1110.17 1095.83 1115.18 1095.93 1120.2 1096.04 1125.22 1096.14 1130.23 1096.25 1135.25 1096.35 1140.26 1096.46 1145.28 1096.56 1150.29 1096.67 1155.31 1096.77 1160.32 1096.87 1165.34 1096.97 1170.35 1097.06 1175.37 1097.15 1180.38 1097.23 1185.4 1097.31 1190.42 1097.38 1195.43 1097.45 1200.45 1097.5 1205.46 1097.56 1210.48 1097.61 1215.49 1097.67 1220.51 1097.72 1225.52 1097.77 1230.54 1097.82 1235.55 1097.88 1240.57 1097.93 1245.58 1097.98 1250.6 1098.03 1255.62 1098.08 1260.63 1098.13 1265.65 1098.17 1270.66 1098.22 1275.68 1098.27 1280.69 1098.31 1285.71 1098.36 1290.72 1098.4 1295.74 1098.44 1300.75 1098.48 1305.77 1098.52 1310.78 1098.56 1315.8 1098.6 1320.82 1098.64 1325.83 1098.68 1330.85 1098.71 1335.86 1098.75 1340.88 1098.78 1345.89 1098.81 1350.91 1098.84 1355.92 1098.87 1360.94 1098.9 1365.95 1098.93 1370.97 1098.95 1375.98 1098.98 1381 1099" stroke="url(#g30)" stroke-width="4.1" fill="none" stroke-dasharray="3.74 0.3"/>
<path d="M403 1100 408.02 1100.06 413.03 1100.12 418.05 1100.17 423.06 1100.22 428.08 1100.26 433.09 1100.3 438.11 1100.33 443.12 1100.36 448.14 1100.38 453.15 1100.41 458.17 1100.43 463.18 1100.44 468.2 1100.46 473.22 1100.47 478.23 1100.48 483.25 1100.48 488.26 1100.49 493.28 1100.49 498.29 1100.5 503.31 1100.5 508.32 1100.5 513.34 1100.5 518.35 1100.5 523.37 1100.48 528.38 1100.4 533.4 1100.25 538.42 1100.04 543.43 1099.77 548.45 1099.46 553.46 1099.1 558.48 1098.71 563.49 1098.28 568.51 1097.83 573.52 1097.36 578.54 1096.88 583.55 1096.39 588.57 1095.9 593.58 1095.41 598.6 1094.94 603.62 1094.47 608.63 1094.03 613.65 1093.62 618.66 1093.24 623.68 1092.9 628.69 1092.61 633.71 1092.37 638.72 1092.18 643.74 1092.06 648.75 1092 653.77 1092.01 658.78 1092.03 663.8 1092.08 668.82 1092.15 673.83 1092.23 678.85 1092.33 683.86 1092.45 688.88 1092.59 693.89 1092.73 698.91 1092.89 703.92 1093.07 708.94 1093.25 713.95 1093.44 718.97 1093.64 723.98 1093.85 729 1094.07 734.02 1094.29 739.03 1094.51 744.05 1094.74 749.06 1094.97 754.08 1095.21 759.09 1095.44 764.11 1095.67 769.12 1095.9 774.14 1096.13 779.15 1096.35 784.17 1096.57 789.18 1096.78 794.2 1096.99 799.22 1097.18 804.23 1097.37 809.25 1097.54 814.26 1097.71 819.28 1097.86 824.29 1098 829.31 1098.12 834.32 1098.23 839.34 1098.32 844.35 1098.4 849.37 1098.45 854.38 1098.49 859.4 1098.5 864.42 1098.5 869.43 1098.5 874.45 1098.5 879.46 1098.5 884.48 1098.5 889.49 1098.5 894.51 1098.5 899.52 1098.5 904.54 1098.5 909.55 1098.5 914.57 1098.5 919.58 1098.5 924.6 1098.5 929.62 1098.5 934.63 1098.5 939.65 1098.5 944.66 1098.5 949.68 1098.5 954.69 1098.5 959.71 1098.5 964.72 1098.5 969.74 1098.5 974.75 1098.5 979.77 1098.5 984.78 1098.5 989.8 1098.5 994.82 1098.5 999.83 1098.5 1004.85 1098.5 1009.86 1098.5 1014.88 1098.5 1019.89 1098.5 1024.91 1098.5 1029.92 1098.5 1034.94 1098.5 1039.95 1098.5 1044.97 1098.5 1049.98 1098.52 1055 1098.54 1060.02 1098.56 1065.03 1098.6 1070.05 1098.64 1075.06 1098.69 1080.08 1098.74 1085.09 1098.8 1090.11 1098.86 1095.12 1098.92 1100.14 1098.99 1105.15 1099.07 1110.17 1099.14 1115.18 1099.22 1120.2 1099.3 1125.22 1099.39 1130.23 1099.47 1135.25 1099.55 1140.26 1099.64 1145.28 1099.72 1150.29 1099.8 1155.31 1099.89 1160.32 1099.97 1165.34 1100.05 1170.35 1100.12 1175.37 1100.2 1180.38 1100.27 1185.4 1100.33 1190.42 1100.39 1195.43 1100.45 1200.45 1100.5 1205.46 1100.55 1210.48 1100.6 1215.49 1100.65 1220.51 1100.7 1225.52 1100.75 1230.54 1100.8 1235.55 1100.85 1240.57 1100.89 1245.58 1100.94 1250.6 1100.99 1255.62 1101.03 1260.63 1101.08 1265.65 1101.12 1270.66 1101.17 1275.68 1101.21 1280.69 1101.26 1285.71 1101.3 1290.72 1101.34 1295.74 1101.38 1300.75 1101.42 1305.77 1101.47 1310.78 1101.51 1315.8 1101.55 1320.82 1101.58 1325.83 1101.62 1330.85 1101.66 1335.86 1101.7 1340.88 1101.73 1345.89 1101.77 1350.91 1101.8 1355.92 1101.84 1360.94 1101.87 1365.95 1101.91 1370.97 1101.94 1375.98 1101.97 1381 1102" stroke="url(#g31)" stroke-width="4.1" fill="none" stroke-dasharray="3.74 0.3"/>
<path d="M403 1103.5 408.02 1103.51 413.03 1103.53 418.05 1103.54 423.06 1103.56 428.08 1103.58 433.09 1103.59 438.11 1103.61 443.12 1103.63 448.14 1103.65 453.15 1103.67 458.17 1103.69 463.18 1103.72 468.2 1103.74 473.22 1103.76 478.23 1103.79 483.25 1103.81 488.26 1103.83 493.28 1103.86 498.29 1103.88 503.31 1103.91 508.32 1103.94 513.34 1103.96 518.35 1103.99 523.37 1104.02 528.38 1104.05 533.4 1104.09 538.42 1104.13 543.43 1104.17 548.45 1104.22 553.46 1104.27 558.48 1104.32 563.49 1104.37 568.51 1104.42 573.52 1104.47 578.54 1104.52 583.55 1104.57 588.57 1104.62 593.58 1104.67 598.6 1104.72 603.62 1104.77 608.63 1104.81 613.65 1104.85 618.66 1104.89 623.68 1104.92 628.69 1104.94 633.71 1104.97 638.72 1104.98 643.74 1104.99 648.75 1105 653.77 1105 658.78 1105 663.8 1105 668.82 1105 673.83 1105 678.85 1105 683.86 1105 688.88 1105 693.89 1105 698.91 1105 703.92 1105 708.94 1105 713.95 1105 718.97 1105 723.98 1105 729 1105 734.02 1105 739.03 1105 744.05 1105 749.06 1105 754.08 1105 759.09 1105 764.11 1105 769.12 1105 774.14 1105 779.15 1105 784.17 1105 789.18 1105 794.2 1105 799.22 1105 804.23 1105 809.25 1105 814.26 1105 819.28 1105 824.29 1105 829.31 1105 834.32 1105 839.34 1105 844.35 1105 849.37 1105 854.38 1105 859.4 1105 864.42 1105 869.43 1104.99 874.45 1104.98 879.46 1104.97 884.48 1104.95 889.49 1104.93 894.51 1104.9 899.52 1104.88 904.54 1104.85 909.55 1104.81 914.57 1104.78 919.58 1104.74 924.6 1104.71 929.62 1104.67 934.63 1104.63 939.65 1104.59 944.66 1104.54 949.68 1104.5 954.69 1104.46 959.71 1104.42 964.72 1104.38 969.74 1104.34 974.75 1104.3 979.77 1104.26 984.78 1104.22 989.8 1104.19 994.82 1104.16 999.83 1104.13 1004.85 1104.1 1009.86 1104.07 1014.88 1104.05 1019.89 1104.03 1024.91 1104.02 1029.92 1104.01 1034.94 1104 1039.95 1104 1044.97 1104 1049.98 1104 1055 1104.01 1060.02 1104.01 1065.03 1104.02 1070.05 1104.03 1075.06 1104.04 1080.08 1104.05 1085.09 1104.06 1090.11 1104.07 1095.12 1104.08 1100.14 1104.1 1105.15 1104.11 1110.17 1104.13 1115.18 1104.15 1120.2 1104.17 1125.22 1104.18 1130.23 1104.2 1135.25 1104.22 1140.26 1104.24 1145.28 1104.26 1150.29 1104.29 1155.31 1104.31 1160.32 1104.33 1165.34 1104.35 1170.35 1104.37 1175.37 1104.39 1180.38 1104.42 1185.4 1104.44 1190.42 1104.46 1195.43 1104.48 1200.45 1104.5 1205.46 1104.52 1210.48 1104.55 1215.49 1104.57 1220.51 1104.59 1225.52 1104.62 1230.54 1104.64 1235.55 1104.67 1240.57 1104.7 1245.58 1104.72 1250.6 1104.75 1255.62 1104.78 1260.63 1104.81 1265.65 1104.84 1270.66 1104.87 1275.68 1104.91 1280.69 1104.94 1285.71 1104.97 1290.72 1105 1295.74 1105.04 1300.75 1105.07 1305.77 1105.11 1310.78 1105.15 1315.8 1105.18 1320.82 1105.22 1325.83 1105.26 1330.85 1105.29 1335.86 1105.33 1340.88 1105.37 1345.89 1105.41 1350.91 1105.45 1355.92 1105.49 1360.94 1105.53 1365.95 1105.57 1370.97 1105.62 1375.98 1105.66 1381 1105.7" stroke="url(#g32)" stroke-width="4.1" fill="none" stroke-dasharray="3.74 0.3"/>
<path d="M403 1106 408.02 1106.04 413.03 1106.09 418.05 1106.13 423.06 1106.18 428.08 1106.22 433.09 1106.27 438.11 1106.31 443.12 1106.35 448.14 1106.4 453.15 1106.44 458.17 1106.48 463.18 1106.53 468.2 1106.57 473.22 1106.61 478.23 1106.65 483.25 1106.7 488.26 1106.74 493.28 1106.78 498.29 1106.82 503.31 1106.86 508.32 1106.9 513.34 1106.95 518.35 1106.99 523.37 1107.03 528.38 1107.07 533.4 1107.11 538.42 1107.16 543.43 1107.2 548.45 1107.24 553.46 1107.29 558.48 1107.34 563.49 1107.38 568.51 1107.43 573.52 1107.47 578.54 1107.51 583.55 1107.56 588.57 1107.6 593.58 1107.64 598.6 1107.68 603.62 1107.72 608.63 1107.76 613.65 1107.8 618.66 1107.83 623.68 1107.86 628.69 1107.9 633.71 1107.92 638.72 1107.95 643.74 1107.97 648.75 1108 653.77 1108.01 658.78 1108.03 663.8 1108.05 668.82 1108.07 673.83 1108.09 678.85 1108.11 683.86 1108.13 688.88 1108.14 693.89 1108.16 698.91 1108.18 703.92 1108.19 708.94 1108.21 713.95 1108.23 718.97 1108.24 723.98 1108.26 729 1108.28 734.02 1108.29 739.03 1108.31 744.05 1108.32 749.06 1108.33 754.08 1108.35 759.09 1108.36 764.11 1108.37 769.12 1108.38 774.14 1108.4 779.15 1108.41 784.17 1108.42 789.18 1108.43 794.2 1108.44 799.22 1108.45 804.23 1108.45 809.25 1108.46 814.26 1108.47 819.28 1108.48 824.29 1108.48 829.31 1108.49 834.32 1108.49 839.34 1108.49 844.35 1108.5 849.37 1108.5 854.38 1108.5 859.4 1108.5 864.42 1108.5 869.43 1108.5 874.45 1108.49 879.46 1108.48 884.48 1108.47 889.49 1108.46 894.51 1108.45 899.52 1108.44 904.54 1108.42 909.55 1108.41 914.57 1108.39 919.58 1108.37 924.6 1108.35 929.62 1108.33 934.63 1108.31 939.65 1108.29 944.66 1108.27 949.68 1108.25 954.69 1108.23 959.71 1108.21 964.72 1108.19 969.74 1108.17 974.75 1108.15 979.77 1108.13 984.78 1108.11 989.8 1108.09 994.82 1108.08 999.83 1108.06 1004.85 1108.05 1009.86 1108.04 1014.88 1108.03 1019.89 1108.02 1024.91 1108.01 1029.92 1108 1034.94 1108 1039.95 1108 1044.97 1108 1049.98 1108.01 1055 1108.02 1060.02 1108.03 1065.03 1108.04 1070.05 1108.06 1075.06 1108.08 1080.08 1108.1 1085.09 1108.13 1090.11 1108.15 1095.12 1108.18 1100.14 1108.21 1105.15 1108.25 1110.17 1108.28 1115.18 1108.32 1120.2 1108.36 1125.22 1108.39 1130.23 1108.43 1135.25 1108.47 1140.26 1108.51 1145.28 1108.56 1150.29 1108.6 1155.31 1108.64 1160.32 1108.68 1165.34 1108.72 1170.35 1108.77 1175.37 1108.81 1180.38 1108.85 1185.4 1108.89 1190.42 1108.93 1195.43 1108.97 1200.45 1109 1205.46 1109.04 1210.48 1109.08 1215.49 1109.12 1220.51 1109.15 1225.52 1109.19 1230.54 1109.23 1235.55 1109.27 1240.57 1109.31 1245.58 1109.35 1250.6 1109.39 1255.62 1109.43 1260.63 1109.48 1265.65 1109.52 1270.66 1109.56 1275.68 1109.6 1280.69 1109.65 1285.71 1109.69 1290.72 1109.74 1295.74 1109.78 1300.75 1109.83 1305.77 1109.87 1310.78 1109.92 1315.8 1109.96 1320.82 1110.01 1325.83 1110.06 1330.85 1110.11 1335.86 1110.15 1340.88 1110.2 1345.89 1110.25 1350.91 1110.3 1355.92 1110.35 1360.94 1110.4 1365.95 1110.45 1370.97 1110.5 1375.98 1110.55 1381 1110.6" stroke="url(#g33)" stroke-width="4.1" fill="none" stroke-dasharray="3.74 0.3"/>
<path d="M403 1110 408.02 1110.02 413.03 1110.04 418.05 1110.07 423.06 1110.09 428.08 1110.11 433.09 1110.13 438.11 1110.16 443.12 1110.18 448.14 1110.2 453.15 1110.22 458.17 1110.24 463.18 1110.26 468.2 1110.28 473.22 1110.31 478.23 1110.33 483.25 1110.35 488.26 1110.37 493.28 1110.39 498.29 1110.41 503.31 1110.43 508.32 1110.45 513.34 1110.47 518.35 1110.49 523.37 1110.51 528.38 1110.53 533.4 1110.55 538.42 1110.58 543.43 1110.6 548.45 1110.62 553.46 1110.64 558.48 1110.66 563.49 1110.68 568.51 1110.7 573.52 1110.72 578.54 1110.74 583.55 1110.76 588.57 1110.78 593.58 1110.8 598.6 1110.82 603.62 1110.84 608.63 1110.86 613.65 1110.88 618.66 1110.9 623.68 1110.91 628.69 1110.93 633.71 1110.95 638.72 1110.96 643.74 1110.98 648.75 1111 653.77 1111.01 658.78 1111.03 663.8 1111.04 668.82 1111.06 673.83 1111.07 678.85 1111.09 683.86 1111.11 688.88 1111.12 693.89 1111.14 698.91 1111.15 703.92 1111.17 708.94 1111.19 713.95 1111.2 718.97 1111.22 723.98 1111.24 729 1111.25 734.02 1111.27 739.03 1111.28 744.05 1111.3 749.06 1111.31 754.08 1111.33 759.09 1111.34 764.11 1111.35 769.12 1111.37 774.14 1111.38 779.15 1111.39 784.17 1111.4 789.18 1111.42 794.2 1111.43 799.22 1111.44 804.23 1111.45 809.25 1111.45 814.26 1111.46 819.28 1111.47 824.29 1111.48 829.31 1111.48 834.32 1111.49 839.34 1111.49 844.35 1111.5 849.37 1111.5 854.38 1111.5 859.4 1111.5 864.42 1111.5 869.43 1111.5 874.45 1111.49 879.46 1111.48 884.48 1111.47 889.49 1111.46 894.51 1111.45 899.52 1111.44 904.54 1111.42 909.55 1111.41 914.57 1111.39 919.58 1111.37 924.6 1111.35 929.62 1111.33 934.63 1111.31 939.65 1111.29 944.66 1111.27 949.68 1111.25 954.69 1111.23 959.71 1111.21 964.72 1111.19 969.74 1111.17 974.75 1111.15 979.77 1111.13 984.78 1111.11 989.8 1111.09 994.82 1111.08 999.83 1111.06 1004.85 1111.05 1009.86 1111.04 1014.88 1111.03 1019.89 1111.02 1024.91 1111.01 1029.92 1111 1034.94 1111 1039.95 1111 1044.97 1111 1049.98 1111.01 1055 1111.03 1060.02 1111.05 1065.03 1111.07 1070.05 1111.1 1075.06 1111.13 1080.08 1111.17 1085.09 1111.21 1090.11 1111.25 1095.12 1111.3 1100.14 1111.35 1105.15 1111.41 1110.17 1111.46 1115.18 1111.52 1120.2 1111.58 1125.22 1111.64 1130.23 1111.7 1135.25 1111.76 1140.26 1111.82 1145.28 1111.88 1150.29 1111.95 1155.31 1112.01 1160.32 1112.07 1165.34 1112.13 1170.35 1112.19 1175.37 1112.25 1180.38 1112.3 1185.4 1112.36 1190.42 1112.41 1195.43 1112.46 1200.45 1112.5 1205.46 1112.55 1210.48 1112.59 1215.49 1112.64 1220.51 1112.68 1225.52 1112.72 1230.54 1112.77 1235.55 1112.81 1240.57 1112.85 1245.58 1112.9 1250.6 1112.94 1255.62 1112.98 1260.63 1113.02 1265.65 1113.07 1270.66 1113.11 1275.68 1113.15 1280.69 1113.19 1285.71 1113.24 1290.72 1113.28 1295.74 1113.32 1300.75 1113.36 1305.77 1113.4 1310.78 1113.44 1315.8 1113.48 1320.82 1113.52 1325.83 1113.56 1330.85 1113.6 1335.86 1113.65 1340.88 1113.69 1345.89 1113.73 1350.91 1113.76 1355.92 1113.8 1360.94 1113.84 1365.95 1113.88 1370.97 1113.92 1375.98 1113.96 1381 1114" stroke="url(#g34)" stroke-width="4.1" fill="none" stroke-dasharray="3.74 0.3"/>
<path d="M403 1108 408.02 1108.22 413.03 1108.43 418.05 1108.64 423.06 1108.85 428.08 1109.05 433.09 1109.25 438.11 1109.45 443.12 1109.64 448.14 1109.83 453.15 1110.02 458.17 1110.2 463.18 1110.38 468.2 1110.55 473.22 1110.72 478.23 1110.88 483.25 1111.04 488.26 1111.19 493.28 1111.33 498.29 1111.47 503.31 1111.6 508.32 1111.73 513.34 1111.85 518.35 1111.96 523.37 1112.07 528.38 1112.18 533.4 1112.28 538.42 1112.39 543.43 1112.49 548.45 1112.59 553.46 1112.7 558.48 1112.79 563.49 1112.89 568.51 1112.99 573.52 1113.08 578.54 1113.17 583.55 1113.25 588.57 1113.33 593.58 1113.41 598.6 1113.49 603.62 1113.56 608.63 1113.63 613.65 1113.69 618.66 1113.75 623.68 1113.8 628.69 1113.85 633.71 1113.9 638.72 1113.94 643.74 1113.97 648.75 1113.99 653.77 1114.02 658.78 1114.04 663.8 1114.06 668.82 1114.08 673.83 1114.1 678.85 1114.12 683.86 1114.14 688.88 1114.16 693.89 1114.18 698.91 1114.19 703.92 1114.21 708.94 1114.23 713.95 1114.25 718.97 1114.26 723.98 1114.28 729 1114.29 734.02 1114.31 739.03 1114.32 744.05 1114.34 749.06 1114.35 754.08 1114.36 759.09 1114.37 764.11 1114.39 769.12 1114.4 774.14 1114.41 779.15 1114.42 784.17 1114.43 789.18 1114.44 794.2 1114.45 799.22 1114.45 804.23 1114.46 809.25 1114.47 814.26 1114.47 819.28 1114.48 824.29 1114.48 829.31 1114.49 834.32 1114.49 839.34 1114.49 844.35 1114.5 849.37 1114.5 854.38 1114.5 859.4 1114.5 864.42 1114.5 869.43 1114.5 874.45 1114.5 879.46 1114.5 884.48 1114.5 889.49 1114.5 894.51 1114.5 899.52 1114.5 904.54 1114.5 909.55 1114.5 914.57 1114.5 919.58 1114.5 924.6 1114.5 929.62 1114.5 934.63 1114.5 939.65 1114.5 944.66 1114.5 949.68 1114.5 954.69 1114.5 959.71 1114.5 964.72 1114.5 969.74 1114.5 974.75 1114.5 979.77 1114.5 984.78 1114.5 989.8 1114.5 994.82 1114.5 999.83 1114.5 1004.85 1114.5 1009.86 1114.5 1014.88 1114.5 1019.89 1114.5 1024.91 1114.5 1029.92 1114.5 1034.94 1114.5 1039.95 1114.5 1044.97 1114.5 1049.98 1114.52 1055 1114.54 1060.02 1114.56 1065.03 1114.6 1070.05 1114.64 1075.06 1114.69 1080.08 1114.74 1085.09 1114.8 1090.11 1114.86 1095.12 1114.92 1100.14 1114.99 1105.15 1115.07 1110.17 1115.14 1115.18 1115.22 1120.2 1115.3 1125.22 1115.39 1130.23 1115.47 1135.25 1115.55 1140.26 1115.64 1145.28 1115.72 1150.29 1115.8 1155.31 1115.89 1160.32 1115.97 1165.34 1116.05 1170.35 1116.12 1175.37 1116.2 1180.38 1116.27 1185.4 1116.33 1190.42 1116.39 1195.43 1116.45 1200.45 1116.5 1205.46 1116.55 1210.48 1116.6 1215.49 1116.65 1220.51 1116.7 1225.52 1116.75 1230.54 1116.8 1235.55 1116.85 1240.57 1116.89 1245.58 1116.94 1250.6 1116.99 1255.62 1117.03 1260.63 1117.08 1265.65 1117.12 1270.66 1117.17 1275.68 1117.21 1280.69 1117.26 1285.71 1117.3 1290.72 1117.34 1295.74 1117.38 1300.75 1117.42 1305.77 1117.47 1310.78 1117.51 1315.8 1117.55 1320.82 1117.58 1325.83 1117.62 1330.85 1117.66 1335.86 1117.7 1340.88 1117.73 1345.89 1117.77 1350.91 1117.8 1355.92 1117.84 1360.94 1117.87 1365.95 1117.91 1370.97 1117.94 1375.98 1117.97 1381 1118" stroke="url(#g35)" stroke-width="4.1" fill="none" stroke-dasharray="3.74 0.3"/>
<path d="M403 1116.8 408.02 1116.81 413.03 1116.83 418.05 1116.84 423.06 1116.85 428.08 1116.86 433.09 1116.87 438.11 1116.89 443.12 1116.9 448.14 1116.91 453.15 1116.92 458.17 1116.93 463.18 1116.94 468.2 1116.95 473.22 1116.96 478.23 1116.97 483.25 1116.97 488.26 1116.98 493.28 1116.99 498.29 1116.99 503.31 1116.99 508.32 1117 513.34 1117 518.35 1117 523.37 1117 528.38 1117 533.4 1117 538.42 1117 543.43 1117 548.45 1117 553.46 1117 558.48 1117 563.49 1117 568.51 1117 573.52 1117 578.54 1117 583.55 1117 588.57 1117 593.58 1117 598.6 1117 603.62 1117 608.63 1117 613.65 1117 618.66 1117 623.68 1117 628.69 1117 633.71 1117 638.72 1117 643.74 1117 648.75 1117 653.77 1117 658.78 1117.01 663.8 1117.01 668.82 1117.02 673.83 1117.04 678.85 1117.05 683.86 1117.07 688.88 1117.09 693.89 1117.11 698.91 1117.14 703.92 1117.16 708.94 1117.19 713.95 1117.22 718.97 1117.25 723.98 1117.28 729 1117.32 734.02 1117.35 739.03 1117.39 744.05 1117.42 749.06 1117.46 754.08 1117.49 759.09 1117.53 764.11 1117.56 769.12 1117.6 774.14 1117.64 779.15 1117.67 784.17 1117.7 789.18 1117.74 794.2 1117.77 799.22 1117.8 804.23 1117.83 809.25 1117.85 814.26 1117.88 819.28 1117.9 824.29 1117.92 829.31 1117.94 834.32 1117.96 839.34 1117.97 844.35 1117.98 849.37 1117.99 854.38 1118 859.4 1118 864.42 1118 869.43 1118 874.45 1118 879.46 1118 884.48 1118 889.49 1118 894.51 1118 899.52 1118 904.54 1118 909.55 1118 914.57 1118 919.58 1118 924.6 1118 929.62 1118 934.63 1118 939.65 1118 944.66 1118 949.68 1118 954.69 1118 959.71 1118 964.72 1118 969.74 1118 974.75 1118 979.77 1118 984.78 1118 989.8 1118 994.82 1118 999.83 1118 1004.85 1118 1009.86 1118 1014.88 1118 1019.89 1118 1024.91 1118 1029.92 1118 1034.94 1118 1039.95 1118 1044.97 1118 1049.98 1118.02 1055 1118.03 1060.02 1118.06 1065.03 1118.09 1070.05 1118.13 1075.06 1118.18 1080.08 1118.23 1085.09 1118.28 1090.11 1118.34 1095.12 1118.4 1100.14 1118.47 1105.15 1118.54 1110.17 1118.61 1115.18 1118.69 1120.2 1118.77 1125.22 1118.85 1130.23 1118.93 1135.25 1119.01 1140.26 1119.1 1145.28 1119.18 1150.29 1119.26 1155.31 1119.35 1160.32 1119.43 1165.34 1119.51 1170.35 1119.59 1175.37 1119.67 1180.38 1119.74 1185.4 1119.81 1190.42 1119.88 1195.43 1119.94 1200.45 1120.01 1205.46 1120.06 1210.48 1120.12 1215.49 1120.18 1220.51 1120.24 1225.52 1120.3 1230.54 1120.36 1235.55 1120.41 1240.57 1120.47 1245.58 1120.53 1250.6 1120.59 1255.62 1120.64 1260.63 1120.7 1265.65 1120.76 1270.66 1120.81 1275.68 1120.87 1280.69 1120.92 1285.71 1120.98 1290.72 1121.04 1295.74 1121.09 1300.75 1121.15 1305.77 1121.2 1310.78 1121.26 1315.8 1121.31 1320.82 1121.36 1325.83 1121.42 1330.85 1121.47 1335.86 1121.53 1340.88 1121.58 1345.89 1121.63 1350.91 1121.69 1355.92 1121.74 1360.94 1121.79 1365.95 1121.84 1370.97 1121.9 1375.98 1121.95 1381 1122" stroke="url(#g36)" stroke-width="4.1" fill="none" stroke-dasharray="3.74 0.3"/>
<path d="M403 1121.4 408.02 1121.37 413.03 1121.35 418.05 1121.32 423.06 1121.3 428.08 1121.27 433.09 1121.25 438.11 1121.23 443.12 1121.2 448.14 1121.18 453.15 1121.16 458.17 1121.14 463.18 1121.12 468.2 1121.1 473.22 1121.08 478.23 1121.07 483.25 1121.05 488.26 1121.04 493.28 1121.03 498.29 1121.02 503.31 1121.01 508.32 1121.01 513.34 1121 518.35 1121 523.37 1121 528.38 1121 533.4 1121 538.42 1121 543.43 1121 548.45 1121 553.46 1121 558.48 1121 563.49 1121 568.51 1121 573.52 1121 578.54 1121 583.55 1121 588.57 1121 593.58 1121 598.6 1121 603.62 1121 608.63 1121 613.65 1121 618.66 1121 623.68 1121 628.69 1121 633.71 1121 638.72 1121 643.74 1121 648.75 1121 653.77 1121 658.78 1121 663.8 1120.99 668.82 1120.99 673.83 1120.98 678.85 1120.97 683.86 1120.97 688.88 1120.95 693.89 1120.94 698.91 1120.93 703.92 1120.92 708.94 1120.9 713.95 1120.89 718.97 1120.87 723.98 1120.86 729 1120.84 734.02 1120.82 739.03 1120.81 744.05 1120.79 749.06 1120.77 754.08 1120.75 759.09 1120.74 764.11 1120.72 769.12 1120.7 774.14 1120.68 779.15 1120.67 784.17 1120.65 789.18 1120.63 794.2 1120.62 799.22 1120.6 804.23 1120.59 809.25 1120.57 814.26 1120.56 819.28 1120.55 824.29 1120.54 829.31 1120.53 834.32 1120.52 839.34 1120.51 844.35 1120.51 849.37 1120.5 854.38 1120.5 859.4 1120.5 864.42 1120.5 869.43 1120.5 874.45 1120.5 879.46 1120.51 884.48 1120.51 889.49 1120.52 894.51 1120.52 899.52 1120.53 904.54 1120.54 909.55 1120.55 914.57 1120.55 919.58 1120.56 924.6 1120.58 929.62 1120.59 934.63 1120.6 939.65 1120.61 944.66 1120.63 949.68 1120.64 954.69 1120.66 959.71 1120.67 964.72 1120.69 969.74 1120.71 974.75 1120.72 979.77 1120.74 984.78 1120.76 989.8 1120.78 994.82 1120.8 999.83 1120.82 1004.85 1120.84 1009.86 1120.86 1014.88 1120.88 1019.89 1120.91 1024.91 1120.93 1029.92 1120.95 1034.94 1120.98 1039.95 1121 1044.97 1121.03 1049.98 1121.06 1055 1121.11 1060.02 1121.16 1065.03 1121.21 1070.05 1121.28 1075.06 1121.34 1080.08 1121.42 1085.09 1121.5 1090.11 1121.58 1095.12 1121.66 1100.14 1121.75 1105.15 1121.84 1110.17 1121.94 1115.18 1122.03 1120.2 1122.13 1125.22 1122.23 1130.23 1122.33 1135.25 1122.43 1140.26 1122.53 1145.28 1122.62 1150.29 1122.72 1155.31 1122.81 1160.32 1122.91 1165.34 1123 1170.35 1123.08 1175.37 1123.16 1180.38 1123.24 1185.4 1123.32 1190.42 1123.38 1195.43 1123.45 1200.45 1123.5 1205.46 1123.56 1210.48 1123.61 1215.49 1123.67 1220.51 1123.72 1225.52 1123.77 1230.54 1123.82 1235.55 1123.88 1240.57 1123.93 1245.58 1123.98 1250.6 1124.03 1255.62 1124.08 1260.63 1124.13 1265.65 1124.17 1270.66 1124.22 1275.68 1124.27 1280.69 1124.31 1285.71 1124.36 1290.72 1124.4 1295.74 1124.44 1300.75 1124.48 1305.77 1124.52 1310.78 1124.56 1315.8 1124.6 1320.82 1124.64 1325.83 1124.68 1330.85 1124.71 1335.86 1124.75 1340.88 1124.78 1345.89 1124.81 1350.91 1124.84 1355.92 1124.87 1360.94 1124.9 1365.95 1124.93 1370.97 1124.95 1375.98 1124.98 1381 1125" stroke="url(#g37)" stroke-width="4.1" fill="none" stroke-dasharray="3.74 0.3"/>
<path d="M403 1124.8 408.02 1124.81 413.03 1124.83 418.05 1124.84 423.06 1124.85 428.08 1124.86 433.09 1124.87 438.11 1124.89 443.12 1124.9 448.14 1124.91 453.15 1124.92 458.17 1124.93 463.18 1124.94 468.2 1124.95 473.22 1124.96 478.23 1124.97 483.25 1124.97 488.26 1124.98 493.28 1124.99 498.29 1124.99 503.31 1124.99 508.32 1125 513.34 1125 518.35 1125 523.37 1125 528.38 1125 533.4 1125 538.42 1125 543.43 1125 548.45 1125 553.46 1125 558.48 1125 563.49 1125 568.51 1125 573.52 1125 578.54 1125 583.55 1125 588.57 1125 593.58 1125 598.6 1125 603.62 1125 608.63 1125 613.65 1125 618.66 1125 623.68 1125 628.69 1125 633.71 1125 638.72 1125 643.74 1125 648.75 1125 653.77 1125 658.78 1125 663.8 1125.01 668.82 1125.01 673.83 1125.02 678.85 1125.03 683.86 1125.03 688.88 1125.05 693.89 1125.06 698.91 1125.07 703.92 1125.08 708.94 1125.1 713.95 1125.11 718.97 1125.13 723.98 1125.14 729 1125.16 734.02 1125.18 739.03 1125.19 744.05 1125.21 749.06 1125.23 754.08 1125.25 759.09 1125.26 764.11 1125.28 769.12 1125.3 774.14 1125.32 779.15 1125.33 784.17 1125.35 789.18 1125.37 794.2 1125.38 799.22 1125.4 804.23 1125.41 809.25 1125.43 814.26 1125.44 819.28 1125.45 824.29 1125.46 829.31 1125.47 834.32 1125.48 839.34 1125.49 844.35 1125.49 849.37 1125.5 854.38 1125.5 859.4 1125.5 864.42 1125.5 869.43 1125.5 874.45 1125.49 879.46 1125.48 884.48 1125.47 889.49 1125.46 894.51 1125.45 899.52 1125.44 904.54 1125.42 909.55 1125.41 914.57 1125.39 919.58 1125.37 924.6 1125.35 929.62 1125.33 934.63 1125.31 939.65 1125.29 944.66 1125.27 949.68 1125.25 954.69 1125.23 959.71 1125.21 964.72 1125.19 969.74 1125.17 974.75 1125.15 979.77 1125.13 984.78 1125.11 989.8 1125.09 994.82 1125.08 999.83 1125.06 1004.85 1125.05 1009.86 1125.04 1014.88 1125.03 1019.89 1125.02 1024.91 1125.01 1029.92 1125 1034.94 1125 1039.95 1125 1044.97 1125 1049.98 1125.02 1055 1125.04 1060.02 1125.07 1065.03 1125.11 1070.05 1125.15 1075.06 1125.2 1080.08 1125.26 1085.09 1125.32 1090.11 1125.38 1095.12 1125.45 1100.14 1125.53 1105.15 1125.6 1110.17 1125.68 1115.18 1125.77 1120.2 1125.85 1125.22 1125.93 1130.23 1126.02 1135.25 1126.11 1140.26 1126.19 1145.28 1126.28 1150.29 1126.36 1155.31 1126.44 1160.32 1126.52 1165.34 1126.59 1170.35 1126.67 1175.37 1126.74 1180.38 1126.8 1185.4 1126.86 1190.42 1126.91 1195.43 1126.96 1200.45 1127 1205.46 1127.04 1210.48 1127.08 1215.49 1127.12 1220.51 1127.16 1225.52 1127.19 1230.54 1127.23 1235.55 1127.27 1240.57 1127.3 1245.58 1127.34 1250.6 1127.38 1255.62 1127.41 1260.63 1127.44 1265.65 1127.48 1270.66 1127.51 1275.68 1127.54 1280.69 1127.57 1285.71 1127.6 1290.72 1127.63 1295.74 1127.66 1300.75 1127.69 1305.77 1127.72 1310.78 1127.75 1315.8 1127.77 1320.82 1127.8 1325.83 1127.82 1330.85 1127.84 1335.86 1127.86 1340.88 1127.88 1345.89 1127.9 1350.91 1127.92 1355.92 1127.94 1360.94 1127.95 1365.95 1127.97 1370.97 1127.98 1375.98 1127.99 1381 1128" stroke="url(#g38)" stroke-width="4.1" fill="none" stroke-dasharray="3.74 0.3"/>
<path d="M403 1133.5 408.02 1133.32 413.03 1133.13 418.05 1132.96 423.06 1132.78 428.08 1132.6 433.09 1132.43 438.11 1132.26 443.12 1132.09 448.14 1131.93 453.15 1131.77 458.17 1131.61 463.18 1131.46 468.2 1131.31 473.22 1131.16 478.23 1131.02 483.25 1130.88 488.26 1130.75 493.28 1130.62 498.29 1130.49 503.31 1130.37 508.32 1130.25 513.34 1130.14 518.35 1130.03 523.37 1129.93 528.38 1129.83 533.4 1129.72 538.42 1129.61 543.43 1129.51 548.45 1129.4 553.46 1129.29 558.48 1129.19 563.49 1129.08 568.51 1128.98 573.52 1128.88 578.54 1128.79 583.55 1128.69 588.57 1128.6 593.58 1128.52 598.6 1128.44 603.62 1128.36 608.63 1128.3 613.65 1128.23 618.66 1128.18 623.68 1128.13 628.69 1128.08 633.71 1128.05 638.72 1128.02 643.74 1128.01 648.75 1128 653.77 1128 658.78 1128 663.8 1128 668.82 1128 673.83 1128 678.85 1128 683.86 1128 688.88 1128 693.89 1128 698.91 1128 703.92 1128 708.94 1128 713.95 1128 718.97 1128 723.98 1128 729 1128 734.02 1128 739.03 1128 744.05 1128 749.06 1128 754.08 1128 759.09 1128 764.11 1128 769.12 1128 774.14 1128 779.15 1128 784.17 1128 789.18 1128 794.2 1128 799.22 1128 804.23 1128 809.25 1128 814.26 1128 819.28 1128 824.29 1128 829.31 1128 834.32 1128 839.34 1128 844.35 1128 849.37 1128 854.38 1128 859.4 1128 864.42 1128 869.43 1128.01 874.45 1128.01 879.46 1128.02 884.48 1128.03 889.49 1128.05 894.51 1128.06 899.52 1128.08 904.54 1128.1 909.55 1128.13 914.57 1128.15 919.58 1128.18 924.6 1128.21 929.62 1128.24 934.63 1128.27 939.65 1128.3 944.66 1128.33 949.68 1128.37 954.69 1128.4 959.71 1128.44 964.72 1128.47 969.74 1128.51 974.75 1128.54 979.77 1128.58 984.78 1128.62 989.8 1128.66 994.82 1128.69 999.83 1128.73 1004.85 1128.77 1009.86 1128.8 1014.88 1128.84 1019.89 1128.87 1024.91 1128.91 1029.92 1128.94 1034.94 1128.97 1039.95 1129 1044.97 1129.03 1049.98 1129.06 1055 1129.09 1060.02 1129.12 1065.03 1129.15 1070.05 1129.18 1075.06 1129.21 1080.08 1129.25 1085.09 1129.28 1090.11 1129.31 1095.12 1129.34 1100.14 1129.37 1105.15 1129.4 1110.17 1129.44 1115.18 1129.47 1120.2 1129.5 1125.22 1129.53 1130.23 1129.57 1135.25 1129.6 1140.26 1129.63 1145.28 1129.66 1150.29 1129.69 1155.31 1129.73 1160.32 1129.76 1165.34 1129.79 1170.35 1129.82 1175.37 1129.85 1180.38 1129.88 1185.4 1129.91 1190.42 1129.94 1195.43 1129.97 1200.45 1130 1205.46 1130.03 1210.48 1130.06 1215.49 1130.09 1220.51 1130.12 1225.52 1130.15 1230.54 1130.18 1235.55 1130.21 1240.57 1130.24 1245.58 1130.26 1250.6 1130.29 1255.62 1130.32 1260.63 1130.35 1265.65 1130.38 1270.66 1130.41 1275.68 1130.43 1280.69 1130.46 1285.71 1130.49 1290.72 1130.52 1295.74 1130.55 1300.75 1130.57 1305.77 1130.6 1310.78 1130.63 1315.8 1130.66 1320.82 1130.68 1325.83 1130.71 1330.85 1130.74 1335.86 1130.76 1340.88 1130.79 1345.89 1130.82 1350.91 1130.84 1355.92 1130.87 1360.94 1130.9 1365.95 1130.92 1370.97 1130.95 1375.98 1130.97 1381 1131" stroke="url(#g39)" stroke-width="4.1" fill="none" stroke-dasharray="3.74 0.3"/>
<path d="M403 1131 408.02 1131.02 413.03 1131.04 418.05 1131.07 423.06 1131.09 428.08 1131.11 433.09 1131.13 438.11 1131.16 443.12 1131.18 448.14 1131.2 453.15 1131.22 458.17 1131.24 463.18 1131.26 468.2 1131.28 473.22 1131.31 478.23 1131.33 483.25 1131.35 488.26 1131.37 493.28 1131.39 498.29 1131.41 503.31 1131.43 508.32 1131.45 513.34 1131.47 518.35 1131.49 523.37 1131.51 528.38 1131.54 533.4 1131.56 538.42 1131.58 543.43 1131.61 548.45 1131.63 553.46 1131.66 558.48 1131.68 563.49 1131.71 568.51 1131.73 573.52 1131.76 578.54 1131.78 583.55 1131.81 588.57 1131.83 593.58 1131.86 598.6 1131.88 603.62 1131.9 608.63 1131.92 613.65 1131.93 618.66 1131.95 623.68 1131.96 628.69 1131.98 633.71 1131.99 638.72 1131.99 643.74 1132 648.75 1132 653.77 1132 658.78 1132 663.8 1131.99 668.82 1131.99 673.83 1131.98 678.85 1131.97 683.86 1131.97 688.88 1131.95 693.89 1131.94 698.91 1131.93 703.92 1131.92 708.94 1131.9 713.95 1131.89 718.97 1131.87 723.98 1131.86 729 1131.84 734.02 1131.82 739.03 1131.81 744.05 1131.79 749.06 1131.77 754.08 1131.75 759.09 1131.74 764.11 1131.72 769.12 1131.7 774.14 1131.68 779.15 1131.67 784.17 1131.65 789.18 1131.63 794.2 1131.62 799.22 1131.6 804.23 1131.59 809.25 1131.57 814.26 1131.56 819.28 1131.55 824.29 1131.54 829.31 1131.53 834.32 1131.52 839.34 1131.51 844.35 1131.51 849.37 1131.5 854.38 1131.5 859.4 1131.5 864.42 1131.5 869.43 1131.5 874.45 1131.5 879.46 1131.51 884.48 1131.51 889.49 1131.52 894.51 1131.52 899.52 1131.53 904.54 1131.54 909.55 1131.55 914.57 1131.56 919.58 1131.57 924.6 1131.58 929.62 1131.59 934.63 1131.61 939.65 1131.62 944.66 1131.64 949.68 1131.65 954.69 1131.67 959.71 1131.68 964.72 1131.7 969.74 1131.72 974.75 1131.74 979.77 1131.75 984.78 1131.77 989.8 1131.79 994.82 1131.81 999.83 1131.83 1004.85 1131.85 1009.86 1131.87 1014.88 1131.89 1019.89 1131.91 1024.91 1131.94 1029.92 1131.96 1034.94 1131.98 1039.95 1132 1044.97 1132.02 1049.98 1132.05 1055 1132.08 1060.02 1132.11 1065.03 1132.15 1070.05 1132.18 1075.06 1132.22 1080.08 1132.27 1085.09 1132.31 1090.11 1132.36 1095.12 1132.4 1100.14 1132.45 1105.15 1132.5 1110.17 1132.56 1115.18 1132.61 1120.2 1132.66 1125.22 1132.72 1130.23 1132.77 1135.25 1132.83 1140.26 1132.88 1145.28 1132.94 1150.29 1132.99 1155.31 1133.05 1160.32 1133.1 1165.34 1133.16 1170.35 1133.21 1175.37 1133.26 1180.38 1133.31 1185.4 1133.36 1190.42 1133.41 1195.43 1133.46 1200.45 1133.5 1205.46 1133.55 1210.48 1133.59 1215.49 1133.64 1220.51 1133.68 1225.52 1133.72 1230.54 1133.77 1235.55 1133.81 1240.57 1133.85 1245.58 1133.9 1250.6 1133.94 1255.62 1133.98 1260.63 1134.02 1265.65 1134.07 1270.66 1134.11 1275.68 1134.15 1280.69 1134.19 1285.71 1134.24 1290.72 1134.28 1295.74 1134.32 1300.75 1134.36 1305.77 1134.4 1310.78 1134.44 1315.8 1134.48 1320.82 1134.52 1325.83 1134.56 1330.85 1134.6 1335.86 1134.65 1340.88 1134.69 1345.89 1134.73 1350.91 1134.76 1355.92 1134.8 1360.94 1134.84 1365.95 1134.88 1370.97 1134.92 1375.98 1134.96 1381 1135" stroke="url(#g40)" stroke-width="4.1" fill="none" stroke-dasharray="3.74 0.3"/>
<path d="M403 1136 408.02 1136 413.03 1136 418.05 1136 423.06 1136 428.08 1136 433.09 1136 438.11 1136 443.12 1136 448.14 1136 453.15 1136 458.17 1136 463.18 1136 468.2 1136 473.22 1136 478.23 1136 483.25 1136 488.26 1136 493.28 1136 498.29 1136 503.31 1136 508.32 1136 513.34 1136 518.35 1136 523.37 1136 528.38 1136 533.4 1136 538.42 1136 543.43 1136 548.45 1136 553.46 1136 558.48 1136 563.49 1136 568.51 1136 573.52 1136 578.54 1136 583.55 1136 588.57 1136 593.58 1136 598.6 1136 603.62 1136 608.63 1136 613.65 1136 618.66 1136 623.68 1136 628.69 1136 633.71 1136 638.72 1136 643.74 1136 648.75 1136 653.77 1136 658.78 1135.99 663.8 1135.99 668.82 1135.98 673.83 1135.96 678.85 1135.95 683.86 1135.93 688.88 1135.91 693.89 1135.89 698.91 1135.86 703.92 1135.84 708.94 1135.81 713.95 1135.78 718.97 1135.75 723.98 1135.72 729 1135.68 734.02 1135.65 739.03 1135.61 744.05 1135.58 749.06 1135.54 754.08 1135.51 759.09 1135.47 764.11 1135.44 769.12 1135.4 774.14 1135.36 779.15 1135.33 784.17 1135.3 789.18 1135.26 794.2 1135.23 799.22 1135.2 804.23 1135.17 809.25 1135.15 814.26 1135.12 819.28 1135.1 824.29 1135.08 829.31 1135.06 834.32 1135.04 839.34 1135.03 844.35 1135.02 849.37 1135.01 854.38 1135 859.4 1135 864.42 1135 869.43 1135 874.45 1135 879.46 1135.01 884.48 1135.01 889.49 1135.02 894.51 1135.02 899.52 1135.03 904.54 1135.04 909.55 1135.05 914.57 1135.06 919.58 1135.07 924.6 1135.08 929.62 1135.09 934.63 1135.11 939.65 1135.12 944.66 1135.14 949.68 1135.15 954.69 1135.17 959.71 1135.18 964.72 1135.2 969.74 1135.22 974.75 1135.24 979.77 1135.25 984.78 1135.27 989.8 1135.29 994.82 1135.31 999.83 1135.33 1004.85 1135.35 1009.86 1135.37 1014.88 1135.39 1019.89 1135.41 1024.91 1135.44 1029.92 1135.46 1034.94 1135.48 1039.95 1135.5 1044.97 1135.52 1049.98 1135.55 1055 1135.58 1060.02 1135.61 1065.03 1135.65 1070.05 1135.68 1075.06 1135.72 1080.08 1135.77 1085.09 1135.81 1090.11 1135.86 1095.12 1135.9 1100.14 1135.95 1105.15 1136 1110.17 1136.06 1115.18 1136.11 1120.2 1136.16 1125.22 1136.22 1130.23 1136.27 1135.25 1136.33 1140.26 1136.38 1145.28 1136.44 1150.29 1136.49 1155.31 1136.55 1160.32 1136.6 1165.34 1136.66 1170.35 1136.71 1175.37 1136.76 1180.38 1136.81 1185.4 1136.86 1190.42 1136.91 1195.43 1136.96 1200.45 1137 1205.46 1137.05 1210.48 1137.09 1215.49 1137.14 1220.51 1137.18 1225.52 1137.22 1230.54 1137.27 1235.55 1137.31 1240.57 1137.35 1245.58 1137.4 1250.6 1137.44 1255.62 1137.48 1260.63 1137.52 1265.65 1137.57 1270.66 1137.61 1275.68 1137.65 1280.69 1137.69 1285.71 1137.74 1290.72 1137.78 1295.74 1137.82 1300.75 1137.86 1305.77 1137.9 1310.78 1137.94 1315.8 1137.98 1320.82 1138.02 1325.83 1138.06 1330.85 1138.1 1335.86 1138.15 1340.88 1138.19 1345.89 1138.23 1350.91 1138.26 1355.92 1138.3 1360.94 1138.34 1365.95 1138.38 1370.97 1138.42 1375.98 1138.46 1381 1138.5" stroke="url(#g41)" stroke-width="4.1" fill="none" stroke-dasharray="3.74 0.3"/>
<path d="M403 1141.5 408.02 1141.45 413.03 1141.39 418.05 1141.34 423.06 1141.29 428.08 1141.24 433.09 1141.19 438.11 1141.14 443.12 1141.09 448.14 1141.04 453.15 1141 458.17 1140.95 463.18 1140.91 468.2 1140.86 473.22 1140.82 478.23 1140.78 483.25 1140.74 488.26 1140.7 493.28 1140.67 498.29 1140.63 503.31 1140.6 508.32 1140.57 513.34 1140.54 518.35 1140.51 523.37 1140.48 528.38 1140.46 533.4 1140.43 538.42 1140.41 543.43 1140.39 548.45 1140.37 553.46 1140.35 558.48 1140.34 563.49 1140.32 568.51 1140.3 573.52 1140.29 578.54 1140.27 583.55 1140.26 588.57 1140.24 593.58 1140.23 598.6 1140.21 603.62 1140.2 608.63 1140.18 613.65 1140.16 618.66 1140.14 623.68 1140.12 628.69 1140.1 633.71 1140.08 638.72 1140.06 643.74 1140.03 648.75 1140.01 653.77 1139.98 658.78 1139.94 663.8 1139.9 668.82 1139.86 673.83 1139.81 678.85 1139.75 683.86 1139.69 688.88 1139.63 693.89 1139.56 698.91 1139.5 703.92 1139.42 708.94 1139.35 713.95 1139.27 718.97 1139.19 723.98 1139.11 729 1139.03 734.02 1138.95 739.03 1138.87 744.05 1138.78 749.06 1138.7 754.08 1138.62 759.09 1138.54 764.11 1138.45 769.12 1138.37 774.14 1138.3 779.15 1138.22 784.17 1138.14 789.18 1138.07 794.2 1138 799.22 1137.94 804.23 1137.87 809.25 1137.82 814.26 1137.76 819.28 1137.71 824.29 1137.66 829.31 1137.62 834.32 1137.59 839.34 1137.56 844.35 1137.53 849.37 1137.52 854.38 1137.5 859.4 1137.5 864.42 1137.5 869.43 1137.5 874.45 1137.5 879.46 1137.51 884.48 1137.51 889.49 1137.52 894.51 1137.52 899.52 1137.53 904.54 1137.54 909.55 1137.55 914.57 1137.55 919.58 1137.56 924.6 1137.58 929.62 1137.59 934.63 1137.6 939.65 1137.61 944.66 1137.63 949.68 1137.64 954.69 1137.66 959.71 1137.67 964.72 1137.69 969.74 1137.71 974.75 1137.72 979.77 1137.74 984.78 1137.76 989.8 1137.78 994.82 1137.8 999.83 1137.82 1004.85 1137.84 1009.86 1137.86 1014.88 1137.88 1019.89 1137.91 1024.91 1137.93 1029.92 1137.95 1034.94 1137.98 1039.95 1138 1044.97 1138.03 1049.98 1138.07 1055 1138.11 1060.02 1138.17 1065.03 1138.23 1070.05 1138.3 1075.06 1138.38 1080.08 1138.46 1085.09 1138.55 1090.11 1138.64 1095.12 1138.74 1100.14 1138.84 1105.15 1138.94 1110.17 1139.04 1115.18 1139.15 1120.2 1139.25 1125.22 1139.36 1130.23 1139.46 1135.25 1139.57 1140.26 1139.67 1145.28 1139.77 1150.29 1139.86 1155.31 1139.96 1160.32 1140.04 1165.34 1140.13 1170.35 1140.2 1175.37 1140.27 1180.38 1140.33 1185.4 1140.39 1190.42 1140.44 1195.43 1140.47 1200.45 1140.5 1205.46 1140.53 1210.48 1140.55 1215.49 1140.57 1220.51 1140.59 1225.52 1140.62 1230.54 1140.64 1235.55 1140.66 1240.57 1140.68 1245.58 1140.7 1250.6 1140.72 1255.62 1140.74 1260.63 1140.76 1265.65 1140.78 1270.66 1140.79 1275.68 1140.81 1280.69 1140.83 1285.71 1140.84 1290.72 1140.86 1295.74 1140.87 1300.75 1140.89 1305.77 1140.9 1310.78 1140.91 1315.8 1140.92 1320.82 1140.93 1325.83 1140.94 1330.85 1140.95 1335.86 1140.96 1340.88 1140.97 1345.89 1140.98 1350.91 1140.98 1355.92 1140.99 1360.94 1140.99 1365.95 1141 1370.97 1141 1375.98 1141 1381 1141" stroke="url(#g42)" stroke-width="4.1" fill="none" stroke-dasharray="3.74 0.3"/>
<path d="M403 1141.5 408.02 1141.71 413.03 1141.92 418.05 1142.13 423.06 1142.34 428.08 1142.54 433.09 1142.74 438.11 1142.93 443.12 1143.12 448.14 1143.31 453.15 1143.49 458.17 1143.66 463.18 1143.82 468.2 1143.98 473.22 1144.13 478.23 1144.27 483.25 1144.4 488.26 1144.52 493.28 1144.62 498.29 1144.72 503.31 1144.81 508.32 1144.88 513.34 1144.94 518.35 1144.99 523.37 1145.02 528.38 1145.06 533.4 1145.09 538.42 1145.12 543.43 1145.15 548.45 1145.18 553.46 1145.21 558.48 1145.24 563.49 1145.26 568.51 1145.29 573.52 1145.31 578.54 1145.34 583.55 1145.36 588.57 1145.38 593.58 1145.39 598.6 1145.41 603.62 1145.43 608.63 1145.44 613.65 1145.46 618.66 1145.47 623.68 1145.48 628.69 1145.48 633.71 1145.49 638.72 1145.5 643.74 1145.5 648.75 1145.5 653.77 1145.5 658.78 1145.48 663.8 1145.46 668.82 1145.43 673.83 1145.39 678.85 1145.35 683.86 1145.29 688.88 1145.23 693.89 1145.16 698.91 1145.09 703.92 1145.01 708.94 1144.92 713.95 1144.83 718.97 1144.74 723.98 1144.65 729 1144.55 734.02 1144.44 739.03 1144.34 744.05 1144.23 749.06 1144.13 754.08 1144.02 759.09 1143.91 764.11 1143.81 769.12 1143.7 774.14 1143.59 779.15 1143.49 784.17 1143.39 789.18 1143.29 794.2 1143.2 799.22 1143.11 804.23 1143.02 809.25 1142.94 814.26 1142.86 819.28 1142.79 824.29 1142.73 829.31 1142.67 834.32 1142.62 839.34 1142.58 844.35 1142.55 849.37 1142.52 854.38 1142.51 859.4 1142.5 864.42 1142.5 869.43 1142.5 874.45 1142.5 879.46 1142.5 884.48 1142.5 889.49 1142.5 894.51 1142.5 899.52 1142.5 904.54 1142.5 909.55 1142.5 914.57 1142.5 919.58 1142.5 924.6 1142.5 929.62 1142.5 934.63 1142.5 939.65 1142.5 944.66 1142.5 949.68 1142.5 954.69 1142.5 959.71 1142.5 964.72 1142.5 969.74 1142.5 974.75 1142.5 979.77 1142.5 984.78 1142.5 989.8 1142.5 994.82 1142.5 999.83 1142.5 1004.85 1142.5 1009.86 1142.5 1014.88 1142.5 1019.89 1142.5 1024.91 1142.5 1029.92 1142.5 1034.94 1142.5 1039.95 1142.5 1044.97 1142.5 1049.98 1142.51 1055 1142.52 1060.02 1142.54 1065.03 1142.57 1070.05 1142.59 1075.06 1142.62 1080.08 1142.66 1085.09 1142.69 1090.11 1142.73 1095.12 1142.77 1100.14 1142.82 1105.15 1142.86 1110.17 1142.91 1115.18 1142.95 1120.2 1143 1125.22 1143.05 1130.23 1143.1 1135.25 1143.14 1140.26 1143.19 1145.28 1143.23 1150.29 1143.27 1155.31 1143.31 1160.32 1143.35 1165.34 1143.38 1170.35 1143.41 1175.37 1143.44 1180.38 1143.46 1185.4 1143.48 1190.42 1143.49 1195.43 1143.5 1200.45 1143.5 1205.46 1143.5 1210.48 1143.5 1215.49 1143.5 1220.51 1143.5 1225.52 1143.5 1230.54 1143.49 1235.55 1143.49 1240.57 1143.49 1245.58 1143.49 1250.6 1143.48 1255.62 1143.48 1260.63 1143.47 1265.65 1143.46 1270.66 1143.46 1275.68 1143.45 1280.69 1143.44 1285.71 1143.43 1290.72 1143.42 1295.74 1143.41 1300.75 1143.4 1305.77 1143.38 1310.78 1143.37 1315.8 1143.35 1320.82 1143.33 1325.83 1143.31 1330.85 1143.29 1335.86 1143.27 1340.88 1143.25 1345.89 1143.22 1350.91 1143.19 1355.92 1143.17 1360.94 1143.14 1365.95 1143.11 1370.97 1143.07 1375.98 1143.04 1381 1143" stroke="url(#g43)" stroke-width="4.1" fill="none" stroke-dasharray="3.74 0.3"/>
<path d="M403 1141.5 408.02 1141.86 413.03 1142.21 418.05 1142.56 423.06 1142.9 428.08 1143.24 433.09 1143.57 438.11 1143.9 443.12 1144.22 448.14 1144.53 453.15 1144.83 458.17 1145.12 463.18 1145.41 468.2 1145.68 473.22 1145.95 478.23 1146.2 483.25 1146.44 488.26 1146.67 493.28 1146.89 498.29 1147.09 503.31 1147.28 508.32 1147.45 513.34 1147.61 518.35 1147.76 523.37 1147.89 528.38 1148.02 533.4 1148.15 538.42 1148.27 543.43 1148.4 548.45 1148.52 553.46 1148.64 558.48 1148.76 563.49 1148.87 568.51 1148.99 573.52 1149.09 578.54 1149.2 583.55 1149.29 588.57 1149.39 593.58 1149.48 598.6 1149.56 603.62 1149.64 608.63 1149.71 613.65 1149.77 618.66 1149.83 623.68 1149.88 628.69 1149.92 633.71 1149.95 638.72 1149.98 643.74 1149.99 648.75 1150 653.77 1150 658.78 1150 663.8 1149.99 668.82 1149.98 673.83 1149.98 678.85 1149.96 683.86 1149.95 688.88 1149.94 693.89 1149.92 698.91 1149.9 703.92 1149.89 708.94 1149.87 713.95 1149.84 718.97 1149.82 723.98 1149.8 729 1149.78 734.02 1149.75 739.03 1149.73 744.05 1149.7 749.06 1149.68 754.08 1149.65 759.09 1149.63 764.11 1149.6 769.12 1149.58 774.14 1149.56 779.15 1149.53 784.17 1149.51 789.18 1149.49 794.2 1149.46 799.22 1149.44 804.23 1149.42 809.25 1149.4 814.26 1149.39 819.28 1149.37 824.29 1149.35 829.31 1149.34 834.32 1149.33 839.34 1149.32 844.35 1149.31 849.37 1149.31 854.38 1149.3 859.4 1149.3 864.42 1149.3 869.43 1149.3 874.45 1149.3 879.46 1149.31 884.48 1149.31 889.49 1149.31 894.51 1149.32 899.52 1149.32 904.54 1149.33 909.55 1149.34 914.57 1149.34 919.58 1149.35 924.6 1149.36 929.62 1149.37 934.63 1149.37 939.65 1149.38 944.66 1149.39 949.68 1149.4 954.69 1149.41 959.71 1149.42 964.72 1149.42 969.74 1149.43 974.75 1149.44 979.77 1149.45 984.78 1149.46 989.8 1149.46 994.82 1149.47 999.83 1149.47 1004.85 1149.48 1009.86 1149.49 1014.88 1149.49 1019.89 1149.49 1024.91 1149.5 1029.92 1149.5 1034.94 1149.5 1039.95 1149.5 1044.97 1149.5 1049.98 1149.48 1055 1149.46 1060.02 1149.43 1065.03 1149.39 1070.05 1149.34 1075.06 1149.29 1080.08 1149.23 1085.09 1149.16 1090.11 1149.09 1095.12 1149.01 1100.14 1148.93 1105.15 1148.85 1110.17 1148.76 1115.18 1148.66 1120.2 1148.57 1125.22 1148.47 1130.23 1148.37 1135.25 1148.27 1140.26 1148.16 1145.28 1148.06 1150.29 1147.95 1155.31 1147.85 1160.32 1147.75 1165.34 1147.64 1170.35 1147.54 1175.37 1147.44 1180.38 1147.35 1185.4 1147.25 1190.42 1147.16 1195.43 1147.08 1200.45 1146.99 1205.46 1146.91 1210.48 1146.83 1215.49 1146.75 1220.51 1146.67 1225.52 1146.59 1230.54 1146.51 1235.55 1146.42 1240.57 1146.34 1245.58 1146.26 1250.6 1146.18 1255.62 1146.1 1260.63 1146.02 1265.65 1145.93 1270.66 1145.85 1275.68 1145.77 1280.69 1145.68 1285.71 1145.6 1290.72 1145.52 1295.74 1145.44 1300.75 1145.35 1305.77 1145.27 1310.78 1145.19 1315.8 1145.1 1320.82 1145.02 1325.83 1144.93 1330.85 1144.85 1335.86 1144.77 1340.88 1144.68 1345.89 1144.6 1350.91 1144.51 1355.92 1144.43 1360.94 1144.34 1365.95 1144.26 1370.97 1144.17 1375.98 1144.09 1381 1144" stroke="url(#g44)" stroke-width="4.1" fill="none" stroke-dasharray="3.74 0.3"/>
<path d="M1381 1062 1386 1062.05 1391 1062.11 1396 1062.16 1401 1062.21 1406 1062.27 1411 1062.32 1416 1062.37 1421 1062.42 1426 1062.47 1431 1062.51 1436 1062.56 1441 1062.61 1446 1062.65 1451 1062.69 1456 1062.73 1461 1062.77 1466 1062.8 1471 1062.83 1476 1062.86 1481 1062.89 1486 1062.92 1491 1062.94 1496 1062.96 1501 1062.97 1506 1062.99 1511 1062.99 1516 1063 1521 1063 1526 1063 1531 1063 1536 1063 1541 1063 1546 1063 1551 1063 1556 1063 1561 1063 1566 1063 1571 1063 1576 1063 1581 1063 1586 1063 1591 1063 1596 1063 1601 1063 1606 1063 1611 1063 1616 1063 1621 1063 1626 1063 1631 1063 1636 1063 1641 1063 1646 1063 1651 1063 1656 1063 1661 1063 1666 1063" stroke="url(#g45)" stroke-width="4.1" fill="none" stroke-dasharray="3.74 0.3"/>
<path d="M1381 1066 1386 1066 1391 1066 1396 1066 1401 1066 1406 1066 1411 1066 1416 1066 1421 1066 1426 1066 1431 1066 1436 1066 1441 1066 1446 1066 1451 1066 1456 1066 1461 1066 1466 1066 1471 1066 1476 1066 1481 1066 1486 1066 1491 1066 1496 1066 1501 1066 1506 1066 1511 1066 1516 1066 1521 1066 1526 1066 1531 1066.01 1536 1066.02 1541 1066.03 1546 1066.04 1551 1066.06 1556 1066.08 1561 1066.11 1566 1066.13 1571 1066.16 1576 1066.19 1581 1066.22 1586 1066.26 1591 1066.3 1596 1066.33 1601 1066.37 1606 1066.42 1611 1066.46 1616 1066.5 1621 1066.55 1626 1066.6 1631 1066.65 1636 1066.69 1641 1066.74 1646 1066.79 1651 1066.85 1656 1066.9 1661 1066.95 1666 1067" stroke="url(#g46)" stroke-width="4.1" fill="none" stroke-dasharray="3.74 0.3"/>
<path d="M1381 1070 1386 1070.04 1391 1070.09 1396 1070.13 1401 1070.18 1406 1070.24 1411 1070.29 1416 1070.35 1421 1070.41 1426 1070.47 1431 1070.54 1436 1070.61 1441 1070.68 1446 1070.75 1451 1070.82 1456 1070.9 1461 1070.97 1466 1071.05 1471 1071.13 1476 1071.22 1481 1071.3 1486 1071.38 1491 1071.47 1496 1071.56 1501 1071.65 1506 1071.74 1511 1071.83 1516 1071.93 1521 1072.02 1526 1072.12 1531 1072.22 1536 1072.32 1541 1072.43 1546 1072.54 1551 1072.65 1556 1072.77 1561 1072.89 1566 1073.01 1571 1073.13 1576 1073.26 1581 1073.4 1586 1073.53 1591 1073.67 1596 1073.81 1601 1073.95 1606 1074.09 1611 1074.24 1616 1074.39 1621 1074.54 1626 1074.7 1631 1074.85 1636 1075.01 1641 1075.17 1646 1075.33 1651 1075.5 1656 1075.66 1661 1075.83 1666 1076" stroke="url(#g47)" stroke-width="4.1" fill="none" stroke-dasharray="3.74 0.3"/>
<path d="M1381 1077.5 1386 1077.5 1391 1077.5 1396 1077.51 1401 1077.51 1406 1077.52 1411 1077.53 1416 1077.54 1421 1077.55 1426 1077.57 1431 1077.58 1436 1077.6 1441 1077.62 1446 1077.63 1451 1077.65 1456 1077.67 1461 1077.7 1466 1077.72 1471 1077.74 1476 1077.76 1481 1077.79 1486 1077.81 1491 1077.84 1496 1077.87 1501 1077.89 1506 1077.92 1511 1077.95 1516 1077.98 1521 1078.01 1526 1078.04 1531 1078.07 1536 1078.11 1541 1078.15 1546 1078.2 1551 1078.24 1556 1078.29 1561 1078.35 1566 1078.41 1571 1078.47 1576 1078.53 1581 1078.59 1586 1078.66 1591 1078.73 1596 1078.8 1601 1078.88 1606 1078.95 1611 1079.03 1616 1079.11 1621 1079.2 1626 1079.28 1631 1079.36 1636 1079.45 1641 1079.54 1646 1079.63 1651 1079.72 1656 1079.81 1661 1079.91 1666 1080" stroke="url(#g48)" stroke-width="4.1" fill="none" stroke-dasharray="3.74 0.3"/>
<path d="M1381 1083.5 1386 1083.52 1391 1083.54 1396 1083.56 1401 1083.59 1406 1083.62 1411 1083.65 1416 1083.69 1421 1083.73 1426 1083.77 1431 1083.82 1436 1083.87 1441 1083.92 1446 1083.98 1451 1084.03 1456 1084.09 1461 1084.16 1466 1084.22 1471 1084.29 1476 1084.35 1481 1084.42 1486 1084.49 1491 1084.56 1496 1084.64 1501 1084.71 1506 1084.79 1511 1084.86 1516 1084.94 1521 1085.02 1526 1085.1 1531 1085.18 1536 1085.27 1541 1085.37 1546 1085.47 1551 1085.58 1556 1085.68 1561 1085.8 1566 1085.92 1571 1086.04 1576 1086.17 1581 1086.3 1586 1086.43 1591 1086.57 1596 1086.71 1601 1086.86 1606 1087.01 1611 1087.16 1616 1087.31 1621 1087.47 1626 1087.63 1631 1087.79 1636 1087.96 1641 1088.13 1646 1088.3 1651 1088.47 1656 1088.64 1661 1088.82 1666 1089" stroke="url(#g49)" stroke-width="4.1" fill="none" stroke-dasharray="3.74 0.3"/>
<path d="M1381 1089 1386 1089.01 1391 1089.01 1396 1089.03 1401 1089.04 1406 1089.06 1411 1089.08 1416 1089.1 1421 1089.13 1426 1089.16 1431 1089.19 1436 1089.22 1441 1089.26 1446 1089.29 1451 1089.33 1456 1089.37 1461 1089.41 1466 1089.46 1471 1089.5 1476 1089.55 1481 1089.6 1486 1089.65 1491 1089.7 1496 1089.75 1501 1089.8 1506 1089.85 1511 1089.9 1516 1089.96 1521 1090.01 1526 1090.07 1531 1090.13 1536 1090.19 1541 1090.26 1546 1090.33 1551 1090.41 1556 1090.49 1561 1090.58 1566 1090.66 1571 1090.75 1576 1090.85 1581 1090.95 1586 1091.05 1591 1091.15 1596 1091.26 1601 1091.37 1606 1091.48 1611 1091.6 1616 1091.71 1621 1091.83 1626 1091.95 1631 1092.08 1636 1092.21 1641 1092.33 1646 1092.46 1651 1092.6 1656 1092.73 1661 1092.86 1666 1093" stroke="url(#g50)" stroke-width="4.1" fill="none" stroke-dasharray="3.74 0.3"/>
<path d="M1381 1094 1386 1094.09 1391 1094.18 1396 1094.27 1401 1094.35 1406 1094.44 1411 1094.53 1416 1094.61 1421 1094.69 1426 1094.77 1431 1094.85 1436 1094.93 1441 1095.01 1446 1095.09 1451 1095.16 1456 1095.23 1461 1095.3 1466 1095.37 1471 1095.44 1476 1095.51 1481 1095.57 1486 1095.63 1491 1095.69 1496 1095.75 1501 1095.81 1506 1095.86 1511 1095.91 1516 1095.96 1521 1096.01 1526 1096.06 1531 1096.1 1536 1096.15 1541 1096.19 1546 1096.24 1551 1096.28 1556 1096.32 1561 1096.36 1566 1096.41 1571 1096.45 1576 1096.49 1581 1096.53 1586 1096.56 1591 1096.6 1596 1096.64 1601 1096.67 1606 1096.71 1611 1096.74 1616 1096.77 1621 1096.8 1626 1096.83 1631 1096.85 1636 1096.88 1641 1096.9 1646 1096.93 1651 1096.95 1656 1096.97 1661 1096.98 1666 1097" stroke="url(#g51)" stroke-width="4.1" fill="none" stroke-dasharray="3.74 0.3"/>
<path d="M1381 1098 1386 1098.07 1391 1098.15 1396 1098.22 1401 1098.29 1406 1098.37 1411 1098.44 1416 1098.51 1421 1098.59 1426 1098.66 1431 1098.73 1436 1098.8 1441 1098.87 1446 1098.95 1451 1099.02 1456 1099.09 1461 1099.16 1466 1099.23 1471 1099.31 1476 1099.38 1481 1099.45 1486 1099.52 1491 1099.59 1496 1099.66 1501 1099.73 1506 1099.8 1511 1099.87 1516 1099.94 1521 1100.01 1526 1100.08 1531 1100.15 1536 1100.22 1541 1100.29 1546 1100.36 1551 1100.43 1556 1100.5 1561 1100.57 1566 1100.64 1571 1100.71 1576 1100.78 1581 1100.85 1586 1100.92 1591 1100.99 1596 1101.05 1601 1101.12 1606 1101.19 1611 1101.26 1616 1101.33 1621 1101.39 1626 1101.46 1631 1101.53 1636 1101.6 1641 1101.66 1646 1101.73 1651 1101.8 1656 1101.87 1661 1101.93 1666 1102" stroke="url(#g52)" stroke-width="4.1" fill="none" stroke-dasharray="3.74 0.3"/>
<path d="M1381 1102 1386 1102.02 1391 1102.04 1396 1102.07 1401 1102.09 1406 1102.12 1411 1102.15 1416 1102.18 1421 1102.21 1426 1102.24 1431 1102.27 1436 1102.3 1441 1102.34 1446 1102.37 1451 1102.41 1456 1102.45 1461 1102.49 1466 1102.53 1471 1102.57 1476 1102.61 1481 1102.65 1486 1102.69 1491 1102.74 1496 1102.78 1501 1102.82 1506 1102.87 1511 1102.92 1516 1102.96 1521 1103.01 1526 1103.06 1531 1103.11 1536 1103.16 1541 1103.21 1546 1103.27 1551 1103.32 1556 1103.38 1561 1103.44 1566 1103.5 1571 1103.57 1576 1103.63 1581 1103.7 1586 1103.76 1591 1103.83 1596 1103.9 1601 1103.97 1606 1104.05 1611 1104.12 1616 1104.19 1621 1104.27 1626 1104.35 1631 1104.43 1636 1104.5 1641 1104.59 1646 1104.67 1651 1104.75 1656 1104.83 1661 1104.92 1666 1105" stroke="url(#g53)" stroke-width="4.1" fill="none" stroke-dasharray="3.74 0.3"/>
<path d="M1381 1106 1386 1106.04 1391 1106.07 1396 1106.11 1401 1106.15 1406 1106.18 1411 1106.22 1416 1106.26 1421 1106.29 1426 1106.33 1431 1106.37 1436 1106.4 1441 1106.44 1446 1106.47 1451 1106.51 1456 1106.55 1461 1106.58 1466 1106.62 1471 1106.65 1476 1106.69 1481 1106.72 1486 1106.76 1491 1106.8 1496 1106.83 1501 1106.87 1506 1106.9 1511 1106.94 1516 1106.97 1521 1107.01 1526 1107.04 1531 1107.08 1536 1107.11 1541 1107.15 1546 1107.18 1551 1107.22 1556 1107.25 1561 1107.29 1566 1107.32 1571 1107.36 1576 1107.39 1581 1107.42 1586 1107.46 1591 1107.49 1596 1107.53 1601 1107.56 1606 1107.6 1611 1107.63 1616 1107.66 1621 1107.7 1626 1107.73 1631 1107.76 1636 1107.8 1641 1107.83 1646 1107.87 1651 1107.9 1656 1107.93 1661 1107.97 1666 1108" stroke="url(#g54)" stroke-width="4.1" fill="none" stroke-dasharray="3.74 0.3"/>
<path d="M1381 1110 1386 1110.04 1391 1110.07 1396 1110.11 1401 1110.15 1406 1110.18 1411 1110.22 1416 1110.26 1421 1110.29 1426 1110.33 1431 1110.37 1436 1110.4 1441 1110.44 1446 1110.47 1451 1110.51 1456 1110.55 1461 1110.58 1466 1110.62 1471 1110.65 1476 1110.69 1481 1110.72 1486 1110.76 1491 1110.8 1496 1110.83 1501 1110.87 1506 1110.9 1511 1110.94 1516 1110.97 1521 1111.01 1526 1111.04 1531 1111.08 1536 1111.11 1541 1111.15 1546 1111.18 1551 1111.22 1556 1111.25 1561 1111.29 1566 1111.32 1571 1111.36 1576 1111.39 1581 1111.42 1586 1111.46 1591 1111.49 1596 1111.53 1601 1111.56 1606 1111.6 1611 1111.63 1616 1111.66 1621 1111.7 1626 1111.73 1631 1111.76 1636 1111.8 1641 1111.83 1646 1111.87 1651 1111.9 1656 1111.93 1661 1111.97 1666 1112" stroke="url(#g55)" stroke-width="4.1" fill="none" stroke-dasharray="3.74 0.3"/>
<path d="M1381 1114 1386 1114.05 1391 1114.11 1396 1114.16 1401 1114.21 1406 1114.27 1411 1114.32 1416 1114.37 1421 1114.42 1426 1114.47 1431 1114.51 1436 1114.56 1441 1114.61 1446 1114.65 1451 1114.69 1456 1114.73 1461 1114.77 1466 1114.8 1471 1114.83 1476 1114.86 1481 1114.89 1486 1114.92 1491 1114.94 1496 1114.96 1501 1114.97 1506 1114.99 1511 1114.99 1516 1115 1521 1115 1526 1115 1531 1115 1536 1115 1541 1115 1546 1115 1551 1115 1556 1115 1561 1115 1566 1115 1571 1115 1576 1115 1581 1115 1586 1115 1591 1115 1596 1115 1601 1115 1606 1115 1611 1115 1616 1115 1621 1115 1626 1115 1631 1115 1636 1115 1641 1115 1646 1115 1651 1115 1656 1115 1661 1115 1666 1115" stroke="url(#g56)" stroke-width="4.1" fill="none" stroke-dasharray="3.74 0.3"/>
<path d="M1381 1117 1386 1117.06 1391 1117.12 1396 1117.18 1401 1117.24 1406 1117.3 1411 1117.36 1416 1117.43 1421 1117.49 1426 1117.56 1431 1117.63 1436 1117.7 1441 1117.77 1446 1117.84 1451 1117.91 1456 1117.98 1461 1118.06 1466 1118.13 1471 1118.21 1476 1118.29 1481 1118.36 1486 1118.44 1491 1118.52 1496 1118.6 1501 1118.68 1506 1118.77 1511 1118.85 1516 1118.93 1521 1119.02 1526 1119.1 1531 1119.19 1536 1119.28 1541 1119.37 1546 1119.46 1551 1119.55 1556 1119.64 1561 1119.74 1566 1119.84 1571 1119.93 1576 1120.03 1581 1120.13 1586 1120.23 1591 1120.33 1596 1120.44 1601 1120.54 1606 1120.65 1611 1120.76 1616 1120.86 1621 1120.97 1626 1121.08 1631 1121.19 1636 1121.31 1641 1121.42 1646 1121.53 1651 1121.65 1656 1121.76 1661 1121.88 1666 1122" stroke="url(#g57)" stroke-width="4.1" fill="none" stroke-dasharray="3.74 0.3"/>
<path d="M1381 1121 1386 1121.06 1391 1121.12 1396 1121.18 1401 1121.24 1406 1121.3 1411 1121.36 1416 1121.43 1421 1121.49 1426 1121.56 1431 1121.63 1436 1121.7 1441 1121.77 1446 1121.84 1451 1121.91 1456 1121.98 1461 1122.06 1466 1122.13 1471 1122.21 1476 1122.29 1481 1122.36 1486 1122.44 1491 1122.52 1496 1122.6 1501 1122.68 1506 1122.77 1511 1122.85 1516 1122.93 1521 1123.02 1526 1123.1 1531 1123.19 1536 1123.28 1541 1123.37 1546 1123.46 1551 1123.55 1556 1123.64 1561 1123.74 1566 1123.84 1571 1123.93 1576 1124.03 1581 1124.13 1586 1124.23 1591 1124.33 1596 1124.44 1601 1124.54 1606 1124.65 1611 1124.76 1616 1124.86 1621 1124.97 1626 1125.08 1631 1125.19 1636 1125.31 1641 1125.42 1646 1125.53 1651 1125.65 1656 1125.76 1661 1125.88 1666 1126" stroke="url(#g58)" stroke-width="4.1" fill="none" stroke-dasharray="3.74 0.3"/>
<path d="M1381 1125 1386 1125.07 1391 1125.15 1396 1125.22 1401 1125.29 1406 1125.37 1411 1125.44 1416 1125.51 1421 1125.59 1426 1125.66 1431 1125.73 1436 1125.8 1441 1125.87 1446 1125.95 1451 1126.02 1456 1126.09 1461 1126.16 1466 1126.23 1471 1126.31 1476 1126.38 1481 1126.45 1486 1126.52 1491 1126.59 1496 1126.66 1501 1126.73 1506 1126.8 1511 1126.87 1516 1126.94 1521 1127.01 1526 1127.08 1531 1127.15 1536 1127.22 1541 1127.29 1546 1127.36 1551 1127.43 1556 1127.5 1561 1127.57 1566 1127.64 1571 1127.71 1576 1127.78 1581 1127.85 1586 1127.92 1591 1127.99 1596 1128.05 1601 1128.12 1606 1128.19 1611 1128.26 1616 1128.33 1621 1128.39 1626 1128.46 1631 1128.53 1636 1128.6 1641 1128.66 1646 1128.73 1651 1128.8 1656 1128.87 1661 1128.93 1666 1129" stroke="url(#g59)" stroke-width="4.1" fill="none" stroke-dasharray="3.74 0.3"/>
<path d="M1381 1129 1386 1129.06 1391 1129.12 1396 1129.18 1401 1129.24 1406 1129.3 1411 1129.36 1416 1129.43 1421 1129.49 1426 1129.56 1431 1129.63 1436 1129.7 1441 1129.77 1446 1129.84 1451 1129.91 1456 1129.98 1461 1130.06 1466 1130.13 1471 1130.21 1476 1130.29 1481 1130.36 1486 1130.44 1491 1130.52 1496 1130.6 1501 1130.68 1506 1130.77 1511 1130.85 1516 1130.93 1521 1131.02 1526 1131.1 1531 1131.19 1536 1131.28 1541 1131.37 1546 1131.46 1551 1131.55 1556 1131.64 1561 1131.74 1566 1131.84 1571 1131.93 1576 1132.03 1581 1132.13 1586 1132.23 1591 1132.33 1596 1132.44 1601 1132.54 1606 1132.65 1611 1132.76 1616 1132.86 1621 1132.97 1626 1133.08 1631 1133.19 1636 1133.31 1641 1133.42 1646 1133.53 1651 1133.65 1656 1133.76 1661 1133.88 1666 1134" stroke="url(#g60)" stroke-width="4.1" fill="none" stroke-dasharray="3.74 0.3"/>
<path d="M1381 1133 1386 1133 1391 1133.01 1396 1133.02 1401 1133.03 1406 1133.04 1411 1133.06 1416 1133.08 1421 1133.11 1426 1133.13 1431 1133.16 1436 1133.2 1441 1133.23 1446 1133.27 1451 1133.31 1456 1133.35 1461 1133.39 1466 1133.44 1471 1133.48 1476 1133.53 1481 1133.58 1486 1133.63 1491 1133.68 1496 1133.73 1501 1133.79 1506 1133.84 1511 1133.9 1516 1133.95 1521 1134.01 1526 1134.07 1531 1134.14 1536 1134.22 1541 1134.3 1546 1134.39 1551 1134.49 1556 1134.59 1561 1134.7 1566 1134.81 1571 1134.93 1576 1135.06 1581 1135.19 1586 1135.32 1591 1135.46 1596 1135.61 1601 1135.75 1606 1135.91 1611 1136.06 1616 1136.23 1621 1136.39 1626 1136.56 1631 1136.73 1636 1136.9 1641 1137.08 1646 1137.26 1651 1137.44 1656 1137.63 1661 1137.81 1666 1138" stroke="url(#g61)" stroke-width="4.1" fill="none" stroke-dasharray="3.74 0.3"/>
<path d="M1381 1137 1386 1137.07 1391 1137.15 1396 1137.22 1401 1137.29 1406 1137.37 1411 1137.44 1416 1137.51 1421 1137.59 1426 1137.66 1431 1137.73 1436 1137.8 1441 1137.87 1446 1137.95 1451 1138.02 1456 1138.09 1461 1138.16 1466 1138.23 1471 1138.31 1476 1138.38 1481 1138.45 1486 1138.52 1491 1138.59 1496 1138.66 1501 1138.73 1506 1138.8 1511 1138.87 1516 1138.94 1521 1139.01 1526 1139.08 1531 1139.15 1536 1139.22 1541 1139.29 1546 1139.36 1551 1139.43 1556 1139.5 1561 1139.57 1566 1139.64 1571 1139.71 1576 1139.78 1581 1139.85 1586 1139.92 1591 1139.99 1596 1140.05 1601 1140.12 1606 1140.19 1611 1140.26 1616 1140.33 1621 1140.39 1626 1140.46 1631 1140.53 1636 1140.6 1641 1140.66 1646 1140.73 1651 1140.8 1656 1140.87 1661 1140.93 1666 1141" stroke="url(#g62)" stroke-width="4.1" fill="none" stroke-dasharray="3.74 0.3"/>
<path d="M1381 1141.5 1386 1141.5 1391 1141.5 1396 1141.51 1401 1141.51 1406 1141.52 1411 1141.53 1416 1141.54 1421 1141.55 1426 1141.56 1431 1141.58 1436 1141.59 1441 1141.61 1446 1141.63 1451 1141.64 1456 1141.66 1461 1141.68 1466 1141.71 1471 1141.73 1476 1141.75 1481 1141.78 1486 1141.8 1491 1141.83 1496 1141.86 1501 1141.89 1506 1141.92 1511 1141.95 1516 1141.98 1521 1142.01 1526 1142.04 1531 1142.09 1536 1142.14 1541 1142.2 1546 1142.27 1551 1142.35 1556 1142.43 1561 1142.52 1566 1142.62 1571 1142.72 1576 1142.83 1581 1142.94 1586 1143.06 1591 1143.18 1596 1143.31 1601 1143.45 1606 1143.59 1611 1143.73 1616 1143.88 1621 1144.03 1626 1144.18 1631 1144.34 1636 1144.5 1641 1144.66 1646 1144.82 1651 1144.99 1656 1145.16 1661 1145.33 1666 1145.5" stroke="url(#g63)" stroke-width="4.1" fill="none" stroke-dasharray="3.74 0.3"/>
<path d="M1381 1144 1386 1144.06 1391 1144.13 1396 1144.2 1401 1144.28 1406 1144.36 1411 1144.44 1416 1144.53 1421 1144.62 1426 1144.71 1431 1144.81 1436 1144.91 1441 1145.01 1446 1145.12 1451 1145.23 1456 1145.34 1461 1145.46 1466 1145.58 1471 1145.7 1476 1145.82 1481 1145.95 1486 1146.08 1491 1146.21 1496 1146.34 1501 1146.47 1506 1146.61 1511 1146.75 1516 1146.89 1521 1147.03 1526 1147.17 1531 1147.32 1536 1147.48 1541 1147.64 1546 1147.8 1551 1147.97 1556 1148.15 1561 1148.33 1566 1148.51 1571 1148.7 1576 1148.9 1581 1149.09 1586 1149.29 1591 1149.5 1596 1149.71 1601 1149.92 1606 1150.14 1611 1150.36 1616 1150.58 1621 1150.81 1626 1151.04 1631 1151.28 1636 1151.51 1641 1151.76 1646 1152 1651 1152.25 1656 1152.49 1661 1152.75 1666 1153" stroke="url(#g64)" stroke-width="4.1" fill="none" stroke-dasharray="3.74 0.3"/>
<path d="M1381 1172 1386 1170.99 1391 1170 1396 1169.04 1401 1168.11 1406 1167.23 1411 1166.38 1416 1165.59 1421 1164.86 1426 1164.16 1431 1163.49 1436 1162.86 1441 1162.24 1446 1161.65 1451 1161.07 1456 1160.52 1461 1159.97 1466 1159.44 1471 1158.92 1476 1158.41 1481 1157.9 1486 1157.38 1491 1156.84 1496 1156.29 1501 1155.74 1506 1155.18 1511 1154.62 1516 1154.06 1521 1153.52 1526 1152.98 1531 1152.46 1536 1151.97 1541 1151.49 1546 1151.04 1551 1150.63 1556 1150.25 1561 1149.91 1566 1149.61 1571 1149.36 1576 1149.16 1581 1149.02 1586 1148.92 1591 1148.82 1596 1148.73 1601 1148.64 1606 1148.55 1611 1148.47 1616 1148.39 1621 1148.32 1626 1148.26 1631 1148.2 1636 1148.15 1641 1148.11 1646 1148.07 1651 1148.04 1656 1148.02 1661 1148 1666 1148" stroke="url(#g65)" stroke-width="4.1" fill="none" stroke-dasharray="3.74 0.3"/>
<path d="M1381 1173 1386 1172.28 1391 1171.56 1396 1170.87 1401 1170.2 1406 1169.56 1411 1168.96 1416 1168.41 1421 1167.9 1426 1167.43 1431 1166.98 1436 1166.55 1441 1166.13 1446 1165.74 1451 1165.35 1456 1164.98 1461 1164.62 1466 1164.27 1471 1163.93 1476 1163.59 1481 1163.26 1486 1162.93 1491 1162.6 1496 1162.27 1501 1161.93 1506 1161.59 1511 1161.25 1516 1160.9 1521 1160.55 1526 1160.2 1531 1159.85 1536 1159.51 1541 1159.16 1546 1158.83 1551 1158.5 1556 1158.18 1561 1157.87 1566 1157.57 1571 1157.29 1576 1157.02 1581 1156.77 1586 1156.54 1591 1156.33 1596 1156.14 1601 1155.97 1606 1155.81 1611 1155.66 1616 1155.51 1621 1155.36 1626 1155.23 1631 1155.1 1636 1154.98 1641 1154.87 1646 1154.77 1651 1154.68 1656 1154.61 1661 1154.55 1666 1154.5" stroke="url(#g66)" stroke-width="4.1" fill="none" stroke-dasharray="3.74 0.3"/>
<path d="M1381 1174 1386 1175.27 1391 1176.36 1396 1177.16 1401 1177.55 1406 1177.76 1411 1177.91 1416 1177.99 1421 1176.98 1426 1174.78 1431 1173.75 1436 1172.82 1441 1171.99 1446 1171.24 1451 1170.57 1456 1169.96 1461 1169.41 1466 1168.91 1471 1168.45 1476 1168.01 1481 1167.59 1486 1167.18 1491 1166.77 1496 1166.35 1501 1165.91 1506 1165.47 1511 1165.03 1516 1164.6 1521 1164.17 1526 1163.76 1531 1163.35 1536 1162.95 1541 1162.57 1546 1162.19 1551 1161.82 1556 1161.47 1561 1161.13 1566 1160.8 1571 1160.49 1576 1160.19 1581 1159.91 1586 1159.65 1591 1159.4 1596 1159.17 1601 1158.96 1606 1158.76 1611 1158.56 1616 1158.37 1621 1158.19 1626 1158.01 1631 1157.84 1636 1157.69 1641 1157.54 1646 1157.41 1651 1157.28 1656 1157.18 1661 1157.08 1666 1157" stroke="url(#g67)" stroke-width="4.1" fill="none" stroke-dasharray="3.74 0.3"/>
<line x1="340" y1="1174.5" x2="1729" y2="1174.5" stroke="#808080" stroke-width="2"/>
<path d="M1772 334 L1800 335.5 L1896 339.4 L1800 342 L1775 344 L1800 347 L1998 351.8 L1850 355 L1780 358.5 L1772 362 L1775 368.8 L1820 371 L1886 376.1 L1800 380 L1790 382 L1900 384 L2076 385.4 L1900 389 L1931 391.7 L1800 394 L1772 396.7 L1772 720 L1790 723 L1899 730 L1788 732.8 L1827 736.3 L1801 745 L1865 751.8 L1772 755.8 L1772 862 L1776 872 L1781 880 L1786 885.5 L1792 889 L1797 892 L1800 895 L1840 898 L1880 900.3 L1910 902.3 L1880 906.7 L1830 909.5 L1772 912.5 L1772 918 L1780 922.4 L1830 928 L1858 932.6 L1810 935 L1800 936.5 L2012 939.5 L1860 944 L1947 948.5 L2066 954.7 L1900 960 L1830 963.5 L1790 966 L2123 970 L1850 974 L1800 976 L1878 979.3 L1830 982 L1862 986 L1800 988 L1772 990.5 L1772 1061 L1850 1062 L1992 1065 L1803 1071.5 L1881 1074 L2010 1080.9 L1772 1086.9 L1909 1096.2 L1826 1099.4 L2180 1108.4 L1807 1117.7 L2090 1126.7 L1998 1129.7 L2111 1132.7 L1873 1139.6 L2050 1145.6 L1960 1147.5 L1913 1151.3 L1931 1155 L1900 1156.7 L1840 1160.2 L1800 1164.6 L1785 1169 L1778 1173 L1772 1178" stroke="#000" stroke-width="5.0" fill="none" stroke-linejoin="round" stroke-linecap="round"/>
<path d="M1772 334 L1772 1088 L1790 1093 L1795 1100 L1893 1108.4 L1800 1117 L1860 1125 L1868 1130 L1830 1135 L1907 1145.6 L1830 1151 L1795 1159 L1780 1167 L1772 1178" stroke="#1f77b4" stroke-width="3.9" fill="none" stroke-linejoin="round" stroke-linecap="round"/>
<path d="M1772 334 L1776 340 L1772 346 L1776 352 L1772 358 L1772 368 L1777 375 L1772 382 L1777 388 L1772 394 L1772 720 L1775 730 L1772 740 L1775 748 L1772 756 L1772 896 L1774 901 L1772 906 L1772 915 L1778 922 L1785 928 L1775 932 L1777 938 L1783 944 L1775 948 L1806 955 L1785 962 L1775 968 L1780 975 L1790 980 L1780 985 L1772 990 L1772 1062 L1782 1064 L1775 1070 L1793 1081 L1775 1085 L1780 1095 L1783 1104 L1777 1110.6 L1781 1118 L1781 1125.7 L1790 1133.2 L1784 1139 L1813 1145.6 L1792 1151.3 L1801.6 1154 L1786.6 1160 L1777 1168 L1772 1178" stroke="#ff7f0e" stroke-width="3.9" fill="none" stroke-linejoin="round" stroke-linecap="round"/>
<path d="M1772 334 L1800 335.5 L1888 339.4 L1800 342 L1775 344 L1800 347 L1985 351.8 L1850 355 L1780 358.5 L1772 362 L1775 368.8 L1820 371 L1876 376.1 L1800 380 L1790 382 L1900 384 L2055 385.4 L1900 389 L1918 391.7 L1800 394 L1772 396.7 L1772 720 L1790 723 L1890 730 L1788 732.8 L1827 736.3 L1801 745 L1857 751.8 L1772 755.8 L1772 862 L1776 872 L1781 880 L1786 885.5 L1792 889 L1797 892 L1800 895 L1840 898 L1880 900.3 L1903 902.3 L1880 906.7 L1830 909.5 L1772 912.5 L1772 918 L1790 926 L1810 931.5 L1790 935 L1992 939.5 L1860 944 L1876 948.5 L1830 953 L1850 957 L1800 962 L1790 965 L2028 970 L1850 974 L1800 976 L1843 979.3 L1820 982 L1836 986 L1800 988 L1772 990.5 L1772 1062 L1776 1066 L1772 1071 L1776 1080 L1773 1086 L1778 1095 L1784 1105 L1775 1115 L1780 1125 L1776 1135 L1778 1141 L1775 1150 L1773 1165 L1772 1178" stroke="#2ca02c" stroke-width="3.9" fill="none" stroke-linejoin="round" stroke-linecap="round"/>
<path d="M1772 334 L1785 339 L1775 344 L1790 352 L1775 357 L1773 365 L1780 376 L1775 382 L1795 386 L1778 389 L1785 391 L1772 396 L1772 718 L1778 727 L1773 731 L1775 740 L1772 745 L1778 752 L1772 756 L1772 893 L1777 902.4 L1772 910 L1772 917 L1775 925 L1803 933 L1772 936 L1786 940 L1782 945 L1835 948.5 L1772 951.6 L1923 954.7 L1800 961.3 L1772 967 L1855 970.2 L1772 972.8 L1794 979 L1789 983.5 L1772 987 L1772 990 L1772 1061 L1965 1065 L1803 1071.5 L1850 1074 L1980 1081 L1772 1086.9 L1870 1096 L1820 1099.4 L2033 1108.4 L1807 1117.7 L1930 1126.7 L1870 1130 L1930 1133 L1815 1139.6 L1870 1145.6 L1825 1151.3 L1835 1155 L1810 1159 L1790 1164 L1779 1170 L1772 1178" stroke="#d62728" stroke-width="3.9" fill="none" stroke-linejoin="round" stroke-linecap="round"/>
<rect x="340" y="295" width="1389" height="924" fill="none" stroke="#000" stroke-width="4.1"/>
<rect x="1751" y="295" width="448.4" height="924" fill="none" stroke="#000" stroke-width="4.1"/>
<path d="M340 1174h20M1729 1174h-20M1751 1174h20M2199.4 1174h-20" stroke="#000" stroke-width="4.1"/>
<path d="M340 1039.34h20M1729 1039.34h-20M1751 1039.34h20M2199.4 1039.34h-20" stroke="#000" stroke-width="4.1"/>
<path d="M340 904.67h20M1729 904.67h-20M1751 904.67h20M2199.4 904.67h-20" stroke="#000" stroke-width="4.1"/>
<path d="M340 770h20M1729 770h-20M1751 770h20M2199.4 770h-20" stroke="#000" stroke-width="4.1"/>
<path d="M340 635.34h20M1729 635.34h-20M1751 635.34h20M2199.4 635.34h-20" stroke="#000" stroke-width="4.1"/>
<path d="M340 500.67h20M1729 500.67h-20M1751 500.67h20M2199.4 500.67h-20" stroke="#000" stroke-width="4.1"/>
<path d="M340 366.01h20M1729 366.01h-20M1751 366.01h20M2199.4 366.01h-20" stroke="#000" stroke-width="4.1"/>
<path d="M403 1219v-20M403 295v20" stroke="#000" stroke-width="4.1"/>
<path d="M629 1219v-20M629 295v20" stroke="#000" stroke-width="4.1"/>
<path d="M914 1219v-20M914 295v20" stroke="#000" stroke-width="4.1"/>
<path d="M1051 1219v-20M1051 295v20" stroke="#000" stroke-width="4.1"/>
<path d="M1381 1219v-20M1381 295v20" stroke="#000" stroke-width="4.1"/>
<path d="M1666 1219v-20M1666 295v20" stroke="#000" stroke-width="4.1"/>
<path d="M1772 1219v-20M1772 295v20" stroke="#000" stroke-width="4.1"/>
<path d="M1998 1219v-20M1998 295v20" stroke="#000" stroke-width="4.1"/><rect x="345" y="208" width="695" height="55" fill="url(#cbg)" stroke="#000" stroke-width="4"/><path d="M453 210v18M453 261v-18" stroke="#000" stroke-width="4"/><path d="M649 210v18M649 261v-18" stroke="#000" stroke-width="4"/><path d="M844 210v18M844 261v-18" stroke="#000" stroke-width="4"/>
<text font-size="52.28" transform="translate(464.24,98.03) scale(1.0763,1)" fill="#000">Participation Ratio</text>
<text font-size="52.68" transform="translate(397.33,169.07) scale(1.0554,1)" fill="#000">0.25</text>
<text font-size="52.68" transform="translate(593.52,169.07) scale(1.0598,1)" fill="#000">0.50</text>
<text font-size="52.68" transform="translate(789.53,169.07) scale(1.0554,1)" fill="#000">0.75</text>
<text font-size="52.68" transform="translate(985.35,169.07) scale(1.0605,1)" fill="#000">1.00</text>
<text font-size="62.71" transform="translate(272.57,1197.27) scale(1.0372,1)">0</text>
<text font-size="62.71" transform="translate(200.24,1062.61) scale(1.0372,1)">500</text>
<text font-size="62.71" transform="translate(164.08,927.94) scale(1.0372,1)">1000</text>
<text font-size="62.71" transform="translate(164.08,793.28) scale(1.0372,1)">1500</text>
<text font-size="62.71" transform="translate(164.08,658.61) scale(1.0372,1)">2000</text>
<text font-size="62.71" transform="translate(164.08,523.95) scale(1.0372,1)">2500</text>
<text font-size="62.71" transform="translate(164.08,389.28) scale(1.0372,1)">3000</text>
<text font-size="61.77" transform="translate(386.49,1293.1) scale(1.0095,1)" fill="#000">Γ</text>
<text font-size="61.77" transform="translate(613.35,1293.1) scale(0.9764,1)" fill="#000">L</text>
<text font-size="61.77" transform="translate(894.18,1293.1) scale(1.0439,1)" fill="#000">T</text>
<text font-size="61.77" transform="translate(1364.84,1293.1) scale(0.9985,1)" fill="#000">Γ</text>
<text font-size="61.77" transform="translate(1651.92,1293.1) scale(0.8243,1)" fill="#000">F</text>
<text font-size="43.6" transform="translate(998.03,1279.9) scale(0.8320,1)" fill="#000">P</text>
<text font-size="29.38" transform="translate(1022.73,1285.51) scale(1.0183,1)" fill="#000">0</text>
<text font-size="66.26" transform="translate(1043,1306.14) scale(1.0586,1)" fill="#000">/</text>
<text font-size="43.46" transform="translate(1064.04,1311.9) scale(0.8304,1)" fill="#000">P</text>
<text font-size="29.66" transform="translate(1088.41,1317.9) scale(1.0057,1)" fill="#000">2</text>
<text font-size="61.86" transform="translate(1726.58,1293.08) scale(1.0435,1)" fill="#000">0.0</text>
<text font-size="61.86" transform="translate(1952.41,1293.08) scale(1.0304,1)" fill="#000">0.1</text>
<text font-size="61.92" transform="translate(1825.34,1383.8) scale(1.0154,1)" fill="#000">DOS (a.u.)</text>
<rect x="1973" y="586.8" width="201.5" height="339.2" fill="#fff" stroke="#000" stroke-width="1.4"/>
<text font-size="53.49" transform="translate(2036.67,646.7) scale(1.0452,1)" fill="#000">Total</text>
<text font-size="53.49" transform="translate(2037.49,709.8) scale(0.9363,1)" fill="#000">Na</text>
<text font-size="53.49" transform="translate(2038.45,771.6) scale(0.9419,1)" fill="#000">V</text>
<text font-size="53.49" transform="translate(2037.24,834.7) scale(0.9933,1)" fill="#000">H</text>
<text font-size="53.49" transform="translate(2037.13,897) scale(0.9827,1)" fill="#000">O</text>
<text font-size="61.92" transform="translate(111.8,1016.05) rotate(-90) scale(1.0532,1)">Frequency (cm</text>
<text font-size="43.17" transform="translate(89.9,578.06) rotate(-90) scale(1.1649,1)">−1</text>
<text font-size="61.92" transform="translate(111.8,513.3) rotate(-90) scale(0.8045,1)">)</text>
<line x1="1991" y1="627.5" x2="2020.5" y2="627.5" stroke="#000" stroke-width="5.0"/>
<line x1="1991" y1="690" x2="2020.5" y2="690" stroke="#1f77b4" stroke-width="3.9"/>
<line x1="1991" y1="752.7" x2="2020.5" y2="752.7" stroke="#ff7f0e" stroke-width="3.9"/>
<line x1="1991" y1="815.5" x2="2020.5" y2="815.5" stroke="#2ca02c" stroke-width="3.9"/>
<line x1="1991" y1="878.6" x2="2020.5" y2="878.6" stroke="#d62728" stroke-width="3.9"/>
</svg>
</body></html>
